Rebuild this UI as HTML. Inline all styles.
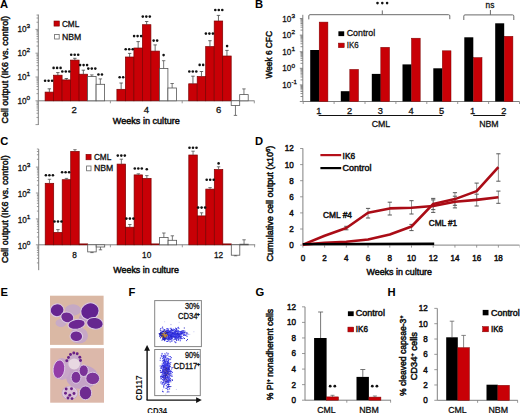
<!DOCTYPE html>
<html><head><meta charset="utf-8"><style>
html,body{margin:0;padding:0;background:#fff;width:520px;height:413px;overflow:hidden}
svg{display:block;font-family:"Liberation Sans", sans-serif}
</style></head><body>
<svg width="520" height="413" viewBox="0 0 520 413" font-family='"Liberation Sans", sans-serif'>
<rect width="520" height="413" fill="#fff"/>
<line x1="38.3" y1="14.5" x2="38.3" y2="125" stroke="#808080" stroke-width="1"/>
<line x1="35.5" y1="124.6" x2="38.3" y2="124.6" stroke="#808080" stroke-width="0.8"/>
<line x1="36.5" y1="117.44" x2="38.3" y2="117.44" stroke="#808080" stroke-width="0.8"/>
<line x1="36.5" y1="113.24" x2="38.3" y2="113.24" stroke="#808080" stroke-width="0.8"/>
<line x1="36.5" y1="110.27" x2="38.3" y2="110.27" stroke="#808080" stroke-width="0.8"/>
<line x1="36.5" y1="107.96" x2="38.3" y2="107.96" stroke="#808080" stroke-width="0.8"/>
<line x1="36.5" y1="106.08" x2="38.3" y2="106.08" stroke="#808080" stroke-width="0.8"/>
<line x1="36.5" y1="104.49" x2="38.3" y2="104.49" stroke="#808080" stroke-width="0.8"/>
<line x1="36.5" y1="103.11" x2="38.3" y2="103.11" stroke="#808080" stroke-width="0.8"/>
<line x1="36.5" y1="101.89" x2="38.3" y2="101.89" stroke="#808080" stroke-width="0.8"/>
<line x1="35.5" y1="100.8" x2="38.3" y2="100.8" stroke="#808080" stroke-width="0.8"/>
<line x1="36.5" y1="93.64" x2="38.3" y2="93.64" stroke="#808080" stroke-width="0.8"/>
<line x1="36.5" y1="89.44" x2="38.3" y2="89.44" stroke="#808080" stroke-width="0.8"/>
<line x1="36.5" y1="86.47" x2="38.3" y2="86.47" stroke="#808080" stroke-width="0.8"/>
<line x1="36.5" y1="84.16" x2="38.3" y2="84.16" stroke="#808080" stroke-width="0.8"/>
<line x1="36.5" y1="82.28" x2="38.3" y2="82.28" stroke="#808080" stroke-width="0.8"/>
<line x1="36.5" y1="80.69" x2="38.3" y2="80.69" stroke="#808080" stroke-width="0.8"/>
<line x1="36.5" y1="79.31" x2="38.3" y2="79.31" stroke="#808080" stroke-width="0.8"/>
<line x1="36.5" y1="78.09" x2="38.3" y2="78.09" stroke="#808080" stroke-width="0.8"/>
<line x1="35.5" y1="77.0" x2="38.3" y2="77.0" stroke="#808080" stroke-width="0.8"/>
<line x1="36.5" y1="69.84" x2="38.3" y2="69.84" stroke="#808080" stroke-width="0.8"/>
<line x1="36.5" y1="65.64" x2="38.3" y2="65.64" stroke="#808080" stroke-width="0.8"/>
<line x1="36.5" y1="62.67" x2="38.3" y2="62.67" stroke="#808080" stroke-width="0.8"/>
<line x1="36.5" y1="60.36" x2="38.3" y2="60.36" stroke="#808080" stroke-width="0.8"/>
<line x1="36.5" y1="58.48" x2="38.3" y2="58.48" stroke="#808080" stroke-width="0.8"/>
<line x1="36.5" y1="56.89" x2="38.3" y2="56.89" stroke="#808080" stroke-width="0.8"/>
<line x1="36.5" y1="55.51" x2="38.3" y2="55.51" stroke="#808080" stroke-width="0.8"/>
<line x1="36.5" y1="54.29" x2="38.3" y2="54.29" stroke="#808080" stroke-width="0.8"/>
<line x1="35.5" y1="53.2" x2="38.3" y2="53.2" stroke="#808080" stroke-width="0.8"/>
<line x1="36.5" y1="46.04" x2="38.3" y2="46.04" stroke="#808080" stroke-width="0.8"/>
<line x1="36.5" y1="41.84" x2="38.3" y2="41.84" stroke="#808080" stroke-width="0.8"/>
<line x1="36.5" y1="38.87" x2="38.3" y2="38.87" stroke="#808080" stroke-width="0.8"/>
<line x1="36.5" y1="36.56" x2="38.3" y2="36.56" stroke="#808080" stroke-width="0.8"/>
<line x1="36.5" y1="34.68" x2="38.3" y2="34.68" stroke="#808080" stroke-width="0.8"/>
<line x1="36.5" y1="33.09" x2="38.3" y2="33.09" stroke="#808080" stroke-width="0.8"/>
<line x1="36.5" y1="31.71" x2="38.3" y2="31.71" stroke="#808080" stroke-width="0.8"/>
<line x1="36.5" y1="30.49" x2="38.3" y2="30.49" stroke="#808080" stroke-width="0.8"/>
<line x1="35.5" y1="29.4" x2="38.3" y2="29.4" stroke="#808080" stroke-width="0.8"/>
<line x1="36.5" y1="22.24" x2="38.3" y2="22.24" stroke="#808080" stroke-width="0.8"/>
<line x1="36.5" y1="18.04" x2="38.3" y2="18.04" stroke="#808080" stroke-width="0.8"/>
<line x1="36.5" y1="15.07" x2="38.3" y2="15.07" stroke="#808080" stroke-width="0.8"/>
<line x1="38.3" y1="100.8" x2="254.5" y2="100.8" stroke="#808080" stroke-width="1"/>
<line x1="110.4" y1="100.8" x2="110.4" y2="103.3" stroke="#808080" stroke-width="0.8"/>
<line x1="182.2" y1="100.8" x2="182.2" y2="103.3" stroke="#808080" stroke-width="0.8"/>
<line x1="254.3" y1="100.8" x2="254.3" y2="103.3" stroke="#808080" stroke-width="0.8"/>
<text x="17.50" y="31.90" font-size="9.2" text-anchor="start" font-weight="normal" fill="#111" stroke="#111" stroke-width="0.3" textLength="9.1" lengthAdjust="spacingAndGlyphs">10</text>
<text x="26.60" y="28.00" font-size="6.0" text-anchor="start" font-weight="normal" fill="#111" stroke="#111" stroke-width="0.3" textLength="3.6" lengthAdjust="spacingAndGlyphs">3</text>
<text x="17.50" y="55.70" font-size="9.2" text-anchor="start" font-weight="normal" fill="#111" stroke="#111" stroke-width="0.3" textLength="9.1" lengthAdjust="spacingAndGlyphs">10</text>
<text x="26.60" y="51.80" font-size="6.0" text-anchor="start" font-weight="normal" fill="#111" stroke="#111" stroke-width="0.3" textLength="3.6" lengthAdjust="spacingAndGlyphs">2</text>
<text x="17.50" y="79.90" font-size="9.2" text-anchor="start" font-weight="normal" fill="#111" stroke="#111" stroke-width="0.3" textLength="9.1" lengthAdjust="spacingAndGlyphs">10</text>
<text x="26.60" y="76.00" font-size="6.0" text-anchor="start" font-weight="normal" fill="#111" stroke="#111" stroke-width="0.3" textLength="3.6" lengthAdjust="spacingAndGlyphs">1</text>
<text x="17.50" y="103.90" font-size="9.2" text-anchor="start" font-weight="normal" fill="#111" stroke="#111" stroke-width="0.3" textLength="9.1" lengthAdjust="spacingAndGlyphs">10</text>
<text x="26.60" y="100.00" font-size="6.0" text-anchor="start" font-weight="normal" fill="#111" stroke="#111" stroke-width="0.3" textLength="3.6" lengthAdjust="spacingAndGlyphs">0</text>
<rect x="45.1" y="92.1" width="8.5" height="8.7" fill="#c80006" stroke="#7c0000" stroke-width="0.7"/>
<line x1="49.35" y1="92.1" x2="49.35" y2="88.8" stroke="#444" stroke-width="0.8"/>
<line x1="47.65" y1="88.8" x2="51.050000000000004" y2="88.8" stroke="#444" stroke-width="0.8"/>
<rect x="53.6" y="75.2" width="8.5" height="25.6" fill="#c80006" stroke="#7c0000" stroke-width="0.7"/>
<line x1="57.85" y1="75.2" x2="57.85" y2="72.6" stroke="#444" stroke-width="0.8"/>
<line x1="56.15" y1="72.6" x2="59.550000000000004" y2="72.6" stroke="#444" stroke-width="0.8"/>
<rect x="62.1" y="79.9" width="8.5" height="20.9" fill="#c80006" stroke="#7c0000" stroke-width="0.7"/>
<line x1="66.35" y1="79.9" x2="66.35" y2="78.5" stroke="#444" stroke-width="0.8"/>
<line x1="64.64999999999999" y1="78.5" x2="68.05" y2="78.5" stroke="#444" stroke-width="0.8"/>
<rect x="70.6" y="60.1" width="8.5" height="40.7" fill="#c80006" stroke="#7c0000" stroke-width="0.7"/>
<line x1="74.85" y1="60.1" x2="74.85" y2="58.3" stroke="#444" stroke-width="0.8"/>
<line x1="73.14999999999999" y1="58.3" x2="76.55" y2="58.3" stroke="#444" stroke-width="0.8"/>
<rect x="79.1" y="74.2" width="8.5" height="26.6" fill="#c80006" stroke="#7c0000" stroke-width="0.7"/>
<line x1="83.35" y1="74.2" x2="83.35" y2="70.2" stroke="#444" stroke-width="0.8"/>
<line x1="81.64999999999999" y1="70.2" x2="85.05" y2="70.2" stroke="#444" stroke-width="0.8"/>
<rect x="87.6" y="76.5" width="8.5" height="24.3" fill="#fff" stroke="#555" stroke-width="0.8"/>
<line x1="91.85" y1="76.5" x2="91.85" y2="74.9" stroke="#555" stroke-width="0.8"/>
<line x1="90.14999999999999" y1="74.9" x2="93.55" y2="74.9" stroke="#555" stroke-width="0.8"/>
<rect x="96.1" y="84.3" width="8.5" height="16.5" fill="#fff" stroke="#555" stroke-width="0.8"/>
<line x1="100.35" y1="84.3" x2="100.35" y2="78.9" stroke="#555" stroke-width="0.8"/>
<line x1="98.64999999999999" y1="78.9" x2="102.05" y2="78.9" stroke="#555" stroke-width="0.8"/>
<circle cx="45.10" cy="80.7" r="1.3" fill="#111"/>
<circle cx="48.60" cy="80.7" r="1.3" fill="#111"/>
<circle cx="52.10" cy="80.7" r="1.3" fill="#111"/>
<circle cx="53.60" cy="67.9" r="1.3" fill="#111"/>
<circle cx="57.10" cy="67.9" r="1.3" fill="#111"/>
<circle cx="60.60" cy="67.9" r="1.3" fill="#111"/>
<circle cx="62.30" cy="71.5" r="1.3" fill="#111"/>
<circle cx="65.80" cy="71.5" r="1.3" fill="#111"/>
<circle cx="69.30" cy="71.5" r="1.3" fill="#111"/>
<circle cx="71.20" cy="54.7" r="1.3" fill="#111"/>
<circle cx="74.70" cy="54.7" r="1.3" fill="#111"/>
<circle cx="78.20" cy="54.7" r="1.3" fill="#111"/>
<circle cx="80.10" cy="65.1" r="1.3" fill="#111"/>
<circle cx="83.60" cy="65.1" r="1.3" fill="#111"/>
<circle cx="87.10" cy="65.1" r="1.3" fill="#111"/>
<circle cx="88.30" cy="68.6" r="1.3" fill="#111"/>
<circle cx="91.80" cy="68.6" r="1.3" fill="#111"/>
<circle cx="95.30" cy="68.6" r="1.3" fill="#111"/>
<circle cx="98.45" cy="74.5" r="1.3" fill="#111"/>
<circle cx="101.95" cy="74.5" r="1.3" fill="#111"/>
<rect x="116.9" y="89.3" width="8.5" height="11.5" fill="#c80006" stroke="#7c0000" stroke-width="0.7"/>
<line x1="121.15" y1="89.3" x2="121.15" y2="83" stroke="#444" stroke-width="0.8"/>
<line x1="119.45" y1="83" x2="122.85000000000001" y2="83" stroke="#444" stroke-width="0.8"/>
<rect x="125.4" y="57" width="8.5" height="43.8" fill="#c80006" stroke="#7c0000" stroke-width="0.7"/>
<line x1="129.65" y1="57" x2="129.65" y2="53.4" stroke="#444" stroke-width="0.8"/>
<line x1="127.95" y1="53.4" x2="131.35" y2="53.4" stroke="#444" stroke-width="0.8"/>
<rect x="133.9" y="48" width="8.5" height="52.8" fill="#c80006" stroke="#7c0000" stroke-width="0.7"/>
<line x1="138.15" y1="48" x2="138.15" y2="41.6" stroke="#444" stroke-width="0.8"/>
<line x1="136.45000000000002" y1="41.6" x2="139.85" y2="41.6" stroke="#444" stroke-width="0.8"/>
<rect x="142.4" y="24.7" width="8.5" height="76.1" fill="#c80006" stroke="#7c0000" stroke-width="0.7"/>
<line x1="146.65" y1="24.7" x2="146.65" y2="21.5" stroke="#444" stroke-width="0.8"/>
<line x1="144.95000000000002" y1="21.5" x2="148.35" y2="21.5" stroke="#444" stroke-width="0.8"/>
<rect x="150.9" y="51.1" width="8.5" height="49.7" fill="#c80006" stroke="#7c0000" stroke-width="0.7"/>
<line x1="155.15" y1="51.1" x2="155.15" y2="44.9" stroke="#444" stroke-width="0.8"/>
<line x1="153.45000000000002" y1="44.9" x2="156.85" y2="44.9" stroke="#444" stroke-width="0.8"/>
<rect x="159.4" y="68.5" width="8.5" height="32.3" fill="#fff" stroke="#555" stroke-width="0.8"/>
<line x1="163.65" y1="68.5" x2="163.65" y2="60.7" stroke="#555" stroke-width="0.8"/>
<line x1="161.95000000000002" y1="60.7" x2="165.35" y2="60.7" stroke="#555" stroke-width="0.8"/>
<rect x="167.9" y="88" width="8.5" height="12.8" fill="#fff" stroke="#555" stroke-width="0.8"/>
<line x1="172.15" y1="88" x2="172.15" y2="83.5" stroke="#555" stroke-width="0.8"/>
<line x1="170.45000000000002" y1="83.5" x2="173.85" y2="83.5" stroke="#555" stroke-width="0.8"/>
<circle cx="119.65" cy="77.2" r="1.3" fill="#111"/>
<circle cx="123.15" cy="77.2" r="1.3" fill="#111"/>
<circle cx="125.70" cy="49.3" r="1.3" fill="#111"/>
<circle cx="129.20" cy="49.3" r="1.3" fill="#111"/>
<circle cx="132.70" cy="49.3" r="1.3" fill="#111"/>
<circle cx="134.10" cy="36.1" r="1.3" fill="#111"/>
<circle cx="137.60" cy="36.1" r="1.3" fill="#111"/>
<circle cx="141.10" cy="36.1" r="1.3" fill="#111"/>
<circle cx="142.80" cy="16.6" r="1.3" fill="#111"/>
<circle cx="146.30" cy="16.6" r="1.3" fill="#111"/>
<circle cx="149.80" cy="16.6" r="1.3" fill="#111"/>
<circle cx="153.65" cy="40.6" r="1.3" fill="#111"/>
<circle cx="157.15" cy="40.6" r="1.3" fill="#111"/>
<circle cx="163.60" cy="55.1" r="1.3" fill="#111"/>
<rect x="188.7" y="83.8" width="8.5" height="17.0" fill="#c80006" stroke="#7c0000" stroke-width="0.7"/>
<line x1="192.95" y1="83.8" x2="192.95" y2="76.2" stroke="#444" stroke-width="0.8"/>
<line x1="191.25" y1="76.2" x2="194.64999999999998" y2="76.2" stroke="#444" stroke-width="0.8"/>
<rect x="197.2" y="76.6" width="8.5" height="24.2" fill="#c80006" stroke="#7c0000" stroke-width="0.7"/>
<line x1="201.45" y1="76.6" x2="201.45" y2="71.5" stroke="#444" stroke-width="0.8"/>
<line x1="199.75" y1="71.5" x2="203.14999999999998" y2="71.5" stroke="#444" stroke-width="0.8"/>
<rect x="205.7" y="46.6" width="8.5" height="54.2" fill="#c80006" stroke="#7c0000" stroke-width="0.7"/>
<line x1="209.95" y1="46.6" x2="209.95" y2="40.7" stroke="#444" stroke-width="0.8"/>
<line x1="208.25" y1="40.7" x2="211.64999999999998" y2="40.7" stroke="#444" stroke-width="0.8"/>
<rect x="214.2" y="21" width="8.5" height="79.8" fill="#c80006" stroke="#7c0000" stroke-width="0.7"/>
<line x1="218.45" y1="21" x2="218.45" y2="15.4" stroke="#444" stroke-width="0.8"/>
<line x1="216.75" y1="15.4" x2="220.14999999999998" y2="15.4" stroke="#444" stroke-width="0.8"/>
<rect x="222.7" y="56" width="8.5" height="44.8" fill="#c80006" stroke="#7c0000" stroke-width="0.7"/>
<line x1="226.95" y1="56" x2="226.95" y2="50.4" stroke="#444" stroke-width="0.8"/>
<line x1="225.25" y1="50.4" x2="228.64999999999998" y2="50.4" stroke="#444" stroke-width="0.8"/>
<rect x="231.2" y="100.8" width="8.5" height="4.6" fill="#fff" stroke="#555" stroke-width="0.8"/>
<line x1="235.45" y1="105.4" x2="235.45" y2="115.4" stroke="#555" stroke-width="0.8"/>
<line x1="233.75" y1="115.4" x2="237.14999999999998" y2="115.4" stroke="#555" stroke-width="0.8"/>
<rect x="239.7" y="94.6" width="8.5" height="6.2" fill="#fff" stroke="#555" stroke-width="0.8"/>
<line x1="243.95" y1="94.6" x2="243.95" y2="88.9" stroke="#555" stroke-width="0.8"/>
<line x1="242.25" y1="88.9" x2="245.64999999999998" y2="88.9" stroke="#555" stroke-width="0.8"/>
<circle cx="189.30" cy="71.5" r="1.3" fill="#111"/>
<circle cx="192.80" cy="71.5" r="1.3" fill="#111"/>
<circle cx="196.30" cy="71.5" r="1.3" fill="#111"/>
<circle cx="199.65" cy="64.9" r="1.3" fill="#111"/>
<circle cx="203.15" cy="64.9" r="1.3" fill="#111"/>
<circle cx="205.90" cy="33.6" r="1.3" fill="#111"/>
<circle cx="209.40" cy="33.6" r="1.3" fill="#111"/>
<circle cx="212.90" cy="33.6" r="1.3" fill="#111"/>
<circle cx="215.30" cy="10.0" r="1.3" fill="#111"/>
<circle cx="218.80" cy="10.0" r="1.3" fill="#111"/>
<circle cx="222.30" cy="10.0" r="1.3" fill="#111"/>
<circle cx="227.10" cy="46.1" r="1.3" fill="#111"/>
<rect x="54" y="21" width="5.3" height="5.1" fill="#c80006" stroke="#7c0000" stroke-width="0.6"/>
<text x="61.9" y="26.6" font-size="8.6" text-anchor="start" font-weight="normal" fill="#111" stroke="#111" stroke-width="0.3" textLength="17.4" lengthAdjust="spacingAndGlyphs">CML</text>
<rect x="54.6" y="34.5" width="4.6" height="4.5" fill="#fff" stroke="#666" stroke-width="0.8"/>
<text x="61.9" y="39.5" font-size="8.6" text-anchor="start" font-weight="normal" fill="#111" stroke="#111" stroke-width="0.3" textLength="19.3" lengthAdjust="spacingAndGlyphs">NBM</text>
<text x="74.2" y="113.1" font-size="9.5" text-anchor="middle" font-weight="normal" fill="#111" stroke="#111" stroke-width="0.3">2</text>
<text x="146.3" y="113.1" font-size="9.5" text-anchor="middle" font-weight="normal" fill="#111" stroke="#111" stroke-width="0.3">4</text>
<text x="218.6" y="113.1" font-size="9.5" text-anchor="middle" font-weight="normal" fill="#111" stroke="#111" stroke-width="0.3">6</text>
<text x="146.3" y="124.4" font-size="9.5" text-anchor="middle" font-weight="normal" fill="#111" stroke="#111" stroke-width="0.5" textLength="67" lengthAdjust="spacingAndGlyphs">Weeks in culture</text>
<text x="8.3" y="69.7" font-size="9.3" text-anchor="middle" font-weight="normal" fill="#111" stroke="#111" stroke-width="0.5" textLength="107.6" lengthAdjust="spacingAndGlyphs" transform="rotate(-90 8.3 69.7)">Cell output (IK6 vs. control)</text>
<text x="0.0" y="8.3" font-size="11.2" text-anchor="start" font-weight="bold" fill="#000">A</text>
<line x1="302.8" y1="14.8" x2="302.8" y2="101.5" stroke="#808080" stroke-width="1"/>
<line x1="299.8" y1="101.5" x2="302.8" y2="101.5" stroke="#707070" stroke-width="0.8"/>
<line x1="300.5" y1="96.5" x2="302.8" y2="96.5" stroke="#707070" stroke-width="0.8"/>
<line x1="300.5" y1="93.58" x2="302.8" y2="93.58" stroke="#707070" stroke-width="0.8"/>
<line x1="300.5" y1="91.51" x2="302.8" y2="91.51" stroke="#707070" stroke-width="0.8"/>
<line x1="300.5" y1="89.9" x2="302.8" y2="89.9" stroke="#707070" stroke-width="0.8"/>
<line x1="300.5" y1="88.58" x2="302.8" y2="88.58" stroke="#707070" stroke-width="0.8"/>
<line x1="300.5" y1="87.47" x2="302.8" y2="87.47" stroke="#707070" stroke-width="0.8"/>
<line x1="300.5" y1="86.51" x2="302.8" y2="86.51" stroke="#707070" stroke-width="0.8"/>
<line x1="300.5" y1="85.66" x2="302.8" y2="85.66" stroke="#707070" stroke-width="0.8"/>
<line x1="299.8" y1="84.9" x2="302.8" y2="84.9" stroke="#707070" stroke-width="0.8"/>
<line x1="300.5" y1="79.9" x2="302.8" y2="79.9" stroke="#707070" stroke-width="0.8"/>
<line x1="300.5" y1="76.98" x2="302.8" y2="76.98" stroke="#707070" stroke-width="0.8"/>
<line x1="300.5" y1="74.91" x2="302.8" y2="74.91" stroke="#707070" stroke-width="0.8"/>
<line x1="300.5" y1="73.3" x2="302.8" y2="73.3" stroke="#707070" stroke-width="0.8"/>
<line x1="300.5" y1="71.98" x2="302.8" y2="71.98" stroke="#707070" stroke-width="0.8"/>
<line x1="300.5" y1="70.87" x2="302.8" y2="70.87" stroke="#707070" stroke-width="0.8"/>
<line x1="300.5" y1="69.91" x2="302.8" y2="69.91" stroke="#707070" stroke-width="0.8"/>
<line x1="300.5" y1="69.06" x2="302.8" y2="69.06" stroke="#707070" stroke-width="0.8"/>
<line x1="299.8" y1="68.3" x2="302.8" y2="68.3" stroke="#707070" stroke-width="0.8"/>
<line x1="300.5" y1="63.3" x2="302.8" y2="63.3" stroke="#707070" stroke-width="0.8"/>
<line x1="300.5" y1="60.38" x2="302.8" y2="60.38" stroke="#707070" stroke-width="0.8"/>
<line x1="300.5" y1="58.31" x2="302.8" y2="58.31" stroke="#707070" stroke-width="0.8"/>
<line x1="300.5" y1="56.7" x2="302.8" y2="56.7" stroke="#707070" stroke-width="0.8"/>
<line x1="300.5" y1="55.38" x2="302.8" y2="55.38" stroke="#707070" stroke-width="0.8"/>
<line x1="300.5" y1="54.27" x2="302.8" y2="54.27" stroke="#707070" stroke-width="0.8"/>
<line x1="300.5" y1="53.31" x2="302.8" y2="53.31" stroke="#707070" stroke-width="0.8"/>
<line x1="300.5" y1="52.46" x2="302.8" y2="52.46" stroke="#707070" stroke-width="0.8"/>
<line x1="299.8" y1="51.7" x2="302.8" y2="51.7" stroke="#707070" stroke-width="0.8"/>
<line x1="300.5" y1="46.7" x2="302.8" y2="46.7" stroke="#707070" stroke-width="0.8"/>
<line x1="300.5" y1="43.78" x2="302.8" y2="43.78" stroke="#707070" stroke-width="0.8"/>
<line x1="300.5" y1="41.71" x2="302.8" y2="41.71" stroke="#707070" stroke-width="0.8"/>
<line x1="300.5" y1="40.1" x2="302.8" y2="40.1" stroke="#707070" stroke-width="0.8"/>
<line x1="300.5" y1="38.78" x2="302.8" y2="38.78" stroke="#707070" stroke-width="0.8"/>
<line x1="300.5" y1="37.67" x2="302.8" y2="37.67" stroke="#707070" stroke-width="0.8"/>
<line x1="300.5" y1="36.71" x2="302.8" y2="36.71" stroke="#707070" stroke-width="0.8"/>
<line x1="300.5" y1="35.86" x2="302.8" y2="35.86" stroke="#707070" stroke-width="0.8"/>
<line x1="299.8" y1="35.1" x2="302.8" y2="35.1" stroke="#707070" stroke-width="0.8"/>
<line x1="300.5" y1="30.1" x2="302.8" y2="30.1" stroke="#707070" stroke-width="0.8"/>
<line x1="300.5" y1="27.18" x2="302.8" y2="27.18" stroke="#707070" stroke-width="0.8"/>
<line x1="300.5" y1="25.11" x2="302.8" y2="25.11" stroke="#707070" stroke-width="0.8"/>
<line x1="300.5" y1="23.5" x2="302.8" y2="23.5" stroke="#707070" stroke-width="0.8"/>
<line x1="300.5" y1="22.18" x2="302.8" y2="22.18" stroke="#707070" stroke-width="0.8"/>
<line x1="300.5" y1="21.07" x2="302.8" y2="21.07" stroke="#707070" stroke-width="0.8"/>
<line x1="300.5" y1="20.11" x2="302.8" y2="20.11" stroke="#707070" stroke-width="0.8"/>
<line x1="300.5" y1="19.26" x2="302.8" y2="19.26" stroke="#707070" stroke-width="0.8"/>
<line x1="299.8" y1="18.5" x2="302.8" y2="18.5" stroke="#707070" stroke-width="0.8"/>
<line x1="302.8" y1="101.5" x2="519.5" y2="101.5" stroke="#808080" stroke-width="1"/>
<line x1="303.2" y1="101.5" x2="303.2" y2="104.0" stroke="#808080" stroke-width="0.8"/>
<line x1="334.09999999999997" y1="101.5" x2="334.09999999999997" y2="104.0" stroke="#808080" stroke-width="0.8"/>
<line x1="365.0" y1="101.5" x2="365.0" y2="104.0" stroke="#808080" stroke-width="0.8"/>
<line x1="395.9" y1="101.5" x2="395.9" y2="104.0" stroke="#808080" stroke-width="0.8"/>
<line x1="426.79999999999995" y1="101.5" x2="426.79999999999995" y2="104.0" stroke="#808080" stroke-width="0.8"/>
<line x1="457.7" y1="101.5" x2="457.7" y2="104.0" stroke="#808080" stroke-width="0.8"/>
<line x1="488.59999999999997" y1="101.5" x2="488.59999999999997" y2="104.0" stroke="#808080" stroke-width="0.8"/>
<line x1="519.5" y1="101.5" x2="519.5" y2="104.0" stroke="#808080" stroke-width="0.8"/>
<text x="282.30" y="21.60" font-size="9.2" text-anchor="start" font-weight="normal" fill="#111" stroke="#111" stroke-width="0.3" textLength="9.1" lengthAdjust="spacingAndGlyphs">10</text>
<text x="291.40" y="17.70" font-size="6.0" text-anchor="start" font-weight="normal" fill="#111" stroke="#111" stroke-width="0.3" textLength="3.6" lengthAdjust="spacingAndGlyphs">3</text>
<text x="282.30" y="38.30" font-size="9.2" text-anchor="start" font-weight="normal" fill="#111" stroke="#111" stroke-width="0.3" textLength="9.1" lengthAdjust="spacingAndGlyphs">10</text>
<text x="291.40" y="34.40" font-size="6.0" text-anchor="start" font-weight="normal" fill="#111" stroke="#111" stroke-width="0.3" textLength="3.6" lengthAdjust="spacingAndGlyphs">2</text>
<text x="282.30" y="55.00" font-size="9.2" text-anchor="start" font-weight="normal" fill="#111" stroke="#111" stroke-width="0.3" textLength="9.1" lengthAdjust="spacingAndGlyphs">10</text>
<text x="291.40" y="51.10" font-size="6.0" text-anchor="start" font-weight="normal" fill="#111" stroke="#111" stroke-width="0.3" textLength="3.6" lengthAdjust="spacingAndGlyphs">1</text>
<text x="282.30" y="71.40" font-size="9.2" text-anchor="start" font-weight="normal" fill="#111" stroke="#111" stroke-width="0.3" textLength="9.1" lengthAdjust="spacingAndGlyphs">10</text>
<text x="291.40" y="67.50" font-size="6.0" text-anchor="start" font-weight="normal" fill="#111" stroke="#111" stroke-width="0.3" textLength="3.6" lengthAdjust="spacingAndGlyphs">0</text>
<text x="282.30" y="88.10" font-size="9.2" text-anchor="start" font-weight="normal" fill="#111" stroke="#111" stroke-width="0.3" textLength="9.1" lengthAdjust="spacingAndGlyphs">10</text>
<text x="291.40" y="84.20" font-size="6.0" text-anchor="start" font-weight="normal" fill="#111" stroke="#111" stroke-width="0.3" textLength="5.4" lengthAdjust="spacingAndGlyphs">-1</text>
<rect x="310.2" y="50.0" width="9.0" height="51.5" fill="#000" stroke="none" stroke-width="0.8"/>
<rect x="319.2" y="22.1" width="8.7" height="79.4" fill="#c80006" stroke="#7c0000" stroke-width="0.5"/>
<rect x="340.8" y="91.2" width="9.0" height="10.3" fill="#000" stroke="none" stroke-width="0.8"/>
<rect x="349.8" y="69.4" width="8.7" height="32.1" fill="#c80006" stroke="#7c0000" stroke-width="0.5"/>
<rect x="371.8" y="73.9" width="9.0" height="27.6" fill="#000" stroke="none" stroke-width="0.8"/>
<rect x="380.8" y="47.3" width="8.7" height="54.2" fill="#c80006" stroke="#7c0000" stroke-width="0.5"/>
<rect x="402.5" y="64.4" width="9.0" height="37.1" fill="#000" stroke="none" stroke-width="0.8"/>
<rect x="411.5" y="38.2" width="8.7" height="63.3" fill="#c80006" stroke="#7c0000" stroke-width="0.5"/>
<rect x="433.3" y="68.3" width="9.0" height="33.2" fill="#000" stroke="none" stroke-width="0.8"/>
<rect x="442.3" y="50.8" width="8.7" height="50.7" fill="#c80006" stroke="#7c0000" stroke-width="0.5"/>
<rect x="464.3" y="37.3" width="9.0" height="64.2" fill="#000" stroke="none" stroke-width="0.8"/>
<rect x="473.3" y="57.6" width="8.7" height="43.9" fill="#c80006" stroke="#7c0000" stroke-width="0.5"/>
<rect x="495.2" y="23.3" width="9.0" height="78.2" fill="#000" stroke="none" stroke-width="0.8"/>
<rect x="504.2" y="36.3" width="8.7" height="65.2" fill="#c80006" stroke="#7c0000" stroke-width="0.5"/>
<text x="318.8" y="114.2" font-size="9.3" text-anchor="middle" font-weight="normal" fill="#111" stroke="#111" stroke-width="0.3">1</text>
<text x="349.7" y="114.2" font-size="9.3" text-anchor="middle" font-weight="normal" fill="#111" stroke="#111" stroke-width="0.3">2</text>
<text x="380.3" y="114.2" font-size="9.3" text-anchor="middle" font-weight="normal" fill="#111" stroke="#111" stroke-width="0.3">3</text>
<text x="411.0" y="114.2" font-size="9.3" text-anchor="middle" font-weight="normal" fill="#111" stroke="#111" stroke-width="0.3">4</text>
<text x="441.6" y="114.2" font-size="9.3" text-anchor="middle" font-weight="normal" fill="#111" stroke="#111" stroke-width="0.3">5</text>
<text x="472.7" y="114.2" font-size="9.3" text-anchor="middle" font-weight="normal" fill="#111" stroke="#111" stroke-width="0.3">1</text>
<text x="503.9" y="114.2" font-size="9.3" text-anchor="middle" font-weight="normal" fill="#111" stroke="#111" stroke-width="0.3">2</text>
<line x1="318.6" y1="115.5" x2="442.4" y2="115.5" stroke="#111" stroke-width="1"/>
<line x1="473.2" y1="115.5" x2="505.2" y2="115.5" stroke="#111" stroke-width="1"/>
<text x="381" y="126.6" font-size="9.3" text-anchor="middle" font-weight="normal" fill="#111" stroke="#111" stroke-width="0.3" textLength="18.5" lengthAdjust="spacingAndGlyphs">CML</text>
<text x="488.9" y="126.5" font-size="9.3" text-anchor="middle" font-weight="normal" fill="#111" stroke="#111" stroke-width="0.3" textLength="19.5" lengthAdjust="spacingAndGlyphs">NBM</text>
<path d="M308.8 19.4 V15.9 Q308.8 14.7 310 14.7 H448.6 Q449.8 14.7 449.8 15.9 V19.2 M382.3 14.7 V10.4" fill="none" stroke="#6a6a6a" stroke-width="1"/>
<circle cx="377.50" cy="3.1" r="1.3" fill="#111"/>
<circle cx="382.30" cy="3.1" r="1.3" fill="#111"/>
<circle cx="387.10" cy="3.1" r="1.3" fill="#111"/>
<path d="M463.8 20 V16.1 Q463.8 14.9 465 14.9 H512.6 Q513.8 14.9 513.8 16.1 V20 M490.4 14.9 V10" fill="none" stroke="#6a6a6a" stroke-width="1"/>
<text x="490.0" y="8.1" font-size="9.3" text-anchor="middle" font-weight="normal" fill="#111" stroke="#111" stroke-width="0.3" textLength="8.8" lengthAdjust="spacingAndGlyphs">ns</text>
<rect x="338.4" y="31.3" width="5.8" height="4.8" fill="#000" stroke="none" stroke-width="0.8"/>
<text x="346.7" y="36.4" font-size="9.3" text-anchor="start" font-weight="normal" fill="#111" stroke="#111" stroke-width="0.3" textLength="28.5" lengthAdjust="spacingAndGlyphs">Control</text>
<rect x="338.4" y="43.1" width="5.8" height="4.6" fill="#c80006" stroke="#7c0000" stroke-width="0.5"/>
<text x="346.7" y="48.1" font-size="9.3" text-anchor="start" font-weight="normal" fill="#111" stroke="#111" stroke-width="0.3" textLength="11.9" lengthAdjust="spacingAndGlyphs">IK6</text>
<text x="272.0" y="54.8" font-size="9.5" text-anchor="middle" font-weight="normal" fill="#111" stroke="#111" stroke-width="0.5" textLength="47.5" lengthAdjust="spacingAndGlyphs" transform="rotate(-90 272.0 54.8)">Week 6 CFC</text>
<text x="255.0" y="8.3" font-size="11.2" text-anchor="start" font-weight="bold" fill="#000">B</text>
<line x1="38.7" y1="149.1" x2="38.7" y2="270.2" stroke="#808080" stroke-width="1"/>
<line x1="36.900000000000006" y1="262.9" x2="38.7" y2="262.9" stroke="#808080" stroke-width="0.8"/>
<line x1="36.900000000000006" y1="258.34" x2="38.7" y2="258.34" stroke="#808080" stroke-width="0.8"/>
<line x1="36.900000000000006" y1="255.11" x2="38.7" y2="255.11" stroke="#808080" stroke-width="0.8"/>
<line x1="36.900000000000006" y1="252.6" x2="38.7" y2="252.6" stroke="#808080" stroke-width="0.8"/>
<line x1="36.900000000000006" y1="250.55" x2="38.7" y2="250.55" stroke="#808080" stroke-width="0.8"/>
<line x1="36.900000000000006" y1="248.81" x2="38.7" y2="248.81" stroke="#808080" stroke-width="0.8"/>
<line x1="36.900000000000006" y1="247.31" x2="38.7" y2="247.31" stroke="#808080" stroke-width="0.8"/>
<line x1="36.900000000000006" y1="245.99" x2="38.7" y2="245.99" stroke="#808080" stroke-width="0.8"/>
<line x1="35.900000000000006" y1="244.8" x2="38.7" y2="244.8" stroke="#808080" stroke-width="0.8"/>
<line x1="36.900000000000006" y1="237.0" x2="38.7" y2="237.0" stroke="#808080" stroke-width="0.8"/>
<line x1="36.900000000000006" y1="232.44" x2="38.7" y2="232.44" stroke="#808080" stroke-width="0.8"/>
<line x1="36.900000000000006" y1="229.21" x2="38.7" y2="229.21" stroke="#808080" stroke-width="0.8"/>
<line x1="36.900000000000006" y1="226.7" x2="38.7" y2="226.7" stroke="#808080" stroke-width="0.8"/>
<line x1="36.900000000000006" y1="224.65" x2="38.7" y2="224.65" stroke="#808080" stroke-width="0.8"/>
<line x1="36.900000000000006" y1="222.91" x2="38.7" y2="222.91" stroke="#808080" stroke-width="0.8"/>
<line x1="36.900000000000006" y1="221.41" x2="38.7" y2="221.41" stroke="#808080" stroke-width="0.8"/>
<line x1="36.900000000000006" y1="220.09" x2="38.7" y2="220.09" stroke="#808080" stroke-width="0.8"/>
<line x1="35.900000000000006" y1="218.9" x2="38.7" y2="218.9" stroke="#808080" stroke-width="0.8"/>
<line x1="36.900000000000006" y1="211.1" x2="38.7" y2="211.1" stroke="#808080" stroke-width="0.8"/>
<line x1="36.900000000000006" y1="206.54" x2="38.7" y2="206.54" stroke="#808080" stroke-width="0.8"/>
<line x1="36.900000000000006" y1="203.31" x2="38.7" y2="203.31" stroke="#808080" stroke-width="0.8"/>
<line x1="36.900000000000006" y1="200.8" x2="38.7" y2="200.8" stroke="#808080" stroke-width="0.8"/>
<line x1="36.900000000000006" y1="198.75" x2="38.7" y2="198.75" stroke="#808080" stroke-width="0.8"/>
<line x1="36.900000000000006" y1="197.01" x2="38.7" y2="197.01" stroke="#808080" stroke-width="0.8"/>
<line x1="36.900000000000006" y1="195.51" x2="38.7" y2="195.51" stroke="#808080" stroke-width="0.8"/>
<line x1="36.900000000000006" y1="194.19" x2="38.7" y2="194.19" stroke="#808080" stroke-width="0.8"/>
<line x1="35.900000000000006" y1="193.0" x2="38.7" y2="193.0" stroke="#808080" stroke-width="0.8"/>
<line x1="36.900000000000006" y1="185.2" x2="38.7" y2="185.2" stroke="#808080" stroke-width="0.8"/>
<line x1="36.900000000000006" y1="180.64" x2="38.7" y2="180.64" stroke="#808080" stroke-width="0.8"/>
<line x1="36.900000000000006" y1="177.41" x2="38.7" y2="177.41" stroke="#808080" stroke-width="0.8"/>
<line x1="36.900000000000006" y1="174.9" x2="38.7" y2="174.9" stroke="#808080" stroke-width="0.8"/>
<line x1="36.900000000000006" y1="172.85" x2="38.7" y2="172.85" stroke="#808080" stroke-width="0.8"/>
<line x1="36.900000000000006" y1="171.11" x2="38.7" y2="171.11" stroke="#808080" stroke-width="0.8"/>
<line x1="36.900000000000006" y1="169.61" x2="38.7" y2="169.61" stroke="#808080" stroke-width="0.8"/>
<line x1="36.900000000000006" y1="168.29" x2="38.7" y2="168.29" stroke="#808080" stroke-width="0.8"/>
<line x1="35.900000000000006" y1="167.1" x2="38.7" y2="167.1" stroke="#808080" stroke-width="0.8"/>
<line x1="36.900000000000006" y1="159.3" x2="38.7" y2="159.3" stroke="#808080" stroke-width="0.8"/>
<line x1="36.900000000000006" y1="154.74" x2="38.7" y2="154.74" stroke="#808080" stroke-width="0.8"/>
<line x1="36.900000000000006" y1="151.51" x2="38.7" y2="151.51" stroke="#808080" stroke-width="0.8"/>
<line x1="36.900000000000006" y1="149.0" x2="38.7" y2="149.0" stroke="#808080" stroke-width="0.8"/>
<line x1="38.7" y1="244.8" x2="255.2" y2="244.8" stroke="#808080" stroke-width="1"/>
<line x1="110.4" y1="244.8" x2="110.4" y2="247.3" stroke="#808080" stroke-width="0.8"/>
<line x1="182.3" y1="244.8" x2="182.3" y2="247.3" stroke="#808080" stroke-width="0.8"/>
<line x1="254.6" y1="244.8" x2="254.6" y2="247.3" stroke="#808080" stroke-width="0.8"/>
<text x="17.70" y="170.90" font-size="9.2" text-anchor="start" font-weight="normal" fill="#111" stroke="#111" stroke-width="0.3" textLength="9.1" lengthAdjust="spacingAndGlyphs">10</text>
<text x="26.80" y="167.00" font-size="6.0" text-anchor="start" font-weight="normal" fill="#111" stroke="#111" stroke-width="0.3" textLength="3.6" lengthAdjust="spacingAndGlyphs">3</text>
<text x="17.70" y="197.00" font-size="9.2" text-anchor="start" font-weight="normal" fill="#111" stroke="#111" stroke-width="0.3" textLength="9.1" lengthAdjust="spacingAndGlyphs">10</text>
<text x="26.80" y="193.10" font-size="6.0" text-anchor="start" font-weight="normal" fill="#111" stroke="#111" stroke-width="0.3" textLength="3.6" lengthAdjust="spacingAndGlyphs">2</text>
<text x="17.70" y="223.10" font-size="9.2" text-anchor="start" font-weight="normal" fill="#111" stroke="#111" stroke-width="0.3" textLength="9.1" lengthAdjust="spacingAndGlyphs">10</text>
<text x="26.80" y="219.20" font-size="6.0" text-anchor="start" font-weight="normal" fill="#111" stroke="#111" stroke-width="0.3" textLength="3.6" lengthAdjust="spacingAndGlyphs">1</text>
<text x="17.70" y="248.70" font-size="9.2" text-anchor="start" font-weight="normal" fill="#111" stroke="#111" stroke-width="0.3" textLength="9.1" lengthAdjust="spacingAndGlyphs">10</text>
<text x="26.80" y="244.80" font-size="6.0" text-anchor="start" font-weight="normal" fill="#111" stroke="#111" stroke-width="0.3" textLength="3.6" lengthAdjust="spacingAndGlyphs">0</text>
<rect x="45.2" y="183.3" width="8.5" height="61.5" fill="#c80006" stroke="#7c0000" stroke-width="0.7"/>
<line x1="49.45" y1="183.3" x2="49.45" y2="179.3" stroke="#555" stroke-width="0.8"/>
<line x1="47.75" y1="179.3" x2="51.150000000000006" y2="179.3" stroke="#555" stroke-width="0.8"/>
<rect x="53.7" y="232.4" width="8.5" height="12.4" fill="#c80006" stroke="#7c0000" stroke-width="0.7"/>
<line x1="57.95" y1="232.4" x2="57.95" y2="229.6" stroke="#555" stroke-width="0.8"/>
<line x1="56.25" y1="229.6" x2="59.650000000000006" y2="229.6" stroke="#555" stroke-width="0.8"/>
<rect x="62.2" y="179.7" width="8.5" height="65.1" fill="#c80006" stroke="#7c0000" stroke-width="0.7"/>
<line x1="66.45" y1="179.7" x2="66.45" y2="178.4" stroke="#555" stroke-width="0.8"/>
<line x1="64.75" y1="178.4" x2="68.15" y2="178.4" stroke="#555" stroke-width="0.8"/>
<rect x="70.7" y="151.4" width="8.5" height="93.4" fill="#c80006" stroke="#7c0000" stroke-width="0.7"/>
<line x1="74.95" y1="151.4" x2="74.95" y2="149.7" stroke="#555" stroke-width="0.8"/>
<line x1="73.25" y1="149.7" x2="76.65" y2="149.7" stroke="#555" stroke-width="0.8"/>
<rect x="79.2" y="243.9" width="8.5" height="0.9" fill="#c80006" stroke="#7c0000" stroke-width="0.7"/>
<rect x="87.7" y="244.8" width="8.5" height="7.1" fill="#fff" stroke="#555" stroke-width="0.8"/>
<line x1="91.95" y1="251.9" x2="91.95" y2="252.6" stroke="#555" stroke-width="0.8"/>
<line x1="90.25" y1="252.6" x2="93.65" y2="252.6" stroke="#555" stroke-width="0.8"/>
<rect x="96.2" y="244.8" width="8.5" height="2.2" fill="#fff" stroke="#555" stroke-width="0.8"/>
<line x1="100.45" y1="247.0" x2="100.45" y2="249.8" stroke="#555" stroke-width="0.8"/>
<line x1="98.75" y1="249.8" x2="102.15" y2="249.8" stroke="#555" stroke-width="0.8"/>
<circle cx="45.90" cy="175.3" r="1.3" fill="#111"/>
<circle cx="49.40" cy="175.3" r="1.3" fill="#111"/>
<circle cx="52.90" cy="175.3" r="1.3" fill="#111"/>
<circle cx="54.50" cy="221.5" r="1.3" fill="#111"/>
<circle cx="58.00" cy="221.5" r="1.3" fill="#111"/>
<circle cx="61.50" cy="221.5" r="1.3" fill="#111"/>
<circle cx="62.10" cy="172.3" r="1.3" fill="#111"/>
<circle cx="65.60" cy="172.3" r="1.3" fill="#111"/>
<circle cx="69.10" cy="172.3" r="1.3" fill="#111"/>
<rect x="117.1" y="164.1" width="8.5" height="80.7" fill="#c80006" stroke="#7c0000" stroke-width="0.7"/>
<line x1="121.35" y1="164.1" x2="121.35" y2="159.2" stroke="#555" stroke-width="0.8"/>
<line x1="119.64999999999999" y1="159.2" x2="123.05" y2="159.2" stroke="#555" stroke-width="0.8"/>
<rect x="125.6" y="227.2" width="8.5" height="17.6" fill="#c80006" stroke="#7c0000" stroke-width="0.7"/>
<line x1="129.85" y1="227.2" x2="129.85" y2="224.5" stroke="#555" stroke-width="0.8"/>
<line x1="128.15" y1="224.5" x2="131.54999999999998" y2="224.5" stroke="#555" stroke-width="0.8"/>
<rect x="134.1" y="174.9" width="8.5" height="69.9" fill="#c80006" stroke="#7c0000" stroke-width="0.7"/>
<line x1="138.35" y1="174.9" x2="138.35" y2="173.8" stroke="#555" stroke-width="0.8"/>
<line x1="136.65" y1="173.8" x2="140.04999999999998" y2="173.8" stroke="#555" stroke-width="0.8"/>
<rect x="142.6" y="178.4" width="8.5" height="66.4" fill="#c80006" stroke="#7c0000" stroke-width="0.7"/>
<line x1="146.85" y1="178.4" x2="146.85" y2="175.6" stroke="#555" stroke-width="0.8"/>
<line x1="145.15" y1="175.6" x2="148.54999999999998" y2="175.6" stroke="#555" stroke-width="0.8"/>
<rect x="151.1" y="243.9" width="8.5" height="0.9" fill="#c80006" stroke="#7c0000" stroke-width="0.7"/>
<rect x="159.6" y="237.4" width="8.5" height="7.4" fill="#fff" stroke="#555" stroke-width="0.8"/>
<line x1="163.85" y1="237.4" x2="163.85" y2="233.0" stroke="#555" stroke-width="0.8"/>
<line x1="162.15" y1="233.0" x2="165.54999999999998" y2="233.0" stroke="#555" stroke-width="0.8"/>
<rect x="168.1" y="240.3" width="8.5" height="4.5" fill="#fff" stroke="#555" stroke-width="0.8"/>
<line x1="172.35" y1="240.3" x2="172.35" y2="235.8" stroke="#555" stroke-width="0.8"/>
<line x1="170.65" y1="235.8" x2="174.04999999999998" y2="235.8" stroke="#555" stroke-width="0.8"/>
<circle cx="117.80" cy="155.6" r="1.3" fill="#111"/>
<circle cx="121.30" cy="155.6" r="1.3" fill="#111"/>
<circle cx="124.80" cy="155.6" r="1.3" fill="#111"/>
<circle cx="126.40" cy="218.6" r="1.3" fill="#111"/>
<circle cx="129.90" cy="218.6" r="1.3" fill="#111"/>
<circle cx="133.40" cy="218.6" r="1.3" fill="#111"/>
<circle cx="134.80" cy="168.5" r="1.3" fill="#111"/>
<circle cx="138.30" cy="168.5" r="1.3" fill="#111"/>
<circle cx="141.80" cy="168.5" r="1.3" fill="#111"/>
<circle cx="146.80" cy="169.2" r="1.3" fill="#111"/>
<rect x="188.8" y="155.0" width="8.5" height="89.8" fill="#c80006" stroke="#7c0000" stroke-width="0.7"/>
<line x1="193.05" y1="155.0" x2="193.05" y2="151.2" stroke="#555" stroke-width="0.8"/>
<line x1="191.35000000000002" y1="151.2" x2="194.75" y2="151.2" stroke="#555" stroke-width="0.8"/>
<rect x="197.3" y="215.9" width="8.5" height="28.9" fill="#c80006" stroke="#7c0000" stroke-width="0.7"/>
<line x1="201.55" y1="215.9" x2="201.55" y2="212.8" stroke="#555" stroke-width="0.8"/>
<line x1="199.85000000000002" y1="212.8" x2="203.25" y2="212.8" stroke="#555" stroke-width="0.8"/>
<rect x="205.8" y="189.1" width="8.5" height="55.7" fill="#c80006" stroke="#7c0000" stroke-width="0.7"/>
<line x1="210.05" y1="189.1" x2="210.05" y2="187.6" stroke="#555" stroke-width="0.8"/>
<line x1="208.35000000000002" y1="187.6" x2="211.75" y2="187.6" stroke="#555" stroke-width="0.8"/>
<rect x="214.3" y="169.5" width="8.5" height="75.3" fill="#c80006" stroke="#7c0000" stroke-width="0.7"/>
<line x1="218.55" y1="169.5" x2="218.55" y2="166.8" stroke="#555" stroke-width="0.8"/>
<line x1="216.85000000000002" y1="166.8" x2="220.25" y2="166.8" stroke="#555" stroke-width="0.8"/>
<rect x="222.8" y="243.9" width="8.5" height="0.9" fill="#c80006" stroke="#7c0000" stroke-width="0.7"/>
<rect x="231.3" y="244.8" width="8.5" height="10.4" fill="#fff" stroke="#555" stroke-width="0.8"/>
<line x1="235.55" y1="255.2" x2="235.55" y2="255.8" stroke="#555" stroke-width="0.8"/>
<line x1="233.85000000000002" y1="255.8" x2="237.25" y2="255.8" stroke="#555" stroke-width="0.8"/>
<rect x="239.8" y="244.2" width="8.5" height="0.6" fill="#fff" stroke="#555" stroke-width="0.8"/>
<line x1="244.05" y1="244.2" x2="244.05" y2="239.8" stroke="#555" stroke-width="0.8"/>
<line x1="242.35000000000002" y1="239.8" x2="245.75" y2="239.8" stroke="#555" stroke-width="0.8"/>
<circle cx="189.50" cy="147.7" r="1.3" fill="#111"/>
<circle cx="193.00" cy="147.7" r="1.3" fill="#111"/>
<circle cx="196.50" cy="147.7" r="1.3" fill="#111"/>
<circle cx="198.10" cy="207.6" r="1.3" fill="#111"/>
<circle cx="201.60" cy="207.6" r="1.3" fill="#111"/>
<circle cx="205.10" cy="207.6" r="1.3" fill="#111"/>
<circle cx="206.70" cy="179.8" r="1.3" fill="#111"/>
<circle cx="210.20" cy="179.8" r="1.3" fill="#111"/>
<circle cx="213.70" cy="179.8" r="1.3" fill="#111"/>
<circle cx="218.60" cy="163.4" r="1.3" fill="#111"/>
<rect x="86" y="154.3" width="5.1" height="5.5" fill="#c80006" stroke="#7c0000" stroke-width="0.6"/>
<text x="93.9" y="160.2" font-size="8.6" text-anchor="start" font-weight="normal" fill="#111" stroke="#111" stroke-width="0.3" textLength="17.4" lengthAdjust="spacingAndGlyphs">CML</text>
<rect x="86.6" y="166.0" width="4.4" height="4.8" fill="#fff" stroke="#666" stroke-width="0.8"/>
<text x="93.9" y="171.2" font-size="8.6" text-anchor="start" font-weight="normal" fill="#111" stroke="#111" stroke-width="0.3" textLength="19.3" lengthAdjust="spacingAndGlyphs">NBM</text>
<text x="74.6" y="258.3" font-size="9.5" text-anchor="middle" font-weight="normal" fill="#111" stroke="#111" stroke-width="0.3" textLength="4.6" lengthAdjust="spacingAndGlyphs">8</text>
<text x="146.7" y="258.3" font-size="9.5" text-anchor="middle" font-weight="normal" fill="#111" stroke="#111" stroke-width="0.3" textLength="9.2" lengthAdjust="spacingAndGlyphs">10</text>
<text x="218.5" y="258.3" font-size="9.5" text-anchor="middle" font-weight="normal" fill="#111" stroke="#111" stroke-width="0.3" textLength="9.2" lengthAdjust="spacingAndGlyphs">12</text>
<text x="146.1" y="273.1" font-size="9.5" text-anchor="middle" font-weight="normal" fill="#111" stroke="#111" stroke-width="0.5" textLength="65.6" lengthAdjust="spacingAndGlyphs">Weeks in culture</text>
<text x="8.3" y="209.2" font-size="9.3" text-anchor="middle" font-weight="normal" fill="#111" stroke="#111" stroke-width="0.5" textLength="107.8" lengthAdjust="spacingAndGlyphs" transform="rotate(-90 8.3 209.2)">Cell output (IK6 vs. control)</text>
<text x="0.3" y="144.6" font-size="11.2" text-anchor="start" font-weight="bold" fill="#000">C</text>
<line x1="302.9" y1="148.4" x2="302.9" y2="245.1" stroke="#808080" stroke-width="1"/>
<line x1="300.09999999999997" y1="245.1" x2="302.9" y2="245.1" stroke="#808080" stroke-width="0.8"/>
<text x="293.8" y="248.0" font-size="9.3" text-anchor="end" font-weight="normal" fill="#111" stroke="#111" stroke-width="0.5" textLength="4.5" lengthAdjust="spacingAndGlyphs">0</text>
<line x1="300.09999999999997" y1="229.0" x2="302.9" y2="229.0" stroke="#808080" stroke-width="0.8"/>
<text x="293.8" y="231.9" font-size="9.3" text-anchor="end" font-weight="normal" fill="#111" stroke="#111" stroke-width="0.5" textLength="4.5" lengthAdjust="spacingAndGlyphs">2</text>
<line x1="300.09999999999997" y1="212.89999999999998" x2="302.9" y2="212.89999999999998" stroke="#808080" stroke-width="0.8"/>
<text x="293.8" y="215.79999999999998" font-size="9.3" text-anchor="end" font-weight="normal" fill="#111" stroke="#111" stroke-width="0.5" textLength="4.5" lengthAdjust="spacingAndGlyphs">4</text>
<line x1="300.09999999999997" y1="196.79999999999998" x2="302.9" y2="196.79999999999998" stroke="#808080" stroke-width="0.8"/>
<text x="293.8" y="199.7" font-size="9.3" text-anchor="end" font-weight="normal" fill="#111" stroke="#111" stroke-width="0.5" textLength="4.5" lengthAdjust="spacingAndGlyphs">6</text>
<line x1="300.09999999999997" y1="180.7" x2="302.9" y2="180.7" stroke="#808080" stroke-width="0.8"/>
<text x="293.8" y="183.6" font-size="9.3" text-anchor="end" font-weight="normal" fill="#111" stroke="#111" stroke-width="0.5" textLength="4.5" lengthAdjust="spacingAndGlyphs">8</text>
<line x1="300.09999999999997" y1="164.6" x2="302.9" y2="164.6" stroke="#808080" stroke-width="0.8"/>
<text x="293.8" y="167.5" font-size="9.3" text-anchor="end" font-weight="normal" fill="#111" stroke="#111" stroke-width="0.5" textLength="9.0" lengthAdjust="spacingAndGlyphs">10</text>
<line x1="300.09999999999997" y1="148.5" x2="302.9" y2="148.5" stroke="#808080" stroke-width="0.8"/>
<text x="293.8" y="151.4" font-size="9.3" text-anchor="end" font-weight="normal" fill="#111" stroke="#111" stroke-width="0.5" textLength="9.0" lengthAdjust="spacingAndGlyphs">12</text>
<line x1="302.9" y1="245.1" x2="519.5" y2="245.1" stroke="#808080" stroke-width="1"/>
<line x1="302.9" y1="245.1" x2="302.9" y2="247.6" stroke="#808080" stroke-width="0.8"/>
<line x1="324.62" y1="245.1" x2="324.62" y2="247.6" stroke="#808080" stroke-width="0.8"/>
<line x1="346.34" y1="245.1" x2="346.34" y2="247.6" stroke="#808080" stroke-width="0.8"/>
<line x1="368.05999999999995" y1="245.1" x2="368.05999999999995" y2="247.6" stroke="#808080" stroke-width="0.8"/>
<line x1="389.78" y1="245.1" x2="389.78" y2="247.6" stroke="#808080" stroke-width="0.8"/>
<line x1="411.5" y1="245.1" x2="411.5" y2="247.6" stroke="#808080" stroke-width="0.8"/>
<line x1="433.21999999999997" y1="245.1" x2="433.21999999999997" y2="247.6" stroke="#808080" stroke-width="0.8"/>
<line x1="454.93999999999994" y1="245.1" x2="454.93999999999994" y2="247.6" stroke="#808080" stroke-width="0.8"/>
<line x1="476.65999999999997" y1="245.1" x2="476.65999999999997" y2="247.6" stroke="#808080" stroke-width="0.8"/>
<line x1="498.38" y1="245.1" x2="498.38" y2="247.6" stroke="#808080" stroke-width="0.8"/>
<line x1="520.0999999999999" y1="245.1" x2="520.0999999999999" y2="247.6" stroke="#808080" stroke-width="0.8"/>
<text x="302.9" y="260.6" font-size="9.3" text-anchor="middle" font-weight="normal" fill="#111" stroke="#111" stroke-width="0.5" textLength="4.5" lengthAdjust="spacingAndGlyphs">0</text>
<text x="324.62" y="260.6" font-size="9.3" text-anchor="middle" font-weight="normal" fill="#111" stroke="#111" stroke-width="0.5" textLength="4.5" lengthAdjust="spacingAndGlyphs">2</text>
<text x="346.34" y="260.6" font-size="9.3" text-anchor="middle" font-weight="normal" fill="#111" stroke="#111" stroke-width="0.5" textLength="4.5" lengthAdjust="spacingAndGlyphs">4</text>
<text x="368.06" y="260.6" font-size="9.3" text-anchor="middle" font-weight="normal" fill="#111" stroke="#111" stroke-width="0.5" textLength="4.5" lengthAdjust="spacingAndGlyphs">6</text>
<text x="389.78" y="260.6" font-size="9.3" text-anchor="middle" font-weight="normal" fill="#111" stroke="#111" stroke-width="0.5" textLength="4.5" lengthAdjust="spacingAndGlyphs">8</text>
<text x="411.5" y="260.6" font-size="9.3" text-anchor="middle" font-weight="normal" fill="#111" stroke="#111" stroke-width="0.5" textLength="9.0" lengthAdjust="spacingAndGlyphs">10</text>
<text x="433.22" y="260.6" font-size="9.3" text-anchor="middle" font-weight="normal" fill="#111" stroke="#111" stroke-width="0.5" textLength="9.0" lengthAdjust="spacingAndGlyphs">12</text>
<text x="454.94" y="260.6" font-size="9.3" text-anchor="middle" font-weight="normal" fill="#111" stroke="#111" stroke-width="0.5" textLength="9.0" lengthAdjust="spacingAndGlyphs">14</text>
<text x="476.66" y="260.6" font-size="9.3" text-anchor="middle" font-weight="normal" fill="#111" stroke="#111" stroke-width="0.5" textLength="9.0" lengthAdjust="spacingAndGlyphs">16</text>
<text x="498.38" y="260.6" font-size="9.3" text-anchor="middle" font-weight="normal" fill="#111" stroke="#111" stroke-width="0.5" textLength="9.0" lengthAdjust="spacingAndGlyphs">18</text>
<text x="399.25" y="274.6" font-size="9.3" text-anchor="middle" font-weight="normal" fill="#111" stroke="#111" stroke-width="0.5" textLength="65.5" lengthAdjust="spacingAndGlyphs">Weeks in culture</text>
<line x1="346.34" y1="226.3" x2="346.34" y2="229.8" stroke="#777" stroke-width="0.8"/>
<line x1="344.23999999999995" y1="226.3" x2="348.44" y2="226.3" stroke="#444" stroke-width="0.9"/>
<line x1="344.23999999999995" y1="229.8" x2="348.44" y2="229.8" stroke="#444" stroke-width="0.9"/>
<line x1="368.05999999999995" y1="208.4" x2="368.05999999999995" y2="218.0" stroke="#777" stroke-width="0.8"/>
<line x1="365.9599999999999" y1="208.4" x2="370.15999999999997" y2="208.4" stroke="#444" stroke-width="0.9"/>
<line x1="365.9599999999999" y1="218.0" x2="370.15999999999997" y2="218.0" stroke="#444" stroke-width="0.9"/>
<line x1="389.78" y1="202.2" x2="389.78" y2="215.0" stroke="#777" stroke-width="0.8"/>
<line x1="387.67999999999995" y1="202.2" x2="391.88" y2="202.2" stroke="#444" stroke-width="0.9"/>
<line x1="387.67999999999995" y1="215.0" x2="391.88" y2="215.0" stroke="#444" stroke-width="0.9"/>
<line x1="411.5" y1="200.7" x2="411.5" y2="214.0" stroke="#777" stroke-width="0.8"/>
<line x1="409.4" y1="200.7" x2="413.6" y2="200.7" stroke="#444" stroke-width="0.9"/>
<line x1="409.4" y1="214.0" x2="413.6" y2="214.0" stroke="#444" stroke-width="0.9"/>
<line x1="433.21999999999997" y1="199.9" x2="433.21999999999997" y2="212.4" stroke="#777" stroke-width="0.8"/>
<line x1="431.11999999999995" y1="199.9" x2="435.32" y2="199.9" stroke="#444" stroke-width="0.9"/>
<line x1="431.11999999999995" y1="212.4" x2="435.32" y2="212.4" stroke="#444" stroke-width="0.9"/>
<line x1="454.93999999999994" y1="196.2" x2="454.93999999999994" y2="207.9" stroke="#777" stroke-width="0.8"/>
<line x1="452.8399999999999" y1="196.2" x2="457.03999999999996" y2="196.2" stroke="#444" stroke-width="0.9"/>
<line x1="452.8399999999999" y1="207.9" x2="457.03999999999996" y2="207.9" stroke="#444" stroke-width="0.9"/>
<line x1="476.65999999999997" y1="194.2" x2="476.65999999999997" y2="206.0" stroke="#777" stroke-width="0.8"/>
<line x1="474.55999999999995" y1="194.2" x2="478.76" y2="194.2" stroke="#444" stroke-width="0.9"/>
<line x1="474.55999999999995" y1="206.0" x2="478.76" y2="206.0" stroke="#444" stroke-width="0.9"/>
<line x1="498.38" y1="191.1" x2="498.38" y2="203.3" stroke="#777" stroke-width="0.8"/>
<line x1="496.28" y1="191.1" x2="500.48" y2="191.1" stroke="#444" stroke-width="0.9"/>
<line x1="496.28" y1="203.3" x2="500.48" y2="203.3" stroke="#444" stroke-width="0.9"/>
<line x1="411.5" y1="224.4" x2="411.5" y2="230.6" stroke="#777" stroke-width="0.8"/>
<line x1="409.4" y1="224.4" x2="413.6" y2="224.4" stroke="#444" stroke-width="0.9"/>
<line x1="409.4" y1="230.6" x2="413.6" y2="230.6" stroke="#444" stroke-width="0.9"/>
<line x1="433.21999999999997" y1="198.4" x2="433.21999999999997" y2="209.6" stroke="#777" stroke-width="0.8"/>
<line x1="431.11999999999995" y1="198.4" x2="435.32" y2="198.4" stroke="#444" stroke-width="0.9"/>
<line x1="431.11999999999995" y1="209.6" x2="435.32" y2="209.6" stroke="#444" stroke-width="0.9"/>
<line x1="454.93999999999994" y1="192.7" x2="454.93999999999994" y2="205.3" stroke="#777" stroke-width="0.8"/>
<line x1="452.8399999999999" y1="192.7" x2="457.03999999999996" y2="192.7" stroke="#444" stroke-width="0.9"/>
<line x1="452.8399999999999" y1="205.3" x2="457.03999999999996" y2="205.3" stroke="#444" stroke-width="0.9"/>
<line x1="476.65999999999997" y1="183.1" x2="476.65999999999997" y2="199.3" stroke="#777" stroke-width="0.8"/>
<line x1="474.55999999999995" y1="183.1" x2="478.76" y2="183.1" stroke="#444" stroke-width="0.9"/>
<line x1="474.55999999999995" y1="199.3" x2="478.76" y2="199.3" stroke="#444" stroke-width="0.9"/>
<line x1="498.38" y1="153.8" x2="498.38" y2="181.2" stroke="#777" stroke-width="0.8"/>
<line x1="496.28" y1="153.8" x2="500.48" y2="153.8" stroke="#444" stroke-width="0.9"/>
<line x1="496.28" y1="181.2" x2="500.48" y2="181.2" stroke="#444" stroke-width="0.9"/>
<polyline points="302.90,244.6 324.62,235.8 346.34,228.0 368.06,212.8 389.78,208.4 411.50,207.8 433.22,206.0 454.94,201.7 476.66,199.9 498.38,197.2" fill="none" stroke="#aa0c16" stroke-width="2.6" stroke-linejoin="round"/>
<polyline points="302.90,244.6 324.62,242.8 346.34,241.8 368.06,239.5 389.78,234.5 411.50,226.5 433.22,203.9 454.94,199.1 476.66,191.1 498.38,167.1" fill="none" stroke="#aa0c16" stroke-width="2.6" stroke-linejoin="round"/>
<line x1="302.9" y1="244.1" x2="434.2" y2="243.8" stroke="#000" stroke-width="2.4"/>
<text x="323.0" y="218.4" font-size="9.3" text-anchor="start" font-weight="normal" fill="#111" stroke="#111" stroke-width="0.5" textLength="29" lengthAdjust="spacingAndGlyphs">CML #4</text>
<text x="428.7" y="226.0" font-size="9.3" text-anchor="start" font-weight="normal" fill="#111" stroke="#111" stroke-width="0.5" textLength="28.5" lengthAdjust="spacingAndGlyphs">CML #1</text>
<line x1="320.4" y1="155.1" x2="341.2" y2="155.1" stroke="#b5101a" stroke-width="2.2"/>
<line x1="320.4" y1="168.1" x2="341.2" y2="168.1" stroke="#000" stroke-width="2.2"/>
<text x="342.6" y="158.5" font-size="9.3" text-anchor="start" font-weight="normal" fill="#111" stroke="#111" stroke-width="0.5" textLength="12.5" lengthAdjust="spacingAndGlyphs">IK6</text>
<text x="342.6" y="171.2" font-size="9.3" text-anchor="start" font-weight="normal" fill="#111" stroke="#111" stroke-width="0.5" textLength="28.9" lengthAdjust="spacingAndGlyphs">Control</text>
<text x="272.9" y="203.6" font-size="9.2" text-anchor="middle" font-weight="normal" fill="#111" stroke="#111" stroke-width="0.5" textLength="116.0" lengthAdjust="spacingAndGlyphs" transform="rotate(-90 272.9 203.6)">Cumulative cell output (x10<tspan font-size="6" dy="-3">6</tspan><tspan dy="3">)</tspan></text>
<text x="255.0" y="144.6" font-size="11.2" text-anchor="start" font-weight="bold" fill="#000">D</text>
<text x="0.5" y="295.5" font-size="11.2" text-anchor="start" font-weight="bold" fill="#000">E</text>
<defs><filter id="bl" x="-5%" y="-5%" width="110%" height="110%"><feGaussianBlur stdDeviation="0.5"/></filter><clipPath id="c1"><rect x="50" y="295.7" width="53.6" height="49.2"/></clipPath><clipPath id="c2"><rect x="50.2" y="348.2" width="53.8" height="54.5"/></clipPath></defs>
<rect x="50" y="295.7" width="53.6" height="49.2" fill="#dab8a4"/>
<rect x="50.2" y="348.2" width="53.8" height="54.5" fill="#dcb8aa"/>
<g clip-path="url(#c1)"><g filter="url(#bl)">
<ellipse cx="73.0" cy="310.0" rx="8.0" ry="5.8" fill="#c5a9c4"/>
<ellipse cx="61.0" cy="323.0" rx="5.5" ry="4.0" fill="#c8abc6"/>
<ellipse cx="79.0" cy="335.5" rx="9.0" ry="8.0" fill="#c7a8c6"/>
<ellipse cx="84.0" cy="318.0" rx="5.0" ry="4.0" fill="#c0a0c4"/>
<ellipse cx="57.1" cy="310.2" rx="6.9" ry="6.4" fill="#662690" stroke="#dccbe4" stroke-width="1.0" transform="rotate(-10 57.1 310.2)"/>
<ellipse cx="67.3" cy="317.4" rx="6.6" ry="5.3" fill="#6e2a92" stroke="#dccbe4" stroke-width="1.0" transform="rotate(18 67.3 317.4)"/>
<ellipse cx="89.9" cy="311.3" rx="9.3" ry="8.3" fill="#632490" stroke="#dccbe4" stroke-width="1.0" transform="rotate(-20 89.9 311.3)"/>
<ellipse cx="94.9" cy="323.3" rx="8.3" ry="5.8" fill="#65258f" stroke="#dccbe4" stroke-width="1.0" transform="rotate(8 94.9 323.3)"/>
<ellipse cx="76.6" cy="324.3" rx="8.6" ry="4.9" fill="#6c2892" stroke="#dccbe4" stroke-width="1.0" transform="rotate(-10 76.6 324.3)"/>
<ellipse cx="76.3" cy="336.3" rx="6.3" ry="5.3" fill="#6e2a93" stroke="#dccbe4" stroke-width="1.0" transform="rotate(5 76.3 336.3)"/>
</g></g>
<g clip-path="url(#c2)"><g filter="url(#bl)">
<ellipse cx="82.0" cy="377.0" rx="16" ry="12" fill="#c4a3c6"/>
<ellipse cx="62.0" cy="369.0" rx="8.0" ry="11.0" fill="#c8a7c8"/>
<ellipse cx="74.2" cy="362.0" rx="8.0" ry="8.0" fill="#c9acca"/>
<ellipse cx="69.8" cy="392.9" rx="8.2" ry="7.2" fill="#c8a8c8"/>
<ellipse cx="74.2" cy="363.9" rx="5.8" ry="5.5" fill="#e8d8e2"/>
<ellipse cx="69.8" cy="392.9" rx="7.0" ry="6.0" fill="#d9bfd6" stroke="#e6d6e8" stroke-width="0.8"/>
<ellipse cx="58.9" cy="369.2" rx="5.8" ry="9.3" fill="#933ea8" stroke="#dfcfe8" stroke-width="0.9" transform="rotate(8 58.9 369.2)"/>
<ellipse cx="76.0" cy="377.3" rx="4.9" ry="6.0" fill="#7a3298" stroke="#dfcfe8" stroke-width="0.9" transform="rotate(0 76.0 377.3)"/>
<ellipse cx="83.7" cy="370.7" rx="4.6" ry="5.8" fill="#7a3298" stroke="#dfcfe8" stroke-width="0.9" transform="rotate(0 83.7 370.7)"/>
<ellipse cx="92.7" cy="378.4" rx="6.9" ry="6.2" fill="#7c3499" stroke="#dfcfe8" stroke-width="0.9" transform="rotate(0 92.7 378.4)"/>
<ellipse cx="85.5" cy="392.9" rx="6.2" ry="6.9" fill="#6e2a90" stroke="#dfcfe8" stroke-width="0.9" transform="rotate(0 85.5 392.9)"/>
<circle cx="70.5" cy="354.5" r="1.45" fill="#6a2087"/>
<circle cx="73.8" cy="353.0" r="1.45" fill="#6a2087"/>
<circle cx="77.2" cy="353.8" r="1.45" fill="#6a2087"/>
<circle cx="68.5" cy="357.5" r="1.45" fill="#6a2087"/>
<circle cx="79.8" cy="357.2" r="1.45" fill="#6a2087"/>
<circle cx="66.8" cy="360.8" r="1.45" fill="#6a2087"/>
<circle cx="80.5" cy="360.5" r="1.45" fill="#6a2087"/>
<circle cx="66.2" cy="389.0" r="1.45" fill="#6a2087"/>
<circle cx="71.5" cy="388.8" r="1.45" fill="#6a2087"/>
<circle cx="65.5" cy="393.2" r="1.45" fill="#6a2087"/>
<circle cx="69.8" cy="395.2" r="1.45" fill="#6a2087"/>
<circle cx="74.0" cy="393.5" r="1.45" fill="#6a2087"/>
<circle cx="68.0" cy="398.0" r="1.45" fill="#6a2087"/>
<circle cx="72.0" cy="398.6" r="1.45" fill="#6a2087"/>
</g></g>
<text x="128.6" y="295.5" font-size="11.2" text-anchor="start" font-weight="bold" fill="#000">F</text>
<rect x="154.7" y="300.6" width="46.7" height="46.0" fill="#fff" stroke="#858585" stroke-width="1.0"/>
<rect x="154.7" y="349.5" width="45.6" height="46.1" fill="#fff" stroke="#858585" stroke-width="1.0"/>
<rect x="164.3" y="335.9" width="1.0" height="1.0" fill="#5050f0"/>
<rect x="169.6" y="336.0" width="1.0" height="1.0" fill="#2a2ad8"/>
<rect x="164.4" y="335.3" width="1.0" height="1.0" fill="#3a30d0"/>
<rect x="165.2" y="335.7" width="1.0" height="1.0" fill="#4444ee"/>
<rect x="166.0" y="335.1" width="1.0" height="1.0" fill="#4444ee"/>
<rect x="168.1" y="335.8" width="1.0" height="1.0" fill="#3636e6"/>
<rect x="162.7" y="332.1" width="1.0" height="1.0" fill="#2a2ad8"/>
<rect x="162.7" y="333.4" width="1.0" height="1.0" fill="#3636e6"/>
<rect x="169.9" y="336.1" width="1.0" height="1.0" fill="#2020c0"/>
<rect x="162.2" y="336.2" width="1.0" height="1.0" fill="#3a30d0"/>
<rect x="163.3" y="339.1" width="1.0" height="1.0" fill="#3636e6"/>
<rect x="167.7" y="336.6" width="1.0" height="1.0" fill="#3636e6"/>
<rect x="162.7" y="337.0" width="1.0" height="1.0" fill="#2a2ad8"/>
<rect x="161.7" y="333.2" width="1.0" height="1.0" fill="#4444ee"/>
<rect x="163.8" y="332.1" width="1.0" height="1.0" fill="#2020c0"/>
<rect x="159.2" y="335.9" width="1.0" height="1.0" fill="#2020c0"/>
<rect x="163.6" y="339.0" width="1.0" height="1.0" fill="#5050f0"/>
<rect x="165.2" y="333.5" width="1.0" height="1.0" fill="#2020c0"/>
<rect x="159.8" y="333.8" width="1.0" height="1.0" fill="#5050f0"/>
<rect x="161.6" y="335.7" width="1.0" height="1.0" fill="#2a2ad8"/>
<rect x="167.0" y="336.4" width="1.0" height="1.0" fill="#2020c0"/>
<rect x="166.7" y="337.1" width="1.0" height="1.0" fill="#2a2ad8"/>
<rect x="166.0" y="334.4" width="1.0" height="1.0" fill="#3a30d0"/>
<rect x="160.2" y="332.2" width="1.0" height="1.0" fill="#2020c0"/>
<rect x="163.7" y="336.6" width="1.0" height="1.0" fill="#4444ee"/>
<rect x="162.5" y="333.2" width="1.0" height="1.0" fill="#2a2ad8"/>
<rect x="167.8" y="333.6" width="1.0" height="1.0" fill="#5050f0"/>
<rect x="168.9" y="336.3" width="1.0" height="1.0" fill="#2020c0"/>
<rect x="160.1" y="328.1" width="1.0" height="1.0" fill="#4444ee"/>
<rect x="164.4" y="337.1" width="1.0" height="1.0" fill="#5050f0"/>
<rect x="161.5" y="339.7" width="1.0" height="1.0" fill="#2020c0"/>
<rect x="165.6" y="335.7" width="1.0" height="1.0" fill="#2a2ad8"/>
<rect x="165.4" y="336.7" width="1.0" height="1.0" fill="#5050f0"/>
<rect x="165.0" y="337.2" width="1.0" height="1.0" fill="#4444ee"/>
<rect x="167.5" y="336.0" width="1.0" height="1.0" fill="#3a30d0"/>
<rect x="164.8" y="336.0" width="1.0" height="1.0" fill="#4444ee"/>
<rect x="166.4" y="333.0" width="1.0" height="1.0" fill="#4444ee"/>
<rect x="168.9" y="334.3" width="1.0" height="1.0" fill="#4444ee"/>
<rect x="166.4" y="334.2" width="1.0" height="1.0" fill="#3636e6"/>
<rect x="167.2" y="337.7" width="1.0" height="1.0" fill="#2a2ad8"/>
<rect x="161.5" y="334.9" width="1.0" height="1.0" fill="#2020c0"/>
<rect x="164.7" y="336.0" width="1.0" height="1.0" fill="#3a30d0"/>
<rect x="162.7" y="337.1" width="1.0" height="1.0" fill="#3636e6"/>
<rect x="163.9" y="331.7" width="1.0" height="1.0" fill="#3a30d0"/>
<rect x="162.6" y="331.1" width="1.0" height="1.0" fill="#4444ee"/>
<rect x="168.7" y="331.9" width="1.0" height="1.0" fill="#5050f0"/>
<rect x="165.8" y="332.1" width="1.0" height="1.0" fill="#4444ee"/>
<rect x="162.7" y="336.4" width="1.0" height="1.0" fill="#4444ee"/>
<rect x="165.9" y="335.0" width="1.0" height="1.0" fill="#3636e6"/>
<rect x="163.8" y="335.1" width="1.0" height="1.0" fill="#3a30d0"/>
<rect x="165.1" y="334.6" width="1.0" height="1.0" fill="#3636e6"/>
<rect x="158.8" y="333.2" width="1.0" height="1.0" fill="#3a30d0"/>
<rect x="170.2" y="335.4" width="1.0" height="1.0" fill="#3a30d0"/>
<rect x="162.4" y="337.2" width="1.0" height="1.0" fill="#2020c0"/>
<rect x="162.6" y="332.8" width="1.0" height="1.0" fill="#2a2ad8"/>
<rect x="169.8" y="327.9" width="1.0" height="1.0" fill="#4444ee"/>
<rect x="162.8" y="334.9" width="1.0" height="1.0" fill="#3636e6"/>
<rect x="166.9" y="336.0" width="1.0" height="1.0" fill="#2020c0"/>
<rect x="161.0" y="335.1" width="1.0" height="1.0" fill="#3a30d0"/>
<rect x="171.3" y="335.5" width="1.0" height="1.0" fill="#3a30d0"/>
<rect x="162.4" y="337.6" width="1.0" height="1.0" fill="#2a2ad8"/>
<rect x="165.1" y="332.4" width="1.0" height="1.0" fill="#5050f0"/>
<rect x="167.6" y="331.6" width="1.0" height="1.0" fill="#2020c0"/>
<rect x="159.4" y="333.9" width="1.0" height="1.0" fill="#2020c0"/>
<rect x="165.4" y="331.4" width="1.0" height="1.0" fill="#3a30d0"/>
<rect x="164.1" y="336.2" width="1.0" height="1.0" fill="#3636e6"/>
<rect x="166.7" y="330.1" width="1.0" height="1.0" fill="#5050f0"/>
<rect x="165.6" y="333.0" width="1.0" height="1.0" fill="#4444ee"/>
<rect x="164.6" y="335.1" width="1.0" height="1.0" fill="#2a2ad8"/>
<rect x="165.7" y="331.8" width="1.0" height="1.0" fill="#3636e6"/>
<rect x="162.7" y="328.5" width="1.0" height="1.0" fill="#4444ee"/>
<rect x="166.5" y="330.7" width="1.0" height="1.0" fill="#2020c0"/>
<rect x="167.4" y="333.9" width="1.0" height="1.0" fill="#3636e6"/>
<rect x="167.3" y="336.4" width="1.0" height="1.0" fill="#2020c0"/>
<rect x="166.0" y="338.1" width="1.0" height="1.0" fill="#3a30d0"/>
<rect x="166.6" y="332.1" width="1.0" height="1.0" fill="#5050f0"/>
<rect x="162.9" y="337.7" width="1.0" height="1.0" fill="#5050f0"/>
<rect x="166.9" y="336.4" width="1.0" height="1.0" fill="#5050f0"/>
<rect x="165.0" y="331.6" width="1.0" height="1.0" fill="#3636e6"/>
<rect x="161.6" y="336.1" width="1.0" height="1.0" fill="#2a2ad8"/>
<rect x="167.2" y="328.0" width="1.0" height="1.0" fill="#4444ee"/>
<rect x="160.8" y="335.6" width="1.0" height="1.0" fill="#2a2ad8"/>
<rect x="164.7" y="333.0" width="1.0" height="1.0" fill="#3636e6"/>
<rect x="168.4" y="335.2" width="1.0" height="1.0" fill="#4444ee"/>
<rect x="165.5" y="333.2" width="1.0" height="1.0" fill="#3a30d0"/>
<rect x="168.8" y="334.1" width="1.0" height="1.0" fill="#2020c0"/>
<rect x="166.8" y="337.3" width="1.0" height="1.0" fill="#2a2ad8"/>
<rect x="171.9" y="335.2" width="1.0" height="1.0" fill="#5050f0"/>
<rect x="168.5" y="337.2" width="1.0" height="1.0" fill="#3636e6"/>
<rect x="160.2" y="336.7" width="1.0" height="1.0" fill="#3636e6"/>
<rect x="166.8" y="334.9" width="1.0" height="1.0" fill="#3a30d0"/>
<rect x="165.2" y="338.0" width="1.0" height="1.0" fill="#2020c0"/>
<rect x="160.3" y="333.2" width="1.0" height="1.0" fill="#2a2ad8"/>
<rect x="167.1" y="333.3" width="1.0" height="1.0" fill="#4444ee"/>
<rect x="162.5" y="330.5" width="1.0" height="1.0" fill="#3a30d0"/>
<rect x="159.9" y="337.4" width="1.0" height="1.0" fill="#3a30d0"/>
<rect x="166.0" y="335.7" width="1.0" height="1.0" fill="#3a30d0"/>
<rect x="167.8" y="334.9" width="1.0" height="1.0" fill="#3636e6"/>
<rect x="161.5" y="331.8" width="1.0" height="1.0" fill="#3636e6"/>
<rect x="166.4" y="337.2" width="1.0" height="1.0" fill="#5050f0"/>
<rect x="165.7" y="335.2" width="1.0" height="1.0" fill="#5050f0"/>
<rect x="161.7" y="334.2" width="1.0" height="1.0" fill="#2a2ad8"/>
<rect x="165.7" y="334.0" width="1.0" height="1.0" fill="#3636e6"/>
<rect x="164.2" y="339.0" width="1.0" height="1.0" fill="#3a30d0"/>
<rect x="164.4" y="334.8" width="1.0" height="1.0" fill="#2a2ad8"/>
<rect x="161.6" y="335.8" width="1.0" height="1.0" fill="#3a30d0"/>
<rect x="163.6" y="333.5" width="1.0" height="1.0" fill="#2020c0"/>
<rect x="161.9" y="335.5" width="1.0" height="1.0" fill="#4444ee"/>
<rect x="163.0" y="334.5" width="1.0" height="1.0" fill="#3a30d0"/>
<rect x="169.4" y="330.3" width="1.0" height="1.0" fill="#2020c0"/>
<rect x="169.9" y="332.0" width="1.0" height="1.0" fill="#3636e6"/>
<rect x="165.8" y="333.4" width="1.0" height="1.0" fill="#2a2ad8"/>
<rect x="163.2" y="336.0" width="1.0" height="1.0" fill="#5050f0"/>
<rect x="165.1" y="335.6" width="1.0" height="1.0" fill="#5050f0"/>
<rect x="164.6" y="335.9" width="1.0" height="1.0" fill="#3636e6"/>
<rect x="168.5" y="333.2" width="1.0" height="1.0" fill="#2020c0"/>
<rect x="168.4" y="338.8" width="1.0" height="1.0" fill="#4444ee"/>
<rect x="166.2" y="340.9" width="1.0" height="1.0" fill="#4444ee"/>
<rect x="166.2" y="333.6" width="1.0" height="1.0" fill="#5050f0"/>
<rect x="165.8" y="333.3" width="1.0" height="1.0" fill="#4444ee"/>
<rect x="167.6" y="334.5" width="1.0" height="1.0" fill="#4444ee"/>
<rect x="165.8" y="336.7" width="1.0" height="1.0" fill="#5050f0"/>
<rect x="163.4" y="336.4" width="1.0" height="1.0" fill="#4444ee"/>
<rect x="164.5" y="334.8" width="1.0" height="1.0" fill="#2020c0"/>
<rect x="162.8" y="334.4" width="1.0" height="1.0" fill="#2a2ad8"/>
<rect x="169.4" y="338.4" width="1.0" height="1.0" fill="#3636e6"/>
<rect x="166.2" y="334.4" width="1.0" height="1.0" fill="#2020c0"/>
<rect x="164.2" y="340.2" width="1.0" height="1.0" fill="#3636e6"/>
<rect x="164.8" y="336.0" width="1.0" height="1.0" fill="#4444ee"/>
<rect x="167.3" y="331.4" width="1.0" height="1.0" fill="#2020c0"/>
<rect x="162.3" y="336.4" width="1.0" height="1.0" fill="#3a30d0"/>
<rect x="161.4" y="332.9" width="1.0" height="1.0" fill="#2a2ad8"/>
<rect x="164.2" y="339.2" width="1.0" height="1.0" fill="#3636e6"/>
<rect x="164.1" y="335.1" width="1.0" height="1.0" fill="#2a2ad8"/>
<rect x="161.9" y="331.1" width="1.0" height="1.0" fill="#2a2ad8"/>
<rect x="163.6" y="333.4" width="1.0" height="1.0" fill="#2020c0"/>
<rect x="166.9" y="332.4" width="1.0" height="1.0" fill="#2020c0"/>
<rect x="167.7" y="334.5" width="1.0" height="1.0" fill="#2020c0"/>
<rect x="164.4" y="334.1" width="1.0" height="1.0" fill="#5050f0"/>
<rect x="165.1" y="335.8" width="1.0" height="1.0" fill="#3636e6"/>
<rect x="164.9" y="336.2" width="1.0" height="1.0" fill="#2020c0"/>
<rect x="162.8" y="332.3" width="1.0" height="1.0" fill="#3636e6"/>
<rect x="164.2" y="337.6" width="1.0" height="1.0" fill="#3636e6"/>
<rect x="164.4" y="339.3" width="1.0" height="1.0" fill="#2020c0"/>
<rect x="165.5" y="334.7" width="1.0" height="1.0" fill="#3a30d0"/>
<rect x="163.4" y="334.1" width="1.0" height="1.0" fill="#4444ee"/>
<rect x="165.1" y="337.4" width="1.0" height="1.0" fill="#5050f0"/>
<rect x="166.2" y="332.1" width="1.0" height="1.0" fill="#4444ee"/>
<rect x="159.8" y="333.1" width="1.0" height="1.0" fill="#3a30d0"/>
<rect x="164.4" y="336.3" width="1.0" height="1.0" fill="#3636e6"/>
<rect x="162.3" y="338.7" width="1.0" height="1.0" fill="#5050f0"/>
<rect x="164.8" y="333.2" width="1.0" height="1.0" fill="#2020c0"/>
<rect x="169.9" y="334.0" width="1.0" height="1.0" fill="#2a2ad8"/>
<rect x="168.9" y="336.4" width="1.0" height="1.0" fill="#2020c0"/>
<rect x="164.2" y="335.0" width="1.0" height="1.0" fill="#5050f0"/>
<rect x="167.9" y="330.2" width="1.0" height="1.0" fill="#5050f0"/>
<rect x="168.5" y="334.0" width="1.0" height="1.0" fill="#5050f0"/>
<rect x="164.2" y="337.4" width="1.0" height="1.0" fill="#3636e6"/>
<rect x="165.0" y="334.8" width="1.0" height="1.0" fill="#2020c0"/>
<rect x="171.8" y="332.9" width="1.0" height="1.0" fill="#3a30d0"/>
<rect x="164.7" y="335.2" width="1.0" height="1.0" fill="#2020c0"/>
<rect x="165.3" y="336.2" width="1.0" height="1.0" fill="#2020c0"/>
<rect x="162.8" y="336.6" width="1.0" height="1.0" fill="#3a30d0"/>
<rect x="163.9" y="333.0" width="1.0" height="1.0" fill="#2a2ad8"/>
<rect x="169.0" y="337.2" width="1.0" height="1.0" fill="#3636e6"/>
<rect x="164.4" y="335.0" width="1.0" height="1.0" fill="#2a2ad8"/>
<rect x="163.9" y="338.1" width="1.0" height="1.0" fill="#2a2ad8"/>
<rect x="162.3" y="333.0" width="1.0" height="1.0" fill="#3636e6"/>
<rect x="162.7" y="331.2" width="1.0" height="1.0" fill="#3a30d0"/>
<rect x="163.2" y="336.1" width="1.0" height="1.0" fill="#4444ee"/>
<rect x="175.0" y="338.1" width="1.0" height="1.0" fill="#5050f0"/>
<rect x="176.0" y="338.6" width="1.0" height="1.0" fill="#5050f0"/>
<rect x="175.7" y="331.6" width="1.0" height="1.0" fill="#5050f0"/>
<rect x="168.8" y="330.8" width="1.0" height="1.0" fill="#3a30d0"/>
<rect x="170.6" y="330.3" width="1.0" height="1.0" fill="#2a2ad8"/>
<rect x="173.4" y="330.7" width="1.0" height="1.0" fill="#5050f0"/>
<rect x="167.5" y="330.0" width="1.0" height="1.0" fill="#3636e6"/>
<rect x="171.7" y="334.6" width="1.0" height="1.0" fill="#5050f0"/>
<rect x="169.1" y="335.3" width="1.0" height="1.0" fill="#4444ee"/>
<rect x="164.2" y="332.7" width="1.0" height="1.0" fill="#5050f0"/>
<rect x="167.0" y="333.8" width="1.0" height="1.0" fill="#2020c0"/>
<rect x="179.1" y="334.3" width="1.0" height="1.0" fill="#5050f0"/>
<rect x="179.8" y="331.6" width="1.0" height="1.0" fill="#2a2ad8"/>
<rect x="169.5" y="333.3" width="1.0" height="1.0" fill="#5050f0"/>
<rect x="161.9" y="335.1" width="1.0" height="1.0" fill="#2020c0"/>
<rect x="171.3" y="339.2" width="1.0" height="1.0" fill="#3636e6"/>
<rect x="165.8" y="334.3" width="1.0" height="1.0" fill="#4444ee"/>
<rect x="173.8" y="332.9" width="1.0" height="1.0" fill="#2a2ad8"/>
<rect x="165.4" y="331.3" width="1.0" height="1.0" fill="#2a2ad8"/>
<rect x="167.0" y="332.6" width="1.0" height="1.0" fill="#5050f0"/>
<rect x="170.3" y="331.6" width="1.0" height="1.0" fill="#3a30d0"/>
<rect x="174.2" y="336.8" width="1.0" height="1.0" fill="#4444ee"/>
<rect x="169.7" y="338.6" width="1.0" height="1.0" fill="#5050f0"/>
<rect x="171.6" y="337.6" width="1.0" height="1.0" fill="#5050f0"/>
<rect x="165.2" y="333.9" width="1.0" height="1.0" fill="#4444ee"/>
<rect x="166.5" y="333.4" width="1.0" height="1.0" fill="#2a2ad8"/>
<rect x="171.3" y="334.0" width="1.0" height="1.0" fill="#4444ee"/>
<rect x="175.6" y="335.8" width="1.0" height="1.0" fill="#4444ee"/>
<rect x="175.2" y="334.1" width="1.0" height="1.0" fill="#3636e6"/>
<rect x="172.4" y="334.8" width="1.0" height="1.0" fill="#5050f0"/>
<rect x="158.8" y="333.1" width="1.0" height="1.0" fill="#3636e6"/>
<rect x="165.1" y="331.6" width="1.0" height="1.0" fill="#2020c0"/>
<rect x="176.2" y="331.1" width="1.0" height="1.0" fill="#3636e6"/>
<rect x="160.7" y="334.3" width="1.0" height="1.0" fill="#4444ee"/>
<rect x="170.9" y="334.2" width="1.0" height="1.0" fill="#4444ee"/>
<rect x="168.5" y="331.4" width="1.0" height="1.0" fill="#5050f0"/>
<rect x="173.3" y="336.3" width="1.0" height="1.0" fill="#2020c0"/>
<rect x="173.6" y="336.1" width="1.0" height="1.0" fill="#2020c0"/>
<rect x="170.5" y="328.5" width="1.0" height="1.0" fill="#2a2ad8"/>
<rect x="173.4" y="333.5" width="1.0" height="1.0" fill="#2a2ad8"/>
<rect x="173.7" y="332.8" width="1.0" height="1.0" fill="#2020c0"/>
<rect x="174.9" y="335.4" width="1.0" height="1.0" fill="#3a30d0"/>
<rect x="180.2" y="337.4" width="1.0" height="1.0" fill="#2020c0"/>
<rect x="172.9" y="332.3" width="1.0" height="1.0" fill="#2a2ad8"/>
<rect x="172.5" y="332.1" width="1.0" height="1.0" fill="#3636e6"/>
<rect x="170.5" y="336.6" width="1.0" height="1.0" fill="#3a30d0"/>
<rect x="167.2" y="338.9" width="1.0" height="1.0" fill="#4444ee"/>
<rect x="177.1" y="330.6" width="1.0" height="1.0" fill="#5050f0"/>
<rect x="162.6" y="337.8" width="1.0" height="1.0" fill="#3a30d0"/>
<rect x="163.2" y="332.7" width="1.0" height="1.0" fill="#2a2ad8"/>
<rect x="175.0" y="332.9" width="1.0" height="1.0" fill="#3a30d0"/>
<rect x="170.6" y="329.9" width="1.0" height="1.0" fill="#2020c0"/>
<rect x="160.0" y="334.8" width="1.0" height="1.0" fill="#3a30d0"/>
<rect x="174.3" y="336.6" width="1.0" height="1.0" fill="#2020c0"/>
<rect x="169.8" y="336.5" width="1.0" height="1.0" fill="#5050f0"/>
<rect x="174.2" y="333.9" width="1.0" height="1.0" fill="#5050f0"/>
<rect x="170.9" y="337.6" width="1.0" height="1.0" fill="#5050f0"/>
<rect x="168.2" y="335.3" width="1.0" height="1.0" fill="#3636e6"/>
<rect x="175.5" y="335.8" width="1.0" height="1.0" fill="#4444ee"/>
<rect x="165.5" y="333.2" width="1.0" height="1.0" fill="#2020c0"/>
<rect x="175.7" y="334.1" width="1.0" height="1.0" fill="#3636e6"/>
<rect x="167.1" y="333.5" width="1.0" height="1.0" fill="#3636e6"/>
<rect x="169.4" y="335.3" width="1.0" height="1.0" fill="#3636e6"/>
<rect x="164.6" y="338.2" width="1.0" height="1.0" fill="#3636e6"/>
<rect x="176.6" y="331.0" width="1.0" height="1.0" fill="#4444ee"/>
<rect x="164.6" y="337.5" width="1.0" height="1.0" fill="#3636e6"/>
<rect x="167.4" y="336.1" width="1.0" height="1.0" fill="#2a2ad8"/>
<rect x="164.2" y="334.2" width="1.0" height="1.0" fill="#2020c0"/>
<rect x="174.5" y="336.7" width="1.0" height="1.0" fill="#5050f0"/>
<rect x="172.8" y="328.6" width="1.0" height="1.0" fill="#2a2ad8"/>
<rect x="170.0" y="336.4" width="1.0" height="1.0" fill="#4444ee"/>
<rect x="167.4" y="331.7" width="1.0" height="1.0" fill="#2020c0"/>
<rect x="176.2" y="329.2" width="1.0" height="1.0" fill="#2a2ad8"/>
<rect x="174.0" y="336.5" width="1.0" height="1.0" fill="#4444ee"/>
<rect x="176.0" y="333.5" width="1.0" height="1.0" fill="#2a2ad8"/>
<rect x="162.0" y="338.5" width="1.0" height="1.0" fill="#3a30d0"/>
<rect x="178.4" y="327.9" width="1.0" height="1.0" fill="#3636e6"/>
<rect x="171.2" y="332.1" width="1.0" height="1.0" fill="#3636e6"/>
<rect x="163.3" y="333.6" width="1.0" height="1.0" fill="#5050f0"/>
<rect x="167.7" y="328.7" width="1.0" height="1.0" fill="#4444ee"/>
<rect x="177.7" y="336.8" width="1.0" height="1.0" fill="#2a2ad8"/>
<rect x="171.2" y="332.1" width="1.0" height="1.0" fill="#2a2ad8"/>
<rect x="168.0" y="332.2" width="1.0" height="1.0" fill="#3636e6"/>
<rect x="166.4" y="331.6" width="1.0" height="1.0" fill="#4444ee"/>
<rect x="169.8" y="332.8" width="1.0" height="1.0" fill="#2a2ad8"/>
<rect x="166.9" y="341.0" width="1.0" height="1.0" fill="#3636e6"/>
<rect x="167.9" y="335.6" width="1.0" height="1.0" fill="#3a30d0"/>
<rect x="176.5" y="334.2" width="1.0" height="1.0" fill="#4444ee"/>
<rect x="169.8" y="336.8" width="1.0" height="1.0" fill="#3636e6"/>
<rect x="167.0" y="334.5" width="1.0" height="1.0" fill="#3636e6"/>
<rect x="175.4" y="334.8" width="1.0" height="1.0" fill="#5050f0"/>
<rect x="170.1" y="334.8" width="1.0" height="1.0" fill="#4444ee"/>
<rect x="175.7" y="331.3" width="1.0" height="1.0" fill="#2a2ad8"/>
<rect x="170.2" y="338.6" width="1.0" height="1.0" fill="#2020c0"/>
<rect x="170.7" y="335.0" width="1.0" height="1.0" fill="#2020c0"/>
<rect x="169.6" y="331.4" width="1.0" height="1.0" fill="#4444ee"/>
<rect x="173.2" y="339.3" width="1.0" height="1.0" fill="#5050f0"/>
<rect x="171.5" y="333.3" width="1.0" height="1.0" fill="#4444ee"/>
<rect x="174.6" y="333.7" width="1.0" height="1.0" fill="#3636e6"/>
<rect x="170.9" y="336.3" width="1.0" height="1.0" fill="#2020c0"/>
<rect x="175.7" y="336.9" width="1.0" height="1.0" fill="#3a30d0"/>
<rect x="171.8" y="336.2" width="1.0" height="1.0" fill="#4444ee"/>
<rect x="171.9" y="333.7" width="1.0" height="1.0" fill="#3a30d0"/>
<rect x="173.4" y="336.6" width="1.0" height="1.0" fill="#3636e6"/>
<rect x="176.9" y="334.8" width="1.0" height="1.0" fill="#4444ee"/>
<rect x="172.1" y="334.5" width="1.0" height="1.0" fill="#4444ee"/>
<rect x="163.3" y="335.7" width="1.0" height="1.0" fill="#2020c0"/>
<rect x="174.4" y="333.1" width="1.0" height="1.0" fill="#3636e6"/>
<rect x="167.1" y="331.2" width="1.0" height="1.0" fill="#4444ee"/>
<rect x="177.5" y="335.1" width="1.0" height="1.0" fill="#4444ee"/>
<rect x="177.9" y="326.8" width="1.0" height="1.0" fill="#4444ee"/>
<rect x="170.7" y="334.4" width="1.0" height="1.0" fill="#2020c0"/>
<rect x="174.9" y="335.7" width="1.0" height="1.0" fill="#2a2ad8"/>
<rect x="163.0" y="332.3" width="1.0" height="1.0" fill="#4444ee"/>
<rect x="165.0" y="338.6" width="1.0" height="1.0" fill="#4444ee"/>
<rect x="176.9" y="336.7" width="1.0" height="1.0" fill="#3636e6"/>
<rect x="163.0" y="339.0" width="1.0" height="1.0" fill="#3636e6"/>
<rect x="167.0" y="338.6" width="1.0" height="1.0" fill="#4444ee"/>
<rect x="175.3" y="334.8" width="1.0" height="1.0" fill="#5050f0"/>
<rect x="170.6" y="333.3" width="1.0" height="1.0" fill="#2a2ad8"/>
<rect x="162.1" y="335.4" width="1.0" height="1.0" fill="#2a2ad8"/>
<rect x="170.1" y="339.2" width="1.0" height="1.0" fill="#3a30d0"/>
<rect x="168.5" y="336.2" width="1.0" height="1.0" fill="#3a30d0"/>
<rect x="178.2" y="335.5" width="1.0" height="1.0" fill="#5050f0"/>
<rect x="168.9" y="336.4" width="1.0" height="1.0" fill="#2a2ad8"/>
<rect x="169.4" y="330.2" width="1.0" height="1.0" fill="#5050f0"/>
<rect x="172.2" y="333.8" width="1.0" height="1.0" fill="#3636e6"/>
<rect x="176.4" y="337.2" width="1.0" height="1.0" fill="#4444ee"/>
<rect x="175.0" y="333.4" width="1.0" height="1.0" fill="#2020c0"/>
<rect x="178.0" y="331.4" width="1.0" height="1.0" fill="#3636e6"/>
<rect x="173.2" y="333.4" width="1.0" height="1.0" fill="#5050f0"/>
<rect x="168.1" y="338.5" width="1.0" height="1.0" fill="#3636e6"/>
<rect x="167.2" y="332.5" width="1.0" height="1.0" fill="#2020c0"/>
<rect x="162.4" y="335.5" width="1.0" height="1.0" fill="#3a30d0"/>
<rect x="173.3" y="335.1" width="1.0" height="1.0" fill="#3636e6"/>
<rect x="170.5" y="335.3" width="1.0" height="1.0" fill="#2a2ad8"/>
<rect x="164.5" y="334.6" width="1.0" height="1.0" fill="#3636e6"/>
<rect x="180.4" y="333.4" width="1.0" height="1.0" fill="#2a2ad8"/>
<rect x="170.3" y="335.5" width="1.0" height="1.0" fill="#2a2ad8"/>
<rect x="173.4" y="333.9" width="1.0" height="1.0" fill="#3636e6"/>
<rect x="164.7" y="336.3" width="1.0" height="1.0" fill="#5050f0"/>
<rect x="171.1" y="337.9" width="1.0" height="1.0" fill="#5050f0"/>
<rect x="171.0" y="329.0" width="1.0" height="1.0" fill="#2020c0"/>
<rect x="168.8" y="337.9" width="1.0" height="1.0" fill="#2020c0"/>
<rect x="170.4" y="336.5" width="1.0" height="1.0" fill="#4444ee"/>
<rect x="170.6" y="336.5" width="1.0" height="1.0" fill="#3636e6"/>
<rect x="168.4" y="340.6" width="1.0" height="1.0" fill="#3636e6"/>
<rect x="168.3" y="336.9" width="1.0" height="1.0" fill="#3636e6"/>
<rect x="167.0" y="334.1" width="1.0" height="1.0" fill="#2a2ad8"/>
<rect x="162.1" y="326.6" width="1.0" height="1.0" fill="#2a2ad8"/>
<rect x="180.4" y="334.4" width="1.0" height="1.0" fill="#3636e6"/>
<rect x="176.2" y="328.6" width="1.0" height="1.0" fill="#2a2ad8"/>
<rect x="173.0" y="332.7" width="1.0" height="1.0" fill="#2a2ad8"/>
<rect x="175.3" y="341.7" width="1.0" height="1.0" fill="#3a30d0"/>
<rect x="171.2" y="335.3" width="1.0" height="1.0" fill="#3a30d0"/>
<rect x="174.0" y="331.8" width="1.0" height="1.0" fill="#2020c0"/>
<rect x="171.6" y="329.8" width="1.0" height="1.0" fill="#2a2ad8"/>
<rect x="175.6" y="336.7" width="1.0" height="1.0" fill="#3a30d0"/>
<rect x="169.7" y="334.9" width="1.0" height="1.0" fill="#2020c0"/>
<rect x="172.5" y="335.8" width="1.0" height="1.0" fill="#2020c0"/>
<rect x="178.1" y="335.4" width="1.0" height="1.0" fill="#3636e6"/>
<rect x="174.0" y="329.1" width="1.0" height="1.0" fill="#4444ee"/>
<rect x="169.2" y="332.5" width="1.0" height="1.0" fill="#2020c0"/>
<rect x="171.6" y="334.6" width="1.0" height="1.0" fill="#4444ee"/>
<rect x="168.8" y="333.9" width="1.0" height="1.0" fill="#2a2ad8"/>
<rect x="172.5" y="330.0" width="1.0" height="1.0" fill="#3636e6"/>
<rect x="169.2" y="333.2" width="1.0" height="1.0" fill="#3636e6"/>
<rect x="167.4" y="335.6" width="1.0" height="1.0" fill="#2020c0"/>
<rect x="168.0" y="331.5" width="1.0" height="1.0" fill="#2a2ad8"/>
<rect x="168.1" y="337.8" width="1.0" height="1.0" fill="#2020c0"/>
<rect x="169.7" y="334.5" width="1.0" height="1.0" fill="#2020c0"/>
<rect x="167.6" y="331.8" width="1.0" height="1.0" fill="#4444ee"/>
<rect x="170.6" y="334.5" width="1.0" height="1.0" fill="#3636e6"/>
<rect x="162.6" y="336.8" width="1.0" height="1.0" fill="#4444ee"/>
<rect x="166.5" y="332.9" width="1.0" height="1.0" fill="#3636e6"/>
<rect x="171.6" y="334.9" width="1.0" height="1.0" fill="#3636e6"/>
<rect x="163.8" y="329.1" width="1.0" height="1.0" fill="#2a2ad8"/>
<rect x="160.6" y="331.2" width="1.0" height="1.0" fill="#5050f0"/>
<rect x="167.8" y="334.2" width="1.0" height="1.0" fill="#2020c0"/>
<rect x="172.1" y="335.8" width="1.0" height="1.0" fill="#2a2ad8"/>
<rect x="174.8" y="336.4" width="1.0" height="1.0" fill="#3636e6"/>
<rect x="167.6" y="339.6" width="1.0" height="1.0" fill="#2a2ad8"/>
<rect x="175.9" y="333.7" width="1.0" height="1.0" fill="#2a2ad8"/>
<rect x="165.2" y="331.5" width="1.0" height="1.0" fill="#2a2ad8"/>
<rect x="176.0" y="331.8" width="1.0" height="1.0" fill="#3636e6"/>
<rect x="164.5" y="329.6" width="1.0" height="1.0" fill="#3a30d0"/>
<rect x="162.8" y="337.5" width="1.0" height="1.0" fill="#4444ee"/>
<rect x="171.9" y="336.1" width="1.0" height="1.0" fill="#4444ee"/>
<rect x="173.1" y="333.5" width="1.0" height="1.0" fill="#2020c0"/>
<rect x="173.1" y="335.8" width="1.0" height="1.0" fill="#5050f0"/>
<rect x="171.8" y="332.4" width="1.0" height="1.0" fill="#3a30d0"/>
<rect x="174.4" y="330.5" width="1.0" height="1.0" fill="#5050f0"/>
<rect x="171.8" y="332.9" width="1.0" height="1.0" fill="#3a30d0"/>
<rect x="161.5" y="335.8" width="1.0" height="1.0" fill="#2020c0"/>
<rect x="168.1" y="332.1" width="1.0" height="1.0" fill="#3636e6"/>
<rect x="164.2" y="336.2" width="1.0" height="1.0" fill="#4444ee"/>
<rect x="167.5" y="334.2" width="1.0" height="1.0" fill="#2a2ad8"/>
<rect x="166.4" y="331.8" width="1.0" height="1.0" fill="#3636e6"/>
<rect x="164.2" y="335.6" width="1.0" height="1.0" fill="#4444ee"/>
<rect x="175.0" y="329.5" width="1.0" height="1.0" fill="#4444ee"/>
<rect x="172.5" y="335.2" width="1.0" height="1.0" fill="#4444ee"/>
<rect x="164.8" y="338.2" width="1.0" height="1.0" fill="#3a30d0"/>
<rect x="169.1" y="334.1" width="1.0" height="1.0" fill="#5050f0"/>
<rect x="177.9" y="339.1" width="1.0" height="1.0" fill="#2020c0"/>
<rect x="171.5" y="330.7" width="1.0" height="1.0" fill="#2a2ad8"/>
<rect x="170.6" y="327.8" width="1.0" height="1.0" fill="#5050f0"/>
<rect x="173.0" y="333.7" width="1.0" height="1.0" fill="#2a2ad8"/>
<rect x="178.3" y="334.1" width="1.0" height="1.0" fill="#2a2ad8"/>
<rect x="175.2" y="342.2" width="1.0" height="1.0" fill="#4444ee"/>
<rect x="168.4" y="339.5" width="1.0" height="1.0" fill="#3636e6"/>
<rect x="167.5" y="329.8" width="1.0" height="1.0" fill="#3636e6"/>
<rect x="174.6" y="335.3" width="1.0" height="1.0" fill="#2020c0"/>
<rect x="176.0" y="339.6" width="1.0" height="1.0" fill="#2020c0"/>
<rect x="174.9" y="332.3" width="1.0" height="1.0" fill="#2020c0"/>
<rect x="159.7" y="334.1" width="1.0" height="1.0" fill="#3636e6"/>
<rect x="164.9" y="331.9" width="1.0" height="1.0" fill="#3636e6"/>
<rect x="169.9" y="334.9" width="1.0" height="1.0" fill="#3636e6"/>
<rect x="164.9" y="336.6" width="1.0" height="1.0" fill="#2020c0"/>
<rect x="166.1" y="328.4" width="1.0" height="1.0" fill="#3636e6"/>
<rect x="171.5" y="331.9" width="1.0" height="1.0" fill="#3a30d0"/>
<rect x="179.6" y="336.0" width="1.0" height="1.0" fill="#4444ee"/>
<rect x="164.6" y="332.9" width="1.0" height="1.0" fill="#2a2ad8"/>
<rect x="170.4" y="337.9" width="1.0" height="1.0" fill="#4444ee"/>
<rect x="170.1" y="331.3" width="1.0" height="1.0" fill="#4444ee"/>
<rect x="176.8" y="334.0" width="1.0" height="1.0" fill="#2020c0"/>
<rect x="169.5" y="335.3" width="1.0" height="1.0" fill="#3636e6"/>
<rect x="174.0" y="338.6" width="1.0" height="1.0" fill="#2a2ad8"/>
<rect x="168.8" y="337.7" width="1.0" height="1.0" fill="#2020c0"/>
<rect x="161.6" y="327.6" width="1.0" height="1.0" fill="#3a30d0"/>
<rect x="179.7" y="331.4" width="1.0" height="1.0" fill="#5050f0"/>
<rect x="171.8" y="334.2" width="1.0" height="1.0" fill="#3636e6"/>
<rect x="168.8" y="338.3" width="1.0" height="1.0" fill="#4444ee"/>
<rect x="160.3" y="333.7" width="1.0" height="1.0" fill="#3636e6"/>
<rect x="163.9" y="334.5" width="1.0" height="1.0" fill="#2a2ad8"/>
<rect x="170.8" y="334.2" width="1.0" height="1.0" fill="#2020c0"/>
<rect x="168.6" y="337.6" width="1.0" height="1.0" fill="#3a30d0"/>
<rect x="171.5" y="338.1" width="1.0" height="1.0" fill="#3a30d0"/>
<rect x="173.6" y="336.3" width="1.0" height="1.0" fill="#4444ee"/>
<rect x="170.9" y="334.6" width="1.0" height="1.0" fill="#3636e6"/>
<rect x="169.1" y="331.0" width="1.0" height="1.0" fill="#2a2ad8"/>
<rect x="164.2" y="329.6" width="1.0" height="1.0" fill="#2020c0"/>
<rect x="167.4" y="335.6" width="1.0" height="1.0" fill="#2a2ad8"/>
<rect x="178.9" y="336.1" width="1.0" height="1.0" fill="#2020c0"/>
<rect x="165.3" y="332.0" width="1.0" height="1.0" fill="#3a30d0"/>
<rect x="177.7" y="332.3" width="1.0" height="1.0" fill="#3636e6"/>
<rect x="170.6" y="334.3" width="1.0" height="1.0" fill="#2a2ad8"/>
<rect x="165.7" y="333.6" width="1.0" height="1.0" fill="#3636e6"/>
<rect x="176.2" y="339.8" width="1.0" height="1.0" fill="#2a2ad8"/>
<rect x="176.6" y="334.5" width="1.0" height="1.0" fill="#3636e6"/>
<rect x="172.5" y="335.8" width="1.0" height="1.0" fill="#3a30d0"/>
<rect x="166.2" y="330.8" width="1.0" height="1.0" fill="#4444ee"/>
<rect x="171.7" y="332.5" width="1.0" height="1.0" fill="#2020c0"/>
<rect x="176.7" y="335.8" width="1.0" height="1.0" fill="#5050f0"/>
<rect x="172.1" y="329.5" width="1.0" height="1.0" fill="#2a2ad8"/>
<rect x="166.9" y="336.5" width="1.0" height="1.0" fill="#4444ee"/>
<rect x="176.6" y="336.3" width="1.0" height="1.0" fill="#3636e6"/>
<rect x="170.8" y="335.6" width="1.0" height="1.0" fill="#3636e6"/>
<rect x="169.0" y="333.0" width="1.0" height="1.0" fill="#5050f0"/>
<rect x="180.7" y="330.9" width="1.0" height="1.0" fill="#2020c0"/>
<rect x="169.6" y="331.9" width="1.0" height="1.0" fill="#3a30d0"/>
<rect x="167.4" y="330.1" width="1.0" height="1.0" fill="#3a30d0"/>
<rect x="174.5" y="333.8" width="1.0" height="1.0" fill="#3636e6"/>
<rect x="175.4" y="336.0" width="1.0" height="1.0" fill="#3636e6"/>
<rect x="170.3" y="336.4" width="1.0" height="1.0" fill="#5050f0"/>
<rect x="171.3" y="335.9" width="1.0" height="1.0" fill="#2020c0"/>
<rect x="172.2" y="337.0" width="1.0" height="1.0" fill="#3a30d0"/>
<rect x="171.2" y="340.7" width="1.0" height="1.0" fill="#5050f0"/>
<rect x="182.5" y="330.2" width="1.0" height="1.0" fill="#3a30d0"/>
<rect x="161.5" y="335.3" width="1.0" height="1.0" fill="#5050f0"/>
<rect x="171.6" y="334.2" width="1.0" height="1.0" fill="#5050f0"/>
<rect x="171.5" y="340.4" width="1.0" height="1.0" fill="#3636e6"/>
<rect x="165.6" y="336.7" width="1.0" height="1.0" fill="#3a30d0"/>
<rect x="172.8" y="333.3" width="1.0" height="1.0" fill="#2a2ad8"/>
<rect x="175.6" y="336.9" width="1.0" height="1.0" fill="#3636e6"/>
<rect x="169.0" y="335.6" width="1.0" height="1.0" fill="#2a2ad8"/>
<rect x="173.1" y="334.5" width="1.0" height="1.0" fill="#5050f0"/>
<rect x="165.6" y="330.7" width="1.0" height="1.0" fill="#5050f0"/>
<rect x="179.6" y="335.9" width="1.0" height="1.0" fill="#2020c0"/>
<rect x="174.2" y="341.3" width="1.0" height="1.0" fill="#3a30d0"/>
<rect x="171.9" y="333.5" width="1.0" height="1.0" fill="#5050f0"/>
<rect x="172.6" y="333.7" width="1.0" height="1.0" fill="#3636e6"/>
<rect x="170.9" y="335.0" width="1.0" height="1.0" fill="#5050f0"/>
<rect x="177.3" y="336.8" width="1.0" height="1.0" fill="#5050f0"/>
<rect x="170.0" y="335.5" width="1.0" height="1.0" fill="#2a2ad8"/>
<rect x="172.3" y="330.0" width="1.0" height="1.0" fill="#2020c0"/>
<rect x="168.4" y="337.1" width="1.0" height="1.0" fill="#2a2ad8"/>
<rect x="163.9" y="339.8" width="1.0" height="1.0" fill="#2a2ad8"/>
<rect x="169.5" y="331.4" width="1.0" height="1.0" fill="#2020c0"/>
<rect x="171.3" y="330.2" width="1.0" height="1.0" fill="#4444ee"/>
<rect x="174.5" y="330.9" width="1.0" height="1.0" fill="#2a2ad8"/>
<rect x="170.8" y="333.5" width="1.0" height="1.0" fill="#3a30d0"/>
<rect x="171.1" y="331.5" width="1.0" height="1.0" fill="#5050f0"/>
<rect x="176.4" y="335.4" width="1.0" height="1.0" fill="#5050f0"/>
<rect x="171.9" y="333.2" width="1.0" height="1.0" fill="#2020c0"/>
<rect x="170.6" y="334.3" width="1.0" height="1.0" fill="#3636e6"/>
<rect x="168.6" y="339.1" width="1.0" height="1.0" fill="#2a2ad8"/>
<rect x="176.1" y="334.3" width="1.0" height="1.0" fill="#4444ee"/>
<rect x="167.5" y="328.9" width="1.0" height="1.0" fill="#4444ee"/>
<rect x="160.4" y="330.1" width="1.0" height="1.0" fill="#3a30d0"/>
<rect x="169.7" y="341.4" width="1.0" height="1.0" fill="#2020c0"/>
<rect x="175.0" y="327.7" width="1.0" height="1.0" fill="#3636e6"/>
<rect x="168.2" y="334.2" width="1.0" height="1.0" fill="#5050f0"/>
<rect x="171.1" y="330.7" width="1.0" height="1.0" fill="#5050f0"/>
<rect x="168.4" y="333.7" width="1.0" height="1.0" fill="#2020c0"/>
<rect x="167.5" y="336.6" width="1.0" height="1.0" fill="#4444ee"/>
<rect x="176.7" y="331.1" width="1.0" height="1.0" fill="#4444ee"/>
<rect x="171.3" y="333.8" width="1.0" height="1.0" fill="#3636e6"/>
<rect x="168.8" y="337.2" width="1.0" height="1.0" fill="#3a30d0"/>
<rect x="165.8" y="334.2" width="1.0" height="1.0" fill="#5050f0"/>
<rect x="171.0" y="337.5" width="1.0" height="1.0" fill="#3a30d0"/>
<rect x="164.4" y="331.6" width="1.0" height="1.0" fill="#3a30d0"/>
<rect x="167.8" y="332.0" width="1.0" height="1.0" fill="#2020c0"/>
<rect x="160.9" y="333.4" width="1.0" height="1.0" fill="#4444ee"/>
<rect x="166.4" y="330.0" width="1.0" height="1.0" fill="#3636e6"/>
<rect x="163.4" y="335.3" width="1.0" height="1.0" fill="#2020c0"/>
<rect x="168.3" y="333.5" width="1.0" height="1.0" fill="#4444ee"/>
<rect x="165.9" y="330.6" width="1.0" height="1.0" fill="#3a30d0"/>
<rect x="172.0" y="336.6" width="1.0" height="1.0" fill="#5050f0"/>
<rect x="173.6" y="330.5" width="1.0" height="1.0" fill="#5050f0"/>
<rect x="172.5" y="336.1" width="1.0" height="1.0" fill="#2020c0"/>
<rect x="167.0" y="332.5" width="1.0" height="1.0" fill="#3636e6"/>
<rect x="169.0" y="335.9" width="1.0" height="1.0" fill="#5050f0"/>
<rect x="173.4" y="334.1" width="1.0" height="1.0" fill="#5050f0"/>
<rect x="174.3" y="336.0" width="1.0" height="1.0" fill="#3636e6"/>
<rect x="172.7" y="329.5" width="1.0" height="1.0" fill="#4444ee"/>
<rect x="170.2" y="335.6" width="1.0" height="1.0" fill="#2a2ad8"/>
<rect x="177.9" y="339.7" width="1.0" height="1.0" fill="#4444ee"/>
<rect x="183.4" y="334.6" width="1.0" height="1.0" fill="#4444ee"/>
<rect x="177.9" y="330.9" width="1.0" height="1.0" fill="#5050f0"/>
<rect x="179.3" y="334.6" width="1.0" height="1.0" fill="#2020c0"/>
<rect x="176.3" y="332.3" width="1.0" height="1.0" fill="#5050f0"/>
<rect x="179.9" y="339.5" width="1.0" height="1.0" fill="#5050f0"/>
<rect x="173.6" y="331.9" width="1.0" height="1.0" fill="#4444ee"/>
<rect x="182.9" y="330.6" width="1.0" height="1.0" fill="#5050f0"/>
<rect x="184.5" y="330.7" width="1.0" height="1.0" fill="#5050f0"/>
<rect x="177.0" y="333.0" width="1.0" height="1.0" fill="#3636e6"/>
<rect x="176.7" y="331.6" width="1.0" height="1.0" fill="#2020c0"/>
<rect x="179.1" y="338.3" width="1.0" height="1.0" fill="#4444ee"/>
<rect x="179.7" y="336.8" width="1.0" height="1.0" fill="#5050f0"/>
<rect x="177.4" y="332.5" width="1.0" height="1.0" fill="#4444ee"/>
<rect x="178.7" y="334.1" width="1.0" height="1.0" fill="#4444ee"/>
<rect x="173.7" y="333.5" width="1.0" height="1.0" fill="#3636e6"/>
<rect x="182.3" y="332.5" width="1.0" height="1.0" fill="#2a2ad8"/>
<rect x="175.9" y="336.1" width="1.0" height="1.0" fill="#2a2ad8"/>
<rect x="184.4" y="334.8" width="1.0" height="1.0" fill="#3636e6"/>
<rect x="177.4" y="327.3" width="1.0" height="1.0" fill="#3636e6"/>
<rect x="177.7" y="333.8" width="1.0" height="1.0" fill="#3a30d0"/>
<rect x="176.9" y="334.5" width="1.0" height="1.0" fill="#4444ee"/>
<rect x="173.8" y="333.7" width="1.0" height="1.0" fill="#2020c0"/>
<rect x="175.4" y="333.6" width="1.0" height="1.0" fill="#4444ee"/>
<rect x="181.0" y="338.1" width="1.0" height="1.0" fill="#4444ee"/>
<rect x="170.2" y="333.4" width="1.0" height="1.0" fill="#5050f0"/>
<rect x="183.2" y="333.7" width="1.0" height="1.0" fill="#2a2ad8"/>
<rect x="179.4" y="336.7" width="1.0" height="1.0" fill="#2a2ad8"/>
<rect x="183.7" y="334.2" width="1.0" height="1.0" fill="#4444ee"/>
<rect x="175.4" y="331.0" width="1.0" height="1.0" fill="#3a30d0"/>
<rect x="179.2" y="336.0" width="1.0" height="1.0" fill="#5050f0"/>
<rect x="171.5" y="338.1" width="1.0" height="1.0" fill="#3636e6"/>
<rect x="177.2" y="334.4" width="1.0" height="1.0" fill="#2a2ad8"/>
<rect x="181.6" y="330.3" width="1.0" height="1.0" fill="#4444ee"/>
<rect x="175.5" y="330.5" width="1.0" height="1.0" fill="#3636e6"/>
<rect x="176.1" y="337.2" width="1.0" height="1.0" fill="#4444ee"/>
<rect x="176.2" y="334.5" width="1.0" height="1.0" fill="#3a30d0"/>
<rect x="175.4" y="330.1" width="1.0" height="1.0" fill="#4444ee"/>
<rect x="174.7" y="338.3" width="1.0" height="1.0" fill="#2020c0"/>
<rect x="177.8" y="329.9" width="1.0" height="1.0" fill="#4444ee"/>
<rect x="177.5" y="331.1" width="1.0" height="1.0" fill="#5050f0"/>
<rect x="180.6" y="331.5" width="1.0" height="1.0" fill="#5050f0"/>
<rect x="178.0" y="337.0" width="1.0" height="1.0" fill="#4444ee"/>
<rect x="178.3" y="333.2" width="1.0" height="1.0" fill="#2020c0"/>
<rect x="181.5" y="335.9" width="1.0" height="1.0" fill="#4444ee"/>
<rect x="186.5" y="335.8" width="1.0" height="1.0" fill="#2020c0"/>
<rect x="180.0" y="332.5" width="1.0" height="1.0" fill="#2020c0"/>
<rect x="179.0" y="333.6" width="1.0" height="1.0" fill="#2a2ad8"/>
<rect x="179.9" y="335.0" width="1.0" height="1.0" fill="#2020c0"/>
<rect x="179.5" y="335.3" width="1.0" height="1.0" fill="#3636e6"/>
<rect x="181.1" y="332.6" width="1.0" height="1.0" fill="#4444ee"/>
<rect x="178.2" y="335.3" width="1.0" height="1.0" fill="#4444ee"/>
<rect x="180.1" y="332.4" width="1.0" height="1.0" fill="#5050f0"/>
<rect x="174.1" y="330.9" width="1.0" height="1.0" fill="#5050f0"/>
<rect x="183.6" y="332.0" width="1.0" height="1.0" fill="#5050f0"/>
<rect x="180.9" y="332.4" width="1.0" height="1.0" fill="#5050f0"/>
<rect x="179.9" y="335.1" width="1.0" height="1.0" fill="#4444ee"/>
<rect x="178.6" y="332.8" width="1.0" height="1.0" fill="#2a2ad8"/>
<rect x="179.2" y="336.0" width="1.0" height="1.0" fill="#3636e6"/>
<rect x="174.5" y="334.6" width="1.0" height="1.0" fill="#4444ee"/>
<rect x="177.3" y="334.3" width="1.0" height="1.0" fill="#4444ee"/>
<rect x="179.6" y="335.7" width="1.0" height="1.0" fill="#3a30d0"/>
<rect x="179.8" y="333.8" width="1.0" height="1.0" fill="#2020c0"/>
<rect x="174.5" y="334.7" width="1.0" height="1.0" fill="#5050f0"/>
<rect x="178.2" y="337.0" width="1.0" height="1.0" fill="#4444ee"/>
<rect x="170.6" y="337.5" width="1.0" height="1.0" fill="#2a2ad8"/>
<rect x="181.1" y="336.4" width="1.0" height="1.0" fill="#5050f0"/>
<rect x="184.9" y="334.7" width="1.0" height="1.0" fill="#5050f0"/>
<rect x="180.1" y="332.8" width="1.0" height="1.0" fill="#4444ee"/>
<rect x="171.0" y="334.6" width="1.0" height="1.0" fill="#2a2ad8"/>
<rect x="180.4" y="336.8" width="1.0" height="1.0" fill="#3636e6"/>
<rect x="175.3" y="338.7" width="1.0" height="1.0" fill="#2020c0"/>
<rect x="175.7" y="338.1" width="1.0" height="1.0" fill="#3a30d0"/>
<rect x="179.9" y="332.1" width="1.0" height="1.0" fill="#4444ee"/>
<rect x="177.8" y="335.8" width="1.0" height="1.0" fill="#2a2ad8"/>
<rect x="181.0" y="331.9" width="1.0" height="1.0" fill="#4444ee"/>
<rect x="175.6" y="335.9" width="1.0" height="1.0" fill="#2020c0"/>
<rect x="182.1" y="332.2" width="1.0" height="1.0" fill="#3636e6"/>
<rect x="175.5" y="329.9" width="1.0" height="1.0" fill="#2020c0"/>
<rect x="181.7" y="338.1" width="1.0" height="1.0" fill="#3636e6"/>
<rect x="174.6" y="331.9" width="1.0" height="1.0" fill="#2a2ad8"/>
<rect x="175.4" y="336.1" width="1.0" height="1.0" fill="#4444ee"/>
<rect x="178.3" y="333.7" width="1.0" height="1.0" fill="#2020c0"/>
<rect x="180.5" y="334.5" width="1.0" height="1.0" fill="#4444ee"/>
<rect x="175.0" y="331.4" width="1.0" height="1.0" fill="#3a30d0"/>
<rect x="184.1" y="331.9" width="1.0" height="1.0" fill="#3a30d0"/>
<rect x="183.1" y="337.3" width="1.0" height="1.0" fill="#5050f0"/>
<rect x="174.5" y="331.6" width="1.0" height="1.0" fill="#3636e6"/>
<rect x="185.0" y="335.0" width="1.0" height="1.0" fill="#5050f0"/>
<rect x="179.6" y="332.7" width="1.0" height="1.0" fill="#3636e6"/>
<rect x="182.3" y="331.9" width="1.0" height="1.0" fill="#2a2ad8"/>
<rect x="184.5" y="331.9" width="1.0" height="1.0" fill="#2020c0"/>
<rect x="181.0" y="332.9" width="1.0" height="1.0" fill="#2020c0"/>
<rect x="176.6" y="333.2" width="1.0" height="1.0" fill="#2020c0"/>
<rect x="179.9" y="334.7" width="1.0" height="1.0" fill="#2a2ad8"/>
<rect x="174.3" y="335.7" width="1.0" height="1.0" fill="#2a2ad8"/>
<rect x="174.6" y="334.0" width="1.0" height="1.0" fill="#2a2ad8"/>
<rect x="180.1" y="331.1" width="1.0" height="1.0" fill="#5050f0"/>
<rect x="183.3" y="332.5" width="1.0" height="1.0" fill="#2a2ad8"/>
<rect x="177.2" y="330.6" width="1.0" height="1.0" fill="#5050f0"/>
<rect x="184.0" y="333.6" width="1.0" height="1.0" fill="#4444ee"/>
<rect x="177.9" y="333.6" width="1.0" height="1.0" fill="#4444ee"/>
<rect x="180.0" y="335.6" width="1.0" height="1.0" fill="#2a2ad8"/>
<rect x="179.0" y="334.2" width="1.0" height="1.0" fill="#5050f0"/>
<rect x="187.0" y="339.0" width="1.0" height="1.0" fill="#2a2ad8"/>
<rect x="179.9" y="335.4" width="1.0" height="1.0" fill="#4444ee"/>
<rect x="185.8" y="334.5" width="1.0" height="1.0" fill="#3636e6"/>
<rect x="173.2" y="335.4" width="1.0" height="1.0" fill="#2a2ad8"/>
<rect x="175.1" y="337.5" width="1.0" height="1.0" fill="#5050f0"/>
<rect x="183.5" y="330.4" width="1.0" height="1.0" fill="#2a2ad8"/>
<rect x="178.1" y="337.4" width="1.0" height="1.0" fill="#4444ee"/>
<rect x="170.5" y="335.6" width="1.0" height="1.0" fill="#2020c0"/>
<rect x="180.6" y="333.5" width="1.0" height="1.0" fill="#2a2ad8"/>
<rect x="180.2" y="334.0" width="1.0" height="1.0" fill="#5050f0"/>
<rect x="177.3" y="330.4" width="1.0" height="1.0" fill="#4444ee"/>
<rect x="177.1" y="338.2" width="1.0" height="1.0" fill="#3636e6"/>
<rect x="186.8" y="332.6" width="1.0" height="1.0" fill="#3a30d0"/>
<rect x="183.1" y="335.0" width="1.0" height="1.0" fill="#3a30d0"/>
<rect x="178.9" y="330.9" width="1.0" height="1.0" fill="#3636e6"/>
<rect x="183.9" y="338.0" width="1.0" height="1.0" fill="#2020c0"/>
<rect x="181.8" y="333.5" width="1.0" height="1.0" fill="#4444ee"/>
<rect x="172.6" y="334.7" width="1.0" height="1.0" fill="#4444ee"/>
<rect x="186.1" y="332.3" width="1.0" height="1.0" fill="#3a30d0"/>
<rect x="177.9" y="336.0" width="1.0" height="1.0" fill="#3a30d0"/>
<rect x="185.7" y="333.3" width="1.0" height="1.0" fill="#3a30d0"/>
<rect x="176.8" y="337.3" width="1.0" height="1.0" fill="#2a2ad8"/>
<rect x="182.2" y="330.7" width="1.0" height="1.0" fill="#2020c0"/>
<rect x="170.1" y="330.1" width="1.0" height="1.0" fill="#3636e6"/>
<rect x="175.2" y="337.0" width="1.0" height="1.0" fill="#3a30d0"/>
<rect x="179.9" y="332.0" width="1.0" height="1.0" fill="#4444ee"/>
<rect x="179.5" y="334.2" width="1.0" height="1.0" fill="#2020c0"/>
<rect x="179.2" y="335.6" width="1.0" height="1.0" fill="#2a2ad8"/>
<rect x="179.0" y="335.5" width="1.0" height="1.0" fill="#3a30d0"/>
<rect x="186.1" y="340.1" width="1.0" height="1.0" fill="#3a30d0"/>
<rect x="176.0" y="328.3" width="1.0" height="1.0" fill="#2020c0"/>
<rect x="174.6" y="333.2" width="1.0" height="1.0" fill="#4444ee"/>
<rect x="180.3" y="332.2" width="1.0" height="1.0" fill="#5050f0"/>
<rect x="182.2" y="333.1" width="1.0" height="1.0" fill="#3a30d0"/>
<rect x="183.3" y="335.0" width="1.0" height="1.0" fill="#5050f0"/>
<rect x="180.3" y="336.1" width="1.0" height="1.0" fill="#2a2ad8"/>
<rect x="180.6" y="331.0" width="1.0" height="1.0" fill="#2a2ad8"/>
<rect x="175.8" y="333.4" width="1.0" height="1.0" fill="#2a2ad8"/>
<rect x="180.1" y="337.7" width="1.0" height="1.0" fill="#2020c0"/>
<rect x="183.1" y="331.8" width="1.0" height="1.0" fill="#4444ee"/>
<rect x="176.8" y="333.9" width="1.0" height="1.0" fill="#3636e6"/>
<rect x="180.4" y="335.7" width="1.0" height="1.0" fill="#5050f0"/>
<rect x="178.2" y="337.6" width="1.0" height="1.0" fill="#2020c0"/>
<rect x="175.6" y="335.9" width="1.0" height="1.0" fill="#3636e6"/>
<rect x="179.7" y="340.3" width="1.0" height="1.0" fill="#4444ee"/>
<rect x="178.2" y="334.9" width="1.0" height="1.0" fill="#5050f0"/>
<rect x="177.9" y="334.3" width="1.0" height="1.0" fill="#2020c0"/>
<rect x="176.5" y="332.5" width="1.0" height="1.0" fill="#3a30d0"/>
<rect x="178.1" y="333.2" width="1.0" height="1.0" fill="#3636e6"/>
<rect x="187.5" y="333.7" width="1.0" height="1.0" fill="#4444ee"/>
<rect x="177.1" y="333.0" width="1.0" height="1.0" fill="#2020c0"/>
<rect x="170.8" y="337.0" width="1.0" height="1.0" fill="#3a30d0"/>
<rect x="183.8" y="327.5" width="1.0" height="1.0" fill="#2020c0"/>
<rect x="181.5" y="331.9" width="1.0" height="1.0" fill="#3636e6"/>
<rect x="162.5" y="335.0" width="1.0" height="1.0" fill="#1a1a9a"/>
<rect x="159.6" y="333.0" width="1.0" height="1.0" fill="#20208a"/>
<rect x="159.5" y="335.0" width="1.0" height="1.0" fill="#1a1a9a"/>
<rect x="164.4" y="332.2" width="1.0" height="1.0" fill="#1a1a9a"/>
<rect x="162.6" y="333.7" width="1.0" height="1.0" fill="#20208a"/>
<rect x="160.6" y="333.4" width="1.0" height="1.0" fill="#2a2ab0"/>
<rect x="161.7" y="334.5" width="1.0" height="1.0" fill="#1a1a9a"/>
<rect x="161.9" y="335.8" width="1.0" height="1.0" fill="#2a2ab0"/>
<rect x="162.9" y="335.2" width="1.0" height="1.0" fill="#20208a"/>
<rect x="163.4" y="334.3" width="1.0" height="1.0" fill="#2a2ab0"/>
<rect x="165.5" y="332.2" width="1.0" height="1.0" fill="#1a1a9a"/>
<rect x="162.7" y="337.2" width="1.0" height="1.0" fill="#2a2ab0"/>
<rect x="159.8" y="329.5" width="1.0" height="1.0" fill="#1a1a9a"/>
<rect x="164.0" y="335.7" width="1.0" height="1.0" fill="#1a1a9a"/>
<rect x="165.2" y="333.4" width="1.0" height="1.0" fill="#20208a"/>
<rect x="161.2" y="333.3" width="1.0" height="1.0" fill="#2a2ab0"/>
<rect x="164.0" y="335.8" width="1.0" height="1.0" fill="#20208a"/>
<rect x="161.5" y="336.0" width="1.0" height="1.0" fill="#20208a"/>
<rect x="163.4" y="336.0" width="1.0" height="1.0" fill="#1a1a9a"/>
<rect x="165.9" y="332.2" width="1.0" height="1.0" fill="#20208a"/>
<rect x="162.6" y="333.2" width="1.0" height="1.0" fill="#1a1a9a"/>
<rect x="164.6" y="338.1" width="1.0" height="1.0" fill="#1a1a9a"/>
<rect x="165.9" y="332.8" width="1.0" height="1.0" fill="#2a2ab0"/>
<rect x="164.0" y="336.4" width="1.0" height="1.0" fill="#1a1a9a"/>
<rect x="164.3" y="333.6" width="1.0" height="1.0" fill="#1a1a9a"/>
<rect x="161.5" y="332.9" width="1.0" height="1.0" fill="#20208a"/>
<rect x="162.3" y="336.0" width="1.0" height="1.0" fill="#1a1a9a"/>
<rect x="162.1" y="333.7" width="1.0" height="1.0" fill="#1a1a9a"/>
<rect x="162.7" y="333.2" width="1.0" height="1.0" fill="#20208a"/>
<rect x="161.9" y="334.2" width="1.0" height="1.0" fill="#1a1a9a"/>
<rect x="162.6" y="336.9" width="1.0" height="1.0" fill="#1a1a9a"/>
<rect x="165.0" y="335.1" width="1.0" height="1.0" fill="#20208a"/>
<rect x="162.3" y="335.7" width="1.0" height="1.0" fill="#20208a"/>
<rect x="164.3" y="336.1" width="1.0" height="1.0" fill="#20208a"/>
<rect x="166.4" y="338.6" width="1.0" height="1.0" fill="#1a1a9a"/>
<rect x="160.8" y="331.8" width="1.0" height="1.0" fill="#1a1a9a"/>
<rect x="159.8" y="333.1" width="1.0" height="1.0" fill="#1a1a9a"/>
<rect x="162.7" y="336.1" width="1.0" height="1.0" fill="#20208a"/>
<rect x="161.6" y="335.3" width="1.0" height="1.0" fill="#1a1a9a"/>
<rect x="163.5" y="334.1" width="1.0" height="1.0" fill="#20208a"/>
<rect x="161.9" y="335.3" width="1.0" height="1.0" fill="#2a2ab0"/>
<rect x="163.7" y="334.4" width="1.0" height="1.0" fill="#2a2ab0"/>
<rect x="165.9" y="335.0" width="1.0" height="1.0" fill="#20208a"/>
<rect x="161.0" y="334.4" width="1.0" height="1.0" fill="#2a2ab0"/>
<rect x="162.4" y="336.6" width="1.0" height="1.0" fill="#1a1a9a"/>
<rect x="163.8" y="333.8" width="1.0" height="1.0" fill="#2a2ab0"/>
<rect x="164.2" y="338.4" width="1.0" height="1.0" fill="#2a2ab0"/>
<rect x="163.1" y="331.2" width="1.0" height="1.0" fill="#1a1a9a"/>
<rect x="160.2" y="332.2" width="1.0" height="1.0" fill="#2a2ab0"/>
<rect x="162.5" y="330.9" width="1.0" height="1.0" fill="#1a1a9a"/>
<rect x="163.4" y="337.5" width="1.0" height="1.0" fill="#2a2ab0"/>
<rect x="162.0" y="333.6" width="1.0" height="1.0" fill="#20208a"/>
<rect x="163.0" y="335.4" width="1.0" height="1.0" fill="#2a2ab0"/>
<rect x="159.6" y="334.1" width="1.0" height="1.0" fill="#1a1a9a"/>
<rect x="161.2" y="334.4" width="1.0" height="1.0" fill="#20208a"/>
<rect x="164.7" y="330.9" width="1.0" height="1.0" fill="#20208a"/>
<rect x="164.3" y="335.8" width="1.0" height="1.0" fill="#20208a"/>
<rect x="164.5" y="337.0" width="1.0" height="1.0" fill="#1a1a9a"/>
<rect x="164.1" y="338.4" width="1.0" height="1.0" fill="#20208a"/>
<rect x="165.4" y="335.4" width="1.0" height="1.0" fill="#2a2ab0"/>
<rect x="162.7" y="334.5" width="1.0" height="1.0" fill="#2a2ab0"/>
<rect x="166.9" y="332.2" width="1.0" height="1.0" fill="#1a1a9a"/>
<rect x="164.8" y="337.0" width="1.0" height="1.0" fill="#20208a"/>
<rect x="163.4" y="330.2" width="1.0" height="1.0" fill="#2a2ab0"/>
<rect x="162.8" y="333.8" width="1.0" height="1.0" fill="#1a1a9a"/>
<rect x="164.7" y="333.9" width="1.0" height="1.0" fill="#2a2ab0"/>
<rect x="165.8" y="335.2" width="1.0" height="1.0" fill="#1a1a9a"/>
<rect x="167.2" y="335.3" width="1.0" height="1.0" fill="#1a1a9a"/>
<rect x="162.0" y="333.7" width="1.0" height="1.0" fill="#20208a"/>
<rect x="162.8" y="338.7" width="1.0" height="1.0" fill="#1a1a9a"/>
<rect x="166.9" y="335.2" width="1.0" height="1.0" fill="#d09a3a"/>
<rect x="164.3" y="335.0" width="1.0" height="1.0" fill="#d09a3a"/>
<rect x="163.3" y="333.6" width="1.0" height="1.0" fill="#c4882a"/>
<rect x="164.0" y="334.2" width="1.0" height="1.0" fill="#c4882a"/>
<rect x="164.1" y="334.4" width="1.0" height="1.0" fill="#c4882a"/>
<rect x="162.6" y="335.2" width="1.0" height="1.0" fill="#b87a28"/>
<rect x="164.7" y="335.3" width="1.0" height="1.0" fill="#c4882a"/>
<rect x="163.4" y="334.5" width="1.0" height="1.0" fill="#c4882a"/>
<rect x="165.1" y="336.3" width="1.0" height="1.0" fill="#d09a3a"/>
<rect x="161.9" y="336.9" width="1.0" height="1.0" fill="#c4882a"/>
<rect x="165.3" y="334.3" width="1.0" height="1.0" fill="#b87a28"/>
<rect x="162.9" y="333.7" width="1.0" height="1.0" fill="#c4882a"/>
<rect x="161.9" y="336.8" width="1.0" height="1.0" fill="#b87a28"/>
<rect x="163.7" y="335.7" width="1.0" height="1.0" fill="#b87a28"/>
<rect x="163.7" y="332.2" width="1.0" height="1.0" fill="#d09a3a"/>
<rect x="165.1" y="331.9" width="1.0" height="1.0" fill="#b87a28"/>
<rect x="164.4" y="334.4" width="1.0" height="1.0" fill="#d09a3a"/>
<rect x="165.3" y="336.5" width="1.0" height="1.0" fill="#b87a28"/>
<rect x="164.2" y="336.3" width="1.0" height="1.0" fill="#d09a3a"/>
<rect x="164.8" y="334.8" width="1.0" height="1.0" fill="#c4882a"/>
<rect x="165.4" y="335.4" width="1.0" height="1.0" fill="#d09a3a"/>
<rect x="163.8" y="333.9" width="1.0" height="1.0" fill="#b87a28"/>
<rect x="166.2" y="334.3" width="1.0" height="1.0" fill="#b87a28"/>
<rect x="162.7" y="332.9" width="1.0" height="1.0" fill="#c4882a"/>
<rect x="165.9" y="335.2" width="1.0" height="1.0" fill="#b87a28"/>
<rect x="165.7" y="333.8" width="1.0" height="1.0" fill="#d09a3a"/>
<rect x="161.6" y="334.0" width="1.0" height="1.0" fill="#d09a3a"/>
<rect x="164.7" y="335.2" width="1.0" height="1.0" fill="#c4882a"/>
<rect x="161.5" y="336.2" width="1.0" height="1.0" fill="#b87a28"/>
<rect x="165.0" y="335.6" width="1.0" height="1.0" fill="#c4882a"/>
<rect x="164.2" y="333.5" width="0.8" height="0.8" fill="#b0b0e8"/>
<rect x="193.5" y="331.4" width="0.8" height="0.8" fill="#b0b0e8"/>
<rect x="169.4" y="330.1" width="0.8" height="0.8" fill="#b0b0e8"/>
<rect x="178.7" y="321.9" width="0.8" height="0.8" fill="#b0b0e8"/>
<rect x="164.3" y="321.4" width="0.8" height="0.8" fill="#b0b0e8"/>
<rect x="170.3" y="328.6" width="0.8" height="0.8" fill="#b0b0e8"/>
<rect x="170.1" y="324.3" width="0.8" height="0.8" fill="#b0b0e8"/>
<rect x="163.1" y="332.2" width="0.8" height="0.8" fill="#b0b0e8"/>
<rect x="189.4" y="333.9" width="0.8" height="0.8" fill="#b0b0e8"/>
<rect x="180.0" y="334.9" width="0.8" height="0.8" fill="#b0b0e8"/>
<rect x="167.0" y="336.5" width="0.8" height="0.8" fill="#b0b0e8"/>
<rect x="176.1" y="332.2" width="0.8" height="0.8" fill="#b0b0e8"/>
<rect x="181.4" y="330.2" width="0.8" height="0.8" fill="#b0b0e8"/>
<rect x="170.9" y="324.3" width="0.8" height="0.8" fill="#b0b0e8"/>
<rect x="166.2" y="380.5" width="1.0" height="1.0" fill="#4444ee"/>
<rect x="168.3" y="368.9" width="1.0" height="1.0" fill="#2020c0"/>
<rect x="169.1" y="388.4" width="1.0" height="1.0" fill="#2020c0"/>
<rect x="162.7" y="367.1" width="1.0" height="1.0" fill="#2020c0"/>
<rect x="167.0" y="366.4" width="1.0" height="1.0" fill="#2a2ad8"/>
<rect x="165.8" y="365.6" width="1.0" height="1.0" fill="#2a2ad8"/>
<rect x="163.6" y="365.6" width="1.0" height="1.0" fill="#5050f0"/>
<rect x="168.1" y="373.7" width="1.0" height="1.0" fill="#4444ee"/>
<rect x="162.8" y="381.9" width="1.0" height="1.0" fill="#3a30d0"/>
<rect x="166.7" y="391.7" width="1.0" height="1.0" fill="#5050f0"/>
<rect x="168.2" y="366.9" width="1.0" height="1.0" fill="#5050f0"/>
<rect x="163.2" y="380.7" width="1.0" height="1.0" fill="#3a30d0"/>
<rect x="163.9" y="366.1" width="1.0" height="1.0" fill="#3a30d0"/>
<rect x="170.0" y="379.9" width="1.0" height="1.0" fill="#4444ee"/>
<rect x="165.2" y="382.4" width="1.0" height="1.0" fill="#5050f0"/>
<rect x="166.8" y="368.2" width="1.0" height="1.0" fill="#2a2ad8"/>
<rect x="170.2" y="370.9" width="1.0" height="1.0" fill="#3a30d0"/>
<rect x="167.6" y="376.3" width="1.0" height="1.0" fill="#3a30d0"/>
<rect x="168.7" y="383.9" width="1.0" height="1.0" fill="#2020c0"/>
<rect x="168.2" y="362.2" width="1.0" height="1.0" fill="#4444ee"/>
<rect x="168.1" y="360.0" width="1.0" height="1.0" fill="#2020c0"/>
<rect x="165.2" y="363.5" width="1.0" height="1.0" fill="#4444ee"/>
<rect x="162.0" y="368.6" width="1.0" height="1.0" fill="#5050f0"/>
<rect x="163.5" y="383.9" width="1.0" height="1.0" fill="#4444ee"/>
<rect x="163.9" y="375.4" width="1.0" height="1.0" fill="#3a30d0"/>
<rect x="165.1" y="375.0" width="1.0" height="1.0" fill="#3a30d0"/>
<rect x="164.2" y="374.8" width="1.0" height="1.0" fill="#2020c0"/>
<rect x="163.3" y="385.1" width="1.0" height="1.0" fill="#3636e6"/>
<rect x="167.4" y="369.0" width="1.0" height="1.0" fill="#4444ee"/>
<rect x="170.8" y="357.1" width="1.0" height="1.0" fill="#2a2ad8"/>
<rect x="168.9" y="373.7" width="1.0" height="1.0" fill="#4444ee"/>
<rect x="164.6" y="380.5" width="1.0" height="1.0" fill="#2020c0"/>
<rect x="162.4" y="369.4" width="1.0" height="1.0" fill="#5050f0"/>
<rect x="162.9" y="374.5" width="1.0" height="1.0" fill="#2a2ad8"/>
<rect x="163.5" y="366.1" width="1.0" height="1.0" fill="#2a2ad8"/>
<rect x="164.1" y="361.2" width="1.0" height="1.0" fill="#2a2ad8"/>
<rect x="162.9" y="375.9" width="1.0" height="1.0" fill="#5050f0"/>
<rect x="162.3" y="366.3" width="1.0" height="1.0" fill="#3636e6"/>
<rect x="168.6" y="368.3" width="1.0" height="1.0" fill="#4444ee"/>
<rect x="166.2" y="352.4" width="1.0" height="1.0" fill="#3a30d0"/>
<rect x="163.8" y="379.2" width="1.0" height="1.0" fill="#2a2ad8"/>
<rect x="166.7" y="377.0" width="1.0" height="1.0" fill="#2a2ad8"/>
<rect x="167.1" y="361.5" width="1.0" height="1.0" fill="#2a2ad8"/>
<rect x="164.3" y="364.6" width="1.0" height="1.0" fill="#2020c0"/>
<rect x="167.8" y="364.8" width="1.0" height="1.0" fill="#3636e6"/>
<rect x="160.7" y="368.1" width="1.0" height="1.0" fill="#3636e6"/>
<rect x="163.9" y="370.3" width="1.0" height="1.0" fill="#3636e6"/>
<rect x="168.8" y="374.5" width="1.0" height="1.0" fill="#2a2ad8"/>
<rect x="165.1" y="368.6" width="1.0" height="1.0" fill="#4444ee"/>
<rect x="165.8" y="370.5" width="1.0" height="1.0" fill="#5050f0"/>
<rect x="165.5" y="369.8" width="1.0" height="1.0" fill="#2020c0"/>
<rect x="164.6" y="372.8" width="1.0" height="1.0" fill="#2a2ad8"/>
<rect x="164.7" y="365.6" width="1.0" height="1.0" fill="#4444ee"/>
<rect x="166.0" y="359.6" width="1.0" height="1.0" fill="#5050f0"/>
<rect x="168.2" y="364.3" width="1.0" height="1.0" fill="#3636e6"/>
<rect x="163.1" y="366.6" width="1.0" height="1.0" fill="#2a2ad8"/>
<rect x="167.6" y="378.6" width="1.0" height="1.0" fill="#3a30d0"/>
<rect x="166.6" y="372.9" width="1.0" height="1.0" fill="#3636e6"/>
<rect x="168.6" y="367.3" width="1.0" height="1.0" fill="#4444ee"/>
<rect x="161.9" y="360.5" width="1.0" height="1.0" fill="#2a2ad8"/>
<rect x="163.2" y="360.0" width="1.0" height="1.0" fill="#3a30d0"/>
<rect x="163.7" y="382.6" width="1.0" height="1.0" fill="#2020c0"/>
<rect x="165.5" y="372.7" width="1.0" height="1.0" fill="#5050f0"/>
<rect x="170.3" y="381.3" width="1.0" height="1.0" fill="#3a30d0"/>
<rect x="167.2" y="372.6" width="1.0" height="1.0" fill="#3a30d0"/>
<rect x="164.9" y="372.4" width="1.0" height="1.0" fill="#4444ee"/>
<rect x="159.7" y="359.8" width="1.0" height="1.0" fill="#4444ee"/>
<rect x="167.5" y="372.6" width="1.0" height="1.0" fill="#3636e6"/>
<rect x="171.6" y="375.9" width="1.0" height="1.0" fill="#3636e6"/>
<rect x="163.3" y="387.2" width="1.0" height="1.0" fill="#4444ee"/>
<rect x="164.4" y="381.4" width="1.0" height="1.0" fill="#4444ee"/>
<rect x="166.6" y="370.1" width="1.0" height="1.0" fill="#5050f0"/>
<rect x="162.3" y="379.1" width="1.0" height="1.0" fill="#3636e6"/>
<rect x="163.3" y="374.9" width="1.0" height="1.0" fill="#5050f0"/>
<rect x="160.8" y="372.0" width="1.0" height="1.0" fill="#3636e6"/>
<rect x="167.0" y="373.2" width="1.0" height="1.0" fill="#4444ee"/>
<rect x="168.4" y="391.4" width="1.0" height="1.0" fill="#2020c0"/>
<rect x="163.6" y="375.4" width="1.0" height="1.0" fill="#2020c0"/>
<rect x="163.0" y="368.7" width="1.0" height="1.0" fill="#4444ee"/>
<rect x="161.6" y="352.9" width="1.0" height="1.0" fill="#4444ee"/>
<rect x="166.8" y="363.5" width="1.0" height="1.0" fill="#3636e6"/>
<rect x="163.3" y="376.7" width="1.0" height="1.0" fill="#2020c0"/>
<rect x="165.7" y="372.8" width="1.0" height="1.0" fill="#5050f0"/>
<rect x="170.4" y="372.9" width="1.0" height="1.0" fill="#3636e6"/>
<rect x="165.3" y="366.9" width="1.0" height="1.0" fill="#2020c0"/>
<rect x="161.0" y="366.3" width="1.0" height="1.0" fill="#3a30d0"/>
<rect x="160.8" y="376.1" width="1.0" height="1.0" fill="#3636e6"/>
<rect x="167.0" y="377.2" width="1.0" height="1.0" fill="#5050f0"/>
<rect x="162.5" y="377.2" width="1.0" height="1.0" fill="#3a30d0"/>
<rect x="167.3" y="390.7" width="1.0" height="1.0" fill="#3a30d0"/>
<rect x="167.1" y="386.6" width="1.0" height="1.0" fill="#5050f0"/>
<rect x="168.5" y="380.3" width="1.0" height="1.0" fill="#2020c0"/>
<rect x="163.2" y="365.3" width="1.0" height="1.0" fill="#2020c0"/>
<rect x="162.9" y="368.6" width="1.0" height="1.0" fill="#3a30d0"/>
<rect x="166.9" y="387.3" width="1.0" height="1.0" fill="#2a2ad8"/>
<rect x="165.1" y="367.2" width="1.0" height="1.0" fill="#2020c0"/>
<rect x="165.2" y="356.1" width="1.0" height="1.0" fill="#2a2ad8"/>
<rect x="163.7" y="361.3" width="1.0" height="1.0" fill="#2020c0"/>
<rect x="169.8" y="371.8" width="1.0" height="1.0" fill="#5050f0"/>
<rect x="167.9" y="385.4" width="1.0" height="1.0" fill="#2020c0"/>
<rect x="167.7" y="387.1" width="1.0" height="1.0" fill="#2a2ad8"/>
<rect x="163.2" y="367.4" width="1.0" height="1.0" fill="#3a30d0"/>
<rect x="165.7" y="364.9" width="1.0" height="1.0" fill="#5050f0"/>
<rect x="164.9" y="376.1" width="1.0" height="1.0" fill="#3636e6"/>
<rect x="166.7" y="362.7" width="1.0" height="1.0" fill="#2020c0"/>
<rect x="160.7" y="381.1" width="1.0" height="1.0" fill="#5050f0"/>
<rect x="169.6" y="359.1" width="1.0" height="1.0" fill="#3636e6"/>
<rect x="167.2" y="368.5" width="1.0" height="1.0" fill="#2020c0"/>
<rect x="163.9" y="359.2" width="1.0" height="1.0" fill="#2020c0"/>
<rect x="166.1" y="369.3" width="1.0" height="1.0" fill="#5050f0"/>
<rect x="165.0" y="364.4" width="1.0" height="1.0" fill="#4444ee"/>
<rect x="163.3" y="380.1" width="1.0" height="1.0" fill="#3636e6"/>
<rect x="165.0" y="377.0" width="1.0" height="1.0" fill="#3a30d0"/>
<rect x="165.2" y="357.1" width="1.0" height="1.0" fill="#2a2ad8"/>
<rect x="162.5" y="377.1" width="1.0" height="1.0" fill="#4444ee"/>
<rect x="166.3" y="377.3" width="1.0" height="1.0" fill="#4444ee"/>
<rect x="165.3" y="359.8" width="1.0" height="1.0" fill="#5050f0"/>
<rect x="164.5" y="366.4" width="1.0" height="1.0" fill="#3636e6"/>
<rect x="161.7" y="364.7" width="1.0" height="1.0" fill="#2020c0"/>
<rect x="169.2" y="364.8" width="1.0" height="1.0" fill="#3a30d0"/>
<rect x="165.5" y="370.8" width="1.0" height="1.0" fill="#5050f0"/>
<rect x="165.4" y="373.0" width="1.0" height="1.0" fill="#3a30d0"/>
<rect x="164.9" y="368.8" width="1.0" height="1.0" fill="#3636e6"/>
<rect x="165.3" y="368.4" width="1.0" height="1.0" fill="#2020c0"/>
<rect x="167.1" y="388.8" width="1.0" height="1.0" fill="#5050f0"/>
<rect x="168.0" y="365.9" width="1.0" height="1.0" fill="#5050f0"/>
<rect x="162.1" y="379.2" width="1.0" height="1.0" fill="#3636e6"/>
<rect x="165.4" y="374.1" width="1.0" height="1.0" fill="#4444ee"/>
<rect x="163.3" y="373.2" width="1.0" height="1.0" fill="#3a30d0"/>
<rect x="165.2" y="354.5" width="1.0" height="1.0" fill="#5050f0"/>
<rect x="163.3" y="363.3" width="1.0" height="1.0" fill="#5050f0"/>
<rect x="164.7" y="362.0" width="1.0" height="1.0" fill="#3a30d0"/>
<rect x="168.3" y="358.4" width="1.0" height="1.0" fill="#4444ee"/>
<rect x="165.7" y="368.0" width="1.0" height="1.0" fill="#5050f0"/>
<rect x="167.2" y="360.8" width="1.0" height="1.0" fill="#3636e6"/>
<rect x="163.4" y="362.4" width="1.0" height="1.0" fill="#3636e6"/>
<rect x="167.2" y="369.3" width="1.0" height="1.0" fill="#2020c0"/>
<rect x="164.1" y="373.5" width="1.0" height="1.0" fill="#2020c0"/>
<rect x="168.3" y="380.3" width="1.0" height="1.0" fill="#4444ee"/>
<rect x="164.6" y="365.0" width="1.0" height="1.0" fill="#3636e6"/>
<rect x="169.7" y="371.0" width="1.0" height="1.0" fill="#3636e6"/>
<rect x="167.9" y="367.4" width="1.0" height="1.0" fill="#2020c0"/>
<rect x="168.4" y="380.4" width="1.0" height="1.0" fill="#3a30d0"/>
<rect x="163.4" y="367.5" width="1.0" height="1.0" fill="#2a2ad8"/>
<rect x="161.2" y="366.2" width="1.0" height="1.0" fill="#3636e6"/>
<rect x="164.9" y="366.1" width="1.0" height="1.0" fill="#4444ee"/>
<rect x="167.1" y="363.2" width="1.0" height="1.0" fill="#3636e6"/>
<rect x="167.3" y="375.1" width="1.0" height="1.0" fill="#2020c0"/>
<rect x="164.8" y="370.7" width="1.0" height="1.0" fill="#2020c0"/>
<rect x="165.2" y="374.4" width="1.0" height="1.0" fill="#2020c0"/>
<rect x="164.3" y="371.8" width="1.0" height="1.0" fill="#2020c0"/>
<rect x="162.3" y="374.2" width="1.0" height="1.0" fill="#2020c0"/>
<rect x="166.1" y="373.4" width="1.0" height="1.0" fill="#2a2ad8"/>
<rect x="161.1" y="371.8" width="1.0" height="1.0" fill="#2020c0"/>
<rect x="169.1" y="369.1" width="1.0" height="1.0" fill="#2a2ad8"/>
<rect x="161.5" y="353.7" width="1.0" height="1.0" fill="#4444ee"/>
<rect x="166.8" y="380.4" width="1.0" height="1.0" fill="#2a2ad8"/>
<rect x="164.9" y="373.4" width="1.0" height="1.0" fill="#2020c0"/>
<rect x="161.2" y="356.2" width="1.0" height="1.0" fill="#5050f0"/>
<rect x="164.4" y="358.8" width="1.0" height="1.0" fill="#2a2ad8"/>
<rect x="166.0" y="372.0" width="1.0" height="1.0" fill="#4444ee"/>
<rect x="166.8" y="364.5" width="1.0" height="1.0" fill="#3636e6"/>
<rect x="168.8" y="368.0" width="1.0" height="1.0" fill="#5050f0"/>
<rect x="167.9" y="383.5" width="1.0" height="1.0" fill="#2020c0"/>
<rect x="165.5" y="362.9" width="1.0" height="1.0" fill="#3636e6"/>
<rect x="164.1" y="364.1" width="1.0" height="1.0" fill="#3636e6"/>
<rect x="163.3" y="378.4" width="1.0" height="1.0" fill="#2020c0"/>
<rect x="166.7" y="365.0" width="1.0" height="1.0" fill="#2a2ad8"/>
<rect x="169.0" y="373.3" width="1.0" height="1.0" fill="#5050f0"/>
<rect x="164.9" y="372.1" width="1.0" height="1.0" fill="#3636e6"/>
<rect x="162.4" y="370.9" width="1.0" height="1.0" fill="#3636e6"/>
<rect x="169.3" y="370.2" width="1.0" height="1.0" fill="#5050f0"/>
<rect x="169.2" y="376.8" width="1.0" height="1.0" fill="#3636e6"/>
<rect x="168.1" y="379.7" width="1.0" height="1.0" fill="#4444ee"/>
<rect x="166.3" y="371.8" width="1.0" height="1.0" fill="#4444ee"/>
<rect x="163.7" y="371.3" width="1.0" height="1.0" fill="#2020c0"/>
<rect x="170.8" y="370.8" width="1.0" height="1.0" fill="#3a30d0"/>
<rect x="163.6" y="373.6" width="1.0" height="1.0" fill="#5050f0"/>
<rect x="169.6" y="375.1" width="1.0" height="1.0" fill="#2020c0"/>
<rect x="165.9" y="370.9" width="1.0" height="1.0" fill="#3636e6"/>
<rect x="166.9" y="367.6" width="1.0" height="1.0" fill="#2020c0"/>
<rect x="170.5" y="370.9" width="1.0" height="1.0" fill="#5050f0"/>
<rect x="164.6" y="375.1" width="1.0" height="1.0" fill="#2a2ad8"/>
<rect x="162.5" y="367.8" width="1.0" height="1.0" fill="#4444ee"/>
<rect x="171.4" y="367.2" width="1.0" height="1.0" fill="#3636e6"/>
<rect x="172.4" y="367.0" width="1.0" height="1.0" fill="#3a30d0"/>
<rect x="169.9" y="378.1" width="1.0" height="1.0" fill="#5050f0"/>
<rect x="163.9" y="360.1" width="1.0" height="1.0" fill="#2020c0"/>
<rect x="163.0" y="367.0" width="1.0" height="1.0" fill="#2020c0"/>
<rect x="161.7" y="372.0" width="1.0" height="1.0" fill="#2020c0"/>
<rect x="167.8" y="362.7" width="1.0" height="1.0" fill="#5050f0"/>
<rect x="167.3" y="371.5" width="1.0" height="1.0" fill="#5050f0"/>
<rect x="165.3" y="357.5" width="1.0" height="1.0" fill="#3636e6"/>
<rect x="164.2" y="363.6" width="1.0" height="1.0" fill="#3a30d0"/>
<rect x="168.0" y="367.7" width="1.0" height="1.0" fill="#3636e6"/>
<rect x="163.1" y="367.1" width="1.0" height="1.0" fill="#2a2ad8"/>
<rect x="166.9" y="384.0" width="1.0" height="1.0" fill="#3636e6"/>
<rect x="166.9" y="365.5" width="1.0" height="1.0" fill="#2a2ad8"/>
<rect x="167.1" y="382.2" width="1.0" height="1.0" fill="#5050f0"/>
<rect x="162.2" y="371.2" width="1.0" height="1.0" fill="#3636e6"/>
<rect x="161.6" y="367.1" width="1.0" height="1.0" fill="#5050f0"/>
<rect x="162.0" y="369.6" width="1.0" height="1.0" fill="#2a2ad8"/>
<rect x="168.0" y="360.2" width="1.0" height="1.0" fill="#4444ee"/>
<rect x="167.7" y="378.0" width="1.0" height="1.0" fill="#3a30d0"/>
<rect x="164.6" y="356.6" width="1.0" height="1.0" fill="#2a2ad8"/>
<rect x="160.8" y="355.1" width="1.0" height="1.0" fill="#3a30d0"/>
<rect x="169.7" y="380.1" width="1.0" height="1.0" fill="#4444ee"/>
<rect x="166.7" y="379.5" width="1.0" height="1.0" fill="#2a2ad8"/>
<rect x="168.6" y="381.6" width="1.0" height="1.0" fill="#2a2ad8"/>
<rect x="164.9" y="372.0" width="1.0" height="1.0" fill="#2a2ad8"/>
<rect x="169.2" y="371.6" width="1.0" height="1.0" fill="#3636e6"/>
<rect x="164.3" y="371.6" width="1.0" height="1.0" fill="#3636e6"/>
<rect x="160.5" y="378.5" width="1.0" height="1.0" fill="#3a30d0"/>
<rect x="167.4" y="370.1" width="1.0" height="1.0" fill="#2a2ad8"/>
<rect x="170.3" y="362.0" width="1.0" height="1.0" fill="#3636e6"/>
<rect x="162.1" y="382.6" width="1.0" height="1.0" fill="#5050f0"/>
<rect x="163.5" y="356.1" width="1.0" height="1.0" fill="#2a2ad8"/>
<rect x="165.8" y="380.7" width="1.0" height="1.0" fill="#3a30d0"/>
<rect x="169.7" y="366.1" width="1.0" height="1.0" fill="#2a2ad8"/>
<rect x="166.6" y="363.2" width="1.0" height="1.0" fill="#2020c0"/>
<rect x="161.0" y="365.9" width="1.0" height="1.0" fill="#2a2ad8"/>
<rect x="171.4" y="374.5" width="1.0" height="1.0" fill="#3636e6"/>
<rect x="165.5" y="376.1" width="1.0" height="1.0" fill="#4444ee"/>
<rect x="161.2" y="376.0" width="1.0" height="1.0" fill="#4444ee"/>
<rect x="169.3" y="380.3" width="1.0" height="1.0" fill="#3636e6"/>
<rect x="169.3" y="386.4" width="1.0" height="1.0" fill="#5050f0"/>
<rect x="163.1" y="356.4" width="1.0" height="1.0" fill="#3a30d0"/>
<rect x="168.0" y="363.0" width="1.0" height="1.0" fill="#5050f0"/>
<rect x="165.8" y="363.8" width="1.0" height="1.0" fill="#4444ee"/>
<rect x="168.1" y="371.2" width="1.0" height="1.0" fill="#3636e6"/>
<rect x="162.5" y="371.3" width="1.0" height="1.0" fill="#2a2ad8"/>
<rect x="165.8" y="368.3" width="1.0" height="1.0" fill="#3636e6"/>
<rect x="162.8" y="362.1" width="1.0" height="1.0" fill="#3a30d0"/>
<rect x="163.2" y="376.5" width="1.0" height="1.0" fill="#3636e6"/>
<rect x="164.6" y="361.8" width="1.0" height="1.0" fill="#3636e6"/>
<rect x="168.2" y="362.1" width="1.0" height="1.0" fill="#2a2ad8"/>
<rect x="163.5" y="378.5" width="1.0" height="1.0" fill="#2020c0"/>
<rect x="168.4" y="363.5" width="1.0" height="1.0" fill="#2a2ad8"/>
<rect x="166.8" y="385.8" width="1.0" height="1.0" fill="#5050f0"/>
<rect x="162.1" y="372.7" width="1.0" height="1.0" fill="#4444ee"/>
<rect x="167.8" y="367.7" width="1.0" height="1.0" fill="#2020c0"/>
<rect x="163.5" y="366.8" width="1.0" height="1.0" fill="#2a2ad8"/>
<rect x="165.6" y="387.9" width="1.0" height="1.0" fill="#3a30d0"/>
<rect x="167.1" y="371.8" width="1.0" height="1.0" fill="#5050f0"/>
<rect x="167.2" y="377.1" width="1.0" height="1.0" fill="#2a2ad8"/>
<rect x="163.5" y="370.5" width="1.0" height="1.0" fill="#3a30d0"/>
<rect x="162.4" y="365.5" width="1.0" height="1.0" fill="#3636e6"/>
<rect x="166.3" y="370.4" width="1.0" height="1.0" fill="#3a30d0"/>
<rect x="166.6" y="368.3" width="1.0" height="1.0" fill="#3636e6"/>
<rect x="166.2" y="358.6" width="1.0" height="1.0" fill="#5050f0"/>
<rect x="169.5" y="379.3" width="1.0" height="1.0" fill="#3636e6"/>
<rect x="170.0" y="356.1" width="1.0" height="1.0" fill="#5050f0"/>
<rect x="171.8" y="380.0" width="1.0" height="1.0" fill="#2020c0"/>
<rect x="165.4" y="360.4" width="1.0" height="1.0" fill="#5050f0"/>
<rect x="165.8" y="387.8" width="1.0" height="1.0" fill="#5050f0"/>
<rect x="164.8" y="372.2" width="1.0" height="1.0" fill="#2020c0"/>
<rect x="163.0" y="355.0" width="1.0" height="1.0" fill="#4444ee"/>
<rect x="159.9" y="370.1" width="1.0" height="1.0" fill="#3636e6"/>
<rect x="167.1" y="370.4" width="1.0" height="1.0" fill="#3636e6"/>
<rect x="171.1" y="371.3" width="1.0" height="1.0" fill="#4444ee"/>
<rect x="163.4" y="375.3" width="1.0" height="1.0" fill="#2020c0"/>
<rect x="168.8" y="365.7" width="1.0" height="1.0" fill="#3636e6"/>
<rect x="164.9" y="377.4" width="1.0" height="1.0" fill="#5050f0"/>
<rect x="162.0" y="365.1" width="1.0" height="1.0" fill="#2020c0"/>
<rect x="167.2" y="373.0" width="1.0" height="1.0" fill="#2a2ad8"/>
<rect x="163.6" y="366.8" width="1.0" height="1.0" fill="#2020c0"/>
<rect x="168.1" y="369.9" width="1.0" height="1.0" fill="#5050f0"/>
<rect x="160.7" y="378.0" width="1.0" height="1.0" fill="#2a2ad8"/>
<rect x="166.9" y="364.2" width="1.0" height="1.0" fill="#3636e6"/>
<rect x="165.3" y="377.0" width="1.0" height="1.0" fill="#2a2ad8"/>
<rect x="165.8" y="358.6" width="1.0" height="1.0" fill="#3636e6"/>
<rect x="165.1" y="364.8" width="1.0" height="1.0" fill="#4444ee"/>
<rect x="160.2" y="376.3" width="1.0" height="1.0" fill="#2020c0"/>
<rect x="168.2" y="361.2" width="1.0" height="1.0" fill="#3636e6"/>
<rect x="165.6" y="373.4" width="1.0" height="1.0" fill="#3636e6"/>
<rect x="164.7" y="368.5" width="1.0" height="1.0" fill="#3a30d0"/>
<rect x="164.8" y="374.4" width="1.0" height="1.0" fill="#3636e6"/>
<rect x="165.1" y="382.6" width="1.0" height="1.0" fill="#2a2ad8"/>
<rect x="161.7" y="355.7" width="1.0" height="1.0" fill="#3636e6"/>
<rect x="163.2" y="385.9" width="1.0" height="1.0" fill="#2a2ad8"/>
<rect x="164.0" y="363.5" width="1.0" height="1.0" fill="#5050f0"/>
<rect x="166.1" y="365.5" width="1.0" height="1.0" fill="#4444ee"/>
<rect x="165.9" y="367.0" width="1.0" height="1.0" fill="#3a30d0"/>
<rect x="164.0" y="379.1" width="1.0" height="1.0" fill="#3a30d0"/>
<rect x="160.4" y="382.4" width="1.0" height="1.0" fill="#2a2ad8"/>
<rect x="167.9" y="371.7" width="1.0" height="1.0" fill="#5050f0"/>
<rect x="166.5" y="370.3" width="1.0" height="1.0" fill="#3a30d0"/>
<rect x="164.3" y="354.9" width="1.0" height="1.0" fill="#3636e6"/>
<rect x="166.9" y="373.2" width="1.0" height="1.0" fill="#3636e6"/>
<rect x="160.5" y="367.5" width="1.0" height="1.0" fill="#2020c0"/>
<rect x="166.7" y="362.3" width="1.0" height="1.0" fill="#3a30d0"/>
<rect x="163.3" y="355.1" width="1.0" height="1.0" fill="#3636e6"/>
<rect x="163.6" y="360.9" width="1.0" height="1.0" fill="#2020c0"/>
<rect x="166.1" y="382.2" width="1.0" height="1.0" fill="#5050f0"/>
<rect x="164.9" y="370.8" width="1.0" height="1.0" fill="#5050f0"/>
<rect x="163.9" y="384.1" width="1.0" height="1.0" fill="#5050f0"/>
<rect x="163.5" y="372.5" width="1.0" height="1.0" fill="#3a30d0"/>
<rect x="163.5" y="369.2" width="1.0" height="1.0" fill="#2020c0"/>
<rect x="168.7" y="371.0" width="1.0" height="1.0" fill="#5050f0"/>
<rect x="167.8" y="380.2" width="1.0" height="1.0" fill="#4444ee"/>
<rect x="165.6" y="366.8" width="1.0" height="1.0" fill="#2a2ad8"/>
<rect x="164.6" y="367.4" width="1.0" height="1.0" fill="#3a30d0"/>
<rect x="162.2" y="370.4" width="1.0" height="1.0" fill="#3636e6"/>
<rect x="165.4" y="382.1" width="1.0" height="1.0" fill="#5050f0"/>
<rect x="166.6" y="374.8" width="1.0" height="1.0" fill="#5050f0"/>
<rect x="168.5" y="358.9" width="1.0" height="1.0" fill="#3a30d0"/>
<rect x="170.2" y="373.2" width="1.0" height="1.0" fill="#3636e6"/>
<rect x="160.6" y="376.5" width="1.0" height="1.0" fill="#3636e6"/>
<rect x="164.0" y="364.6" width="1.0" height="1.0" fill="#4444ee"/>
<rect x="163.3" y="372.4" width="1.0" height="1.0" fill="#2a2ad8"/>
<rect x="169.0" y="379.2" width="1.0" height="1.0" fill="#2a2ad8"/>
<rect x="167.7" y="352.9" width="1.0" height="1.0" fill="#5050f0"/>
<rect x="166.2" y="368.2" width="1.0" height="1.0" fill="#3a30d0"/>
<rect x="161.4" y="383.5" width="1.0" height="1.0" fill="#4444ee"/>
<rect x="169.2" y="366.5" width="1.0" height="1.0" fill="#3636e6"/>
<rect x="166.1" y="370.8" width="1.0" height="1.0" fill="#5050f0"/>
<rect x="163.8" y="373.0" width="1.0" height="1.0" fill="#3636e6"/>
<rect x="164.3" y="378.4" width="1.0" height="1.0" fill="#2020c0"/>
<rect x="166.3" y="381.3" width="1.0" height="1.0" fill="#3636e6"/>
<rect x="167.1" y="375.9" width="1.0" height="1.0" fill="#2a2ad8"/>
<rect x="164.1" y="379.0" width="1.0" height="1.0" fill="#3636e6"/>
<rect x="167.8" y="381.4" width="1.0" height="1.0" fill="#3a30d0"/>
<rect x="167.4" y="368.9" width="1.0" height="1.0" fill="#2a2ad8"/>
<rect x="167.0" y="366.6" width="1.0" height="1.0" fill="#5050f0"/>
<rect x="162.6" y="381.9" width="1.0" height="1.0" fill="#4444ee"/>
<rect x="167.8" y="386.0" width="1.0" height="1.0" fill="#2020c0"/>
<rect x="163.7" y="356.4" width="1.0" height="1.0" fill="#3636e6"/>
<rect x="166.0" y="370.3" width="1.0" height="1.0" fill="#2020c0"/>
<rect x="168.2" y="381.8" width="1.0" height="1.0" fill="#2a2ad8"/>
<rect x="165.6" y="361.0" width="1.0" height="1.0" fill="#4444ee"/>
<rect x="167.7" y="374.7" width="1.0" height="1.0" fill="#5050f0"/>
<rect x="164.4" y="353.3" width="1.0" height="1.0" fill="#2a2ad8"/>
<rect x="164.0" y="367.6" width="1.0" height="1.0" fill="#5050f0"/>
<rect x="165.3" y="368.3" width="1.0" height="1.0" fill="#3a30d0"/>
<rect x="162.7" y="364.2" width="1.0" height="1.0" fill="#5050f0"/>
<rect x="166.0" y="371.5" width="1.0" height="1.0" fill="#2020c0"/>
<rect x="166.8" y="372.1" width="1.0" height="1.0" fill="#4444ee"/>
<rect x="168.8" y="368.6" width="1.0" height="1.0" fill="#2a2ad8"/>
<rect x="167.4" y="382.2" width="1.0" height="1.0" fill="#3636e6"/>
<rect x="163.3" y="362.6" width="1.0" height="1.0" fill="#2a2ad8"/>
<rect x="160.5" y="367.5" width="1.0" height="1.0" fill="#2a2ad8"/>
<rect x="164.5" y="375.3" width="1.0" height="1.0" fill="#3636e6"/>
<rect x="165.3" y="363.8" width="1.0" height="1.0" fill="#3636e6"/>
<rect x="167.7" y="371.1" width="1.0" height="1.0" fill="#2a2ad8"/>
<rect x="165.9" y="373.0" width="1.0" height="1.0" fill="#3a30d0"/>
<rect x="167.6" y="368.5" width="1.0" height="1.0" fill="#2020c0"/>
<rect x="164.1" y="359.1" width="1.0" height="1.0" fill="#3a30d0"/>
<rect x="165.1" y="378.0" width="1.0" height="1.0" fill="#4444ee"/>
<rect x="171.1" y="368.6" width="1.0" height="1.0" fill="#5050f0"/>
<rect x="165.3" y="379.3" width="1.0" height="1.0" fill="#3a30d0"/>
<rect x="163.6" y="376.0" width="1.0" height="1.0" fill="#4444ee"/>
<rect x="167.5" y="353.4" width="1.0" height="1.0" fill="#5050f0"/>
<rect x="169.3" y="370.9" width="1.0" height="1.0" fill="#2020c0"/>
<rect x="164.1" y="357.6" width="1.0" height="1.0" fill="#3636e6"/>
<rect x="167.4" y="359.3" width="1.0" height="1.0" fill="#2a2ad8"/>
<rect x="168.2" y="358.1" width="1.0" height="1.0" fill="#5050f0"/>
<rect x="169.6" y="374.5" width="1.0" height="1.0" fill="#2020c0"/>
<rect x="164.4" y="362.1" width="1.0" height="1.0" fill="#5050f0"/>
<rect x="162.7" y="391.3" width="1.0" height="1.0" fill="#2a2ad8"/>
<rect x="161.8" y="372.5" width="1.0" height="1.0" fill="#4444ee"/>
<rect x="162.0" y="369.8" width="1.0" height="1.0" fill="#4444ee"/>
<rect x="166.0" y="382.4" width="1.0" height="1.0" fill="#5050f0"/>
<rect x="167.3" y="364.7" width="1.0" height="1.0" fill="#2a2ad8"/>
<rect x="163.0" y="376.9" width="1.0" height="1.0" fill="#3a30d0"/>
<rect x="162.9" y="357.1" width="1.0" height="1.0" fill="#2a2ad8"/>
<rect x="163.3" y="362.8" width="1.0" height="1.0" fill="#3636e6"/>
<rect x="169.7" y="363.8" width="1.0" height="1.0" fill="#2020c0"/>
<rect x="168.2" y="365.3" width="1.0" height="1.0" fill="#5050f0"/>
<rect x="163.5" y="379.8" width="1.0" height="1.0" fill="#3a30d0"/>
<rect x="165.9" y="375.1" width="1.0" height="1.0" fill="#3a30d0"/>
<rect x="164.4" y="374.8" width="1.0" height="1.0" fill="#3636e6"/>
<rect x="166.4" y="364.7" width="1.0" height="1.0" fill="#3636e6"/>
<rect x="167.9" y="380.7" width="1.0" height="1.0" fill="#3636e6"/>
<rect x="162.4" y="358.2" width="1.0" height="1.0" fill="#5050f0"/>
<rect x="166.1" y="368.6" width="1.0" height="1.0" fill="#4444ee"/>
<rect x="162.1" y="383.5" width="1.0" height="1.0" fill="#4444ee"/>
<rect x="166.7" y="373.9" width="1.0" height="1.0" fill="#2020c0"/>
<rect x="163.8" y="376.2" width="1.0" height="1.0" fill="#5050f0"/>
<rect x="166.7" y="360.8" width="1.0" height="1.0" fill="#4444ee"/>
<rect x="164.5" y="364.7" width="1.0" height="1.0" fill="#2020c0"/>
<rect x="169.8" y="370.2" width="1.0" height="1.0" fill="#4444ee"/>
<rect x="162.7" y="360.2" width="1.0" height="1.0" fill="#3636e6"/>
<rect x="165.7" y="365.7" width="1.0" height="1.0" fill="#5050f0"/>
<rect x="167.7" y="377.7" width="1.0" height="1.0" fill="#5050f0"/>
<rect x="165.8" y="378.7" width="1.0" height="1.0" fill="#2020c0"/>
<rect x="166.3" y="364.3" width="1.0" height="1.0" fill="#3a30d0"/>
<rect x="166.7" y="381.0" width="1.0" height="1.0" fill="#2a2ad8"/>
<rect x="163.7" y="366.6" width="1.0" height="1.0" fill="#3a30d0"/>
<rect x="165.2" y="377.9" width="1.0" height="1.0" fill="#3636e6"/>
<rect x="165.3" y="379.6" width="1.0" height="1.0" fill="#3a30d0"/>
<rect x="162.1" y="357.8" width="1.0" height="1.0" fill="#3636e6"/>
<rect x="170.3" y="386.0" width="1.0" height="1.0" fill="#2020c0"/>
<rect x="163.7" y="365.0" width="1.0" height="1.0" fill="#2a2ad8"/>
<rect x="165.1" y="362.4" width="1.0" height="1.0" fill="#2a2ad8"/>
<rect x="165.1" y="363.6" width="1.0" height="1.0" fill="#4444ee"/>
<rect x="162.2" y="375.4" width="1.0" height="1.0" fill="#2020c0"/>
<rect x="164.0" y="377.2" width="1.0" height="1.0" fill="#3a30d0"/>
<rect x="168.2" y="379.1" width="1.0" height="1.0" fill="#5050f0"/>
<rect x="164.7" y="369.0" width="1.0" height="1.0" fill="#3636e6"/>
<rect x="165.1" y="373.4" width="1.0" height="1.0" fill="#4444ee"/>
<rect x="163.2" y="377.6" width="1.0" height="1.0" fill="#4444ee"/>
<rect x="169.2" y="365.7" width="1.0" height="1.0" fill="#2a2ad8"/>
<rect x="168.3" y="377.4" width="1.0" height="1.0" fill="#4444ee"/>
<rect x="164.7" y="361.8" width="1.0" height="1.0" fill="#4444ee"/>
<rect x="166.0" y="373.3" width="1.0" height="1.0" fill="#4444ee"/>
<rect x="162.4" y="371.1" width="1.0" height="1.0" fill="#2a2ad8"/>
<rect x="163.5" y="358.3" width="1.0" height="1.0" fill="#4444ee"/>
<rect x="159.7" y="365.5" width="1.0" height="1.0" fill="#2020c0"/>
<rect x="161.2" y="365.7" width="1.0" height="1.0" fill="#4444ee"/>
<rect x="167.0" y="374.6" width="1.0" height="1.0" fill="#2a2ad8"/>
<rect x="165.2" y="369.9" width="1.0" height="1.0" fill="#4444ee"/>
<rect x="169.4" y="378.0" width="1.0" height="1.0" fill="#3a30d0"/>
<rect x="160.8" y="375.0" width="1.0" height="1.0" fill="#3636e6"/>
<rect x="164.8" y="361.0" width="1.0" height="1.0" fill="#2a2ad8"/>
<rect x="161.3" y="366.1" width="1.0" height="1.0" fill="#3a30d0"/>
<rect x="167.4" y="377.2" width="1.0" height="1.0" fill="#2a2ad8"/>
<rect x="166.6" y="367.1" width="1.0" height="1.0" fill="#2020c0"/>
<rect x="166.9" y="380.2" width="1.0" height="1.0" fill="#3a30d0"/>
<rect x="165.4" y="377.8" width="1.0" height="1.0" fill="#2020c0"/>
<rect x="164.4" y="364.4" width="1.0" height="1.0" fill="#4444ee"/>
<rect x="162.8" y="369.9" width="1.0" height="1.0" fill="#2a2ad8"/>
<rect x="164.9" y="376.5" width="1.0" height="1.0" fill="#4444ee"/>
<rect x="167.3" y="354.6" width="1.0" height="1.0" fill="#2020c0"/>
<rect x="165.1" y="374.8" width="1.0" height="1.0" fill="#3636e6"/>
<rect x="163.1" y="368.6" width="1.0" height="1.0" fill="#4444ee"/>
<rect x="163.2" y="359.4" width="1.0" height="1.0" fill="#3636e6"/>
<rect x="162.4" y="381.9" width="1.0" height="1.0" fill="#3636e6"/>
<rect x="161.5" y="374.1" width="1.0" height="1.0" fill="#5050f0"/>
<rect x="167.8" y="372.8" width="1.0" height="1.0" fill="#3a30d0"/>
<rect x="171.6" y="379.1" width="1.0" height="1.0" fill="#2020c0"/>
<rect x="167.5" y="371.8" width="1.0" height="1.0" fill="#4444ee"/>
<rect x="164.5" y="383.4" width="1.0" height="1.0" fill="#3a30d0"/>
<rect x="163.5" y="364.9" width="1.0" height="1.0" fill="#5050f0"/>
<rect x="160.4" y="376.4" width="1.0" height="1.0" fill="#2a2ad8"/>
<rect x="167.9" y="385.7" width="1.0" height="1.0" fill="#2a2ad8"/>
<rect x="170.7" y="375.6" width="1.0" height="1.0" fill="#2a2ad8"/>
<rect x="166.8" y="361.3" width="1.0" height="1.0" fill="#2a2ad8"/>
<rect x="168.7" y="365.4" width="1.0" height="1.0" fill="#3636e6"/>
<rect x="161.6" y="370.6" width="1.0" height="1.0" fill="#5050f0"/>
<rect x="165.6" y="355.2" width="1.0" height="1.0" fill="#3a30d0"/>
<rect x="166.4" y="366.4" width="1.0" height="1.0" fill="#5050f0"/>
<rect x="165.9" y="374.3" width="1.0" height="1.0" fill="#2a2ad8"/>
<rect x="166.0" y="374.1" width="1.0" height="1.0" fill="#2a2ad8"/>
<rect x="162.2" y="376.9" width="1.0" height="1.0" fill="#2020c0"/>
<rect x="164.8" y="361.7" width="1.0" height="1.0" fill="#4444ee"/>
<rect x="166.1" y="372.9" width="1.0" height="1.0" fill="#5050f0"/>
<rect x="166.7" y="374.2" width="1.0" height="1.0" fill="#4444ee"/>
<rect x="165.1" y="376.5" width="1.0" height="1.0" fill="#3a30d0"/>
<rect x="166.8" y="357.8" width="1.0" height="1.0" fill="#5050f0"/>
<rect x="169.0" y="385.9" width="1.0" height="1.0" fill="#2020c0"/>
<rect x="163.8" y="368.7" width="1.0" height="1.0" fill="#5050f0"/>
<rect x="168.3" y="369.4" width="1.0" height="1.0" fill="#2a2ad8"/>
<rect x="164.9" y="374.9" width="1.0" height="1.0" fill="#2020c0"/>
<rect x="166.2" y="381.0" width="1.0" height="1.0" fill="#2a2ad8"/>
<rect x="166.1" y="375.1" width="1.0" height="1.0" fill="#3636e6"/>
<rect x="161.9" y="376.0" width="1.0" height="1.0" fill="#2a2ad8"/>
<rect x="168.0" y="372.4" width="1.0" height="1.0" fill="#5050f0"/>
<rect x="168.7" y="366.6" width="1.0" height="1.0" fill="#2020c0"/>
<rect x="165.1" y="370.6" width="1.0" height="1.0" fill="#4444ee"/>
<rect x="170.2" y="358.5" width="1.0" height="1.0" fill="#3636e6"/>
<rect x="160.2" y="372.1" width="1.0" height="1.0" fill="#3a30d0"/>
<rect x="161.7" y="363.3" width="1.0" height="1.0" fill="#3636e6"/>
<rect x="167.0" y="375.7" width="1.0" height="1.0" fill="#3636e6"/>
<rect x="163.6" y="367.1" width="1.0" height="1.0" fill="#3a30d0"/>
<rect x="159.9" y="357.6" width="1.0" height="1.0" fill="#2020c0"/>
<rect x="166.1" y="375.1" width="1.0" height="1.0" fill="#2020c0"/>
<rect x="167.9" y="372.9" width="1.0" height="1.0" fill="#4444ee"/>
<rect x="163.2" y="371.4" width="1.0" height="1.0" fill="#2020c0"/>
<rect x="167.7" y="384.0" width="1.0" height="1.0" fill="#2020c0"/>
<rect x="167.2" y="357.8" width="1.0" height="1.0" fill="#4444ee"/>
<rect x="168.4" y="376.6" width="1.0" height="1.0" fill="#3636e6"/>
<rect x="163.1" y="365.2" width="1.0" height="1.0" fill="#2a2ad8"/>
<rect x="169.0" y="373.3" width="1.0" height="1.0" fill="#4444ee"/>
<rect x="164.7" y="366.9" width="1.0" height="1.0" fill="#3a30d0"/>
<rect x="166.2" y="367.6" width="1.0" height="1.0" fill="#5050f0"/>
<rect x="164.8" y="366.2" width="1.0" height="1.0" fill="#3636e6"/>
<rect x="165.0" y="367.3" width="1.0" height="1.0" fill="#2a2ad8"/>
<rect x="168.6" y="356.0" width="1.0" height="1.0" fill="#4444ee"/>
<rect x="164.9" y="376.7" width="1.0" height="1.0" fill="#2a2ad8"/>
<rect x="166.6" y="367.6" width="1.0" height="1.0" fill="#4444ee"/>
<rect x="165.2" y="381.0" width="1.0" height="1.0" fill="#2020c0"/>
<rect x="164.0" y="371.5" width="1.0" height="1.0" fill="#3a30d0"/>
<rect x="167.6" y="372.2" width="1.0" height="1.0" fill="#3636e6"/>
<rect x="164.9" y="381.1" width="1.0" height="1.0" fill="#3636e6"/>
<rect x="169.2" y="363.0" width="1.0" height="1.0" fill="#3a30d0"/>
<rect x="159.9" y="370.3" width="1.0" height="1.0" fill="#2a2ad8"/>
<rect x="166.3" y="372.2" width="1.0" height="1.0" fill="#5050f0"/>
<rect x="161.9" y="364.9" width="1.0" height="1.0" fill="#3636e6"/>
<rect x="167.0" y="373.2" width="1.0" height="1.0" fill="#2020c0"/>
<rect x="168.4" y="370.4" width="1.0" height="1.0" fill="#3a30d0"/>
<rect x="163.4" y="369.7" width="1.0" height="1.0" fill="#2a2ad8"/>
<rect x="168.7" y="376.1" width="1.0" height="1.0" fill="#3636e6"/>
<rect x="165.8" y="385.2" width="1.0" height="1.0" fill="#3a30d0"/>
<rect x="165.4" y="367.5" width="1.0" height="1.0" fill="#3636e6"/>
<rect x="167.8" y="373.9" width="1.0" height="1.0" fill="#2a2ad8"/>
<rect x="169.2" y="373.5" width="1.0" height="1.0" fill="#5050f0"/>
<rect x="166.6" y="376.9" width="1.0" height="1.0" fill="#2a2ad8"/>
<rect x="166.7" y="361.7" width="1.0" height="1.0" fill="#3636e6"/>
<rect x="172.0" y="371.9" width="1.0" height="1.0" fill="#4444ee"/>
<rect x="165.8" y="368.4" width="1.0" height="1.0" fill="#3636e6"/>
<rect x="167.5" y="378.7" width="1.0" height="1.0" fill="#3636e6"/>
<rect x="167.0" y="376.9" width="1.0" height="1.0" fill="#3636e6"/>
<rect x="167.4" y="389.0" width="1.0" height="1.0" fill="#5050f0"/>
<rect x="162.0" y="390.8" width="1.0" height="1.0" fill="#2a2ad8"/>
<rect x="165.9" y="370.6" width="1.0" height="1.0" fill="#6a4a8a"/>
<rect x="164.4" y="374.4" width="1.0" height="1.0" fill="#5a3a9a"/>
<rect x="165.5" y="369.3" width="1.0" height="1.0" fill="#5a3a9a"/>
<rect x="165.8" y="374.0" width="1.0" height="1.0" fill="#6a4a8a"/>
<rect x="165.6" y="373.3" width="1.0" height="1.0" fill="#2a2aa0"/>
<rect x="167.2" y="374.1" width="1.0" height="1.0" fill="#6a4a8a"/>
<rect x="164.5" y="369.1" width="1.0" height="1.0" fill="#5a3a9a"/>
<rect x="165.4" y="381.1" width="1.0" height="1.0" fill="#6a4a8a"/>
<rect x="167.3" y="371.3" width="1.0" height="1.0" fill="#2a2aa0"/>
<rect x="164.3" y="372.7" width="1.0" height="1.0" fill="#2a2aa0"/>
<rect x="166.1" y="367.1" width="1.0" height="1.0" fill="#6a4a8a"/>
<rect x="165.5" y="369.6" width="1.0" height="1.0" fill="#2a2aa0"/>
<rect x="166.1" y="374.3" width="1.0" height="1.0" fill="#6a4a8a"/>
<rect x="165.5" y="367.2" width="1.0" height="1.0" fill="#5a3a9a"/>
<rect x="166.0" y="379.2" width="1.0" height="1.0" fill="#5a3a9a"/>
<rect x="166.7" y="371.4" width="1.0" height="1.0" fill="#2a2aa0"/>
<rect x="165.8" y="374.2" width="1.0" height="1.0" fill="#2a2aa0"/>
<rect x="166.0" y="368.1" width="1.0" height="1.0" fill="#2a2aa0"/>
<rect x="165.7" y="371.4" width="1.0" height="1.0" fill="#6a4a8a"/>
<rect x="165.0" y="375.9" width="1.0" height="1.0" fill="#2a2aa0"/>
<rect x="164.4" y="368.7" width="1.0" height="1.0" fill="#2a2aa0"/>
<rect x="163.5" y="370.7" width="1.0" height="1.0" fill="#6a4a8a"/>
<rect x="167.0" y="375.1" width="1.0" height="1.0" fill="#5a3a9a"/>
<rect x="168.0" y="372.5" width="1.0" height="1.0" fill="#6a4a8a"/>
<rect x="164.0" y="377.7" width="1.0" height="1.0" fill="#6a4a8a"/>
<rect x="161.2" y="374.9" width="0.8" height="0.8" fill="#b0b0e8"/>
<rect x="159.8" y="368.5" width="0.8" height="0.8" fill="#b0b0e8"/>
<rect x="168.3" y="353.4" width="0.8" height="0.8" fill="#b0b0e8"/>
<rect x="165.4" y="393.7" width="0.8" height="0.8" fill="#b0b0e8"/>
<rect x="162.1" y="389.4" width="0.8" height="0.8" fill="#b0b0e8"/>
<rect x="167.0" y="374.6" width="0.8" height="0.8" fill="#b0b0e8"/>
<rect x="163.3" y="361.1" width="0.8" height="0.8" fill="#b0b0e8"/>
<rect x="171.8" y="367.8" width="0.8" height="0.8" fill="#b0b0e8"/>
<rect x="177.7" y="368.4" width="0.8" height="0.8" fill="#b0b0e8"/>
<rect x="165.3" y="358.3" width="0.8" height="0.8" fill="#b0b0e8"/>
<rect x="161.7" y="366.8" width="0.8" height="0.8" fill="#b0b0e8"/>
<rect x="175.9" y="389.0" width="0.8" height="0.8" fill="#b0b0e8"/>
<text x="199.5" y="309.0" font-size="8.2" text-anchor="end" font-weight="normal" fill="#111" stroke="#111" stroke-width="0.3" textLength="14.6" lengthAdjust="spacingAndGlyphs">30%</text>
<text x="197.6" y="319.0" font-size="8.2" text-anchor="end" font-weight="normal" fill="#111" stroke="#111" stroke-width="0.3" textLength="19.6" lengthAdjust="spacingAndGlyphs">CD34</text>
<text x="199.6" y="315.8" font-size="5" text-anchor="end" font-weight="normal" fill="#111" stroke="#111" stroke-width="0.5">+</text>
<text x="199.3" y="358.2" font-size="8.2" text-anchor="end" font-weight="normal" fill="#111" stroke="#111" stroke-width="0.3" textLength="14.4" lengthAdjust="spacingAndGlyphs">90%</text>
<text x="197.4" y="369.4" font-size="8.2" text-anchor="end" font-weight="normal" fill="#111" stroke="#111" stroke-width="0.3" textLength="23.8" lengthAdjust="spacingAndGlyphs">CD117</text>
<text x="199.8" y="365.6" font-size="5" text-anchor="end" font-weight="normal" fill="#111" stroke="#111" stroke-width="0.5">+</text>
<line x1="147.1" y1="400.1" x2="147.1" y2="348.5" stroke="#111" stroke-width="1.4"/>
<line x1="146.5" y1="400.1" x2="198.5" y2="400.1" stroke="#111" stroke-width="1.4"/>
<path d="M147.1 345.1 L144.2 350.8 L150.0 350.8 Z" fill="#111"/>
<path d="M201.8 400.1 L196.1 397.2 L196.1 403.0 Z" fill="#111"/>
<text x="141.6" y="388.0" font-size="8.8" text-anchor="middle" font-weight="bold" fill="#111" textLength="25.0" lengthAdjust="spacingAndGlyphs" transform="rotate(-90 141.6 388.0)">CD117</text>
<text x="157.2" y="413.6" font-size="8.8" text-anchor="middle" font-weight="bold" fill="#111" textLength="19.8" lengthAdjust="spacingAndGlyphs">CD34</text>
<text x="255.4" y="295.5" font-size="11.2" text-anchor="start" font-weight="bold" fill="#000">G</text>
<line x1="305.0" y1="306.84" x2="305.0" y2="400.2" stroke="#808080" stroke-width="1"/>
<line x1="302.0" y1="400.2" x2="305.0" y2="400.2" stroke="#808080" stroke-width="0.8"/>
<text x="295.9" y="403.09999999999997" font-size="9.3" text-anchor="end" font-weight="normal" fill="#111" stroke="#111" stroke-width="0.5" textLength="4.5" lengthAdjust="spacingAndGlyphs">0</text>
<line x1="302.0" y1="384.64" x2="305.0" y2="384.64" stroke="#808080" stroke-width="0.8"/>
<text x="295.9" y="387.53999999999996" font-size="9.3" text-anchor="end" font-weight="normal" fill="#111" stroke="#111" stroke-width="0.5" textLength="4.5" lengthAdjust="spacingAndGlyphs">2</text>
<line x1="302.0" y1="369.08" x2="305.0" y2="369.08" stroke="#808080" stroke-width="0.8"/>
<text x="295.9" y="371.97999999999996" font-size="9.3" text-anchor="end" font-weight="normal" fill="#111" stroke="#111" stroke-width="0.5" textLength="4.5" lengthAdjust="spacingAndGlyphs">4</text>
<line x1="302.0" y1="353.52" x2="305.0" y2="353.52" stroke="#808080" stroke-width="0.8"/>
<text x="295.9" y="356.41999999999996" font-size="9.3" text-anchor="end" font-weight="normal" fill="#111" stroke="#111" stroke-width="0.5" textLength="4.5" lengthAdjust="spacingAndGlyphs">6</text>
<line x1="302.0" y1="337.96" x2="305.0" y2="337.96" stroke="#808080" stroke-width="0.8"/>
<text x="295.9" y="340.85999999999996" font-size="9.3" text-anchor="end" font-weight="normal" fill="#111" stroke="#111" stroke-width="0.5" textLength="4.5" lengthAdjust="spacingAndGlyphs">8</text>
<line x1="302.0" y1="322.4" x2="305.0" y2="322.4" stroke="#808080" stroke-width="0.8"/>
<text x="295.9" y="325.29999999999995" font-size="9.3" text-anchor="end" font-weight="normal" fill="#111" stroke="#111" stroke-width="0.5" textLength="9.0" lengthAdjust="spacingAndGlyphs">10</text>
<line x1="302.0" y1="306.84" x2="305.0" y2="306.84" stroke="#808080" stroke-width="0.8"/>
<text x="295.9" y="309.73999999999995" font-size="9.3" text-anchor="end" font-weight="normal" fill="#111" stroke="#111" stroke-width="0.5" textLength="9.0" lengthAdjust="spacingAndGlyphs">12</text>
<line x1="305.0" y1="400.2" x2="391" y2="400.2" stroke="#808080" stroke-width="1"/>
<line x1="346.8" y1="400.2" x2="346.8" y2="402.7" stroke="#808080" stroke-width="0.8"/>
<line x1="390.6" y1="400.2" x2="390.6" y2="402.7" stroke="#808080" stroke-width="0.8"/>
<line x1="320.6" y1="338.0" x2="320.6" y2="312.0" stroke="#555" stroke-width="0.8"/>
<line x1="318.1" y1="312.0" x2="323.1" y2="312.0" stroke="#555" stroke-width="0.8"/>
<rect x="314.1" y="338.0" width="12.5" height="62.19999999999999" fill="#000" stroke="none" stroke-width="0.8"/>
<rect x="326.5" y="396.9" width="12.0" height="3.3000000000000114" fill="#c80006" stroke="#7c0000" stroke-width="0.5"/>
<line x1="362.8" y1="376.9" x2="362.8" y2="369.5" stroke="#555" stroke-width="0.8"/>
<line x1="360.3" y1="369.5" x2="365.3" y2="369.5" stroke="#555" stroke-width="0.8"/>
<rect x="356.5" y="376.9" width="12.4" height="23.30000000000001" fill="#000" stroke="none" stroke-width="0.8"/>
<rect x="368.9" y="397.1" width="12.0" height="3.099999999999966" fill="#c80006" stroke="#7c0000" stroke-width="0.5"/>
<circle cx="330.20" cy="386.2" r="1.4" fill="#111"/>
<circle cx="334.80" cy="386.2" r="1.4" fill="#111"/>
<line x1="332.5" y1="396.9" x2="332.5" y2="395.3" stroke="#666" stroke-width="0.8"/>
<line x1="330.5" y1="395.3" x2="334.5" y2="395.3" stroke="#666" stroke-width="0.8"/>
<circle cx="372.30" cy="386.2" r="1.4" fill="#111"/>
<circle cx="376.90" cy="386.2" r="1.4" fill="#111"/>
<line x1="374.9" y1="397.1" x2="374.9" y2="396.0" stroke="#666" stroke-width="0.8"/>
<line x1="372.9" y1="396.0" x2="376.9" y2="396.0" stroke="#666" stroke-width="0.8"/>
<text x="326.4" y="413.2" font-size="9.3" text-anchor="middle" font-weight="normal" fill="#111" stroke="#111" stroke-width="0.3" textLength="18.4" lengthAdjust="spacingAndGlyphs">CML</text>
<text x="369.0" y="413.2" font-size="9.3" text-anchor="middle" font-weight="normal" fill="#111" stroke="#111" stroke-width="0.3" textLength="19.6" lengthAdjust="spacingAndGlyphs">NBM</text>
<rect x="347.9" y="311.3" width="5.8" height="4.8" fill="#000" stroke="none" stroke-width="0.8"/>
<text x="355.8" y="316.3" font-size="9.3" text-anchor="start" font-weight="normal" fill="#111" stroke="#111" stroke-width="0.5" textLength="29.1" lengthAdjust="spacingAndGlyphs">Control</text>
<rect x="347.9" y="327.1" width="5.8" height="4.8" fill="#c80006" stroke="#7c0000" stroke-width="0.5"/>
<text x="355.8" y="332.2" font-size="9.3" text-anchor="start" font-weight="normal" fill="#111" stroke="#111" stroke-width="0.5" textLength="12.1" lengthAdjust="spacingAndGlyphs">IK6</text>
<text x="273.3" y="354.6" font-size="9.0" text-anchor="middle" font-weight="normal" fill="#111" stroke="#111" stroke-width="0.5" textLength="91.5" lengthAdjust="spacingAndGlyphs" transform="rotate(-90 273.3 354.6)">% PI<tspan font-size="5.5" dy="-3">+</tspan><tspan dy="3"> nonadherent cells</tspan></text>
<text x="387.5" y="295.5" font-size="11.2" text-anchor="start" font-weight="bold" fill="#000">H</text>
<line x1="437.3" y1="308.38" x2="437.3" y2="400.3" stroke="#808080" stroke-width="1"/>
<line x1="434.3" y1="400.3" x2="437.3" y2="400.3" stroke="#808080" stroke-width="0.8"/>
<text x="427.8" y="403.2" font-size="9.3" text-anchor="end" font-weight="normal" fill="#111" stroke="#111" stroke-width="0.5" textLength="4.5" lengthAdjust="spacingAndGlyphs">0</text>
<line x1="434.3" y1="384.98" x2="437.3" y2="384.98" stroke="#808080" stroke-width="0.8"/>
<text x="427.8" y="387.88" font-size="9.3" text-anchor="end" font-weight="normal" fill="#111" stroke="#111" stroke-width="0.5" textLength="4.5" lengthAdjust="spacingAndGlyphs">2</text>
<line x1="434.3" y1="369.66" x2="437.3" y2="369.66" stroke="#808080" stroke-width="0.8"/>
<text x="427.8" y="372.56" font-size="9.3" text-anchor="end" font-weight="normal" fill="#111" stroke="#111" stroke-width="0.5" textLength="4.5" lengthAdjust="spacingAndGlyphs">4</text>
<line x1="434.3" y1="354.34000000000003" x2="437.3" y2="354.34000000000003" stroke="#808080" stroke-width="0.8"/>
<text x="427.8" y="357.24" font-size="9.3" text-anchor="end" font-weight="normal" fill="#111" stroke="#111" stroke-width="0.5" textLength="4.5" lengthAdjust="spacingAndGlyphs">6</text>
<line x1="434.3" y1="339.02" x2="437.3" y2="339.02" stroke="#808080" stroke-width="0.8"/>
<text x="427.8" y="341.91999999999996" font-size="9.3" text-anchor="end" font-weight="normal" fill="#111" stroke="#111" stroke-width="0.5" textLength="4.5" lengthAdjust="spacingAndGlyphs">8</text>
<line x1="434.3" y1="323.70000000000005" x2="437.3" y2="323.70000000000005" stroke="#808080" stroke-width="0.8"/>
<text x="427.8" y="326.6" font-size="9.3" text-anchor="end" font-weight="normal" fill="#111" stroke="#111" stroke-width="0.5" textLength="9.0" lengthAdjust="spacingAndGlyphs">10</text>
<line x1="434.3" y1="308.38" x2="437.3" y2="308.38" stroke="#808080" stroke-width="0.8"/>
<text x="427.8" y="311.28" font-size="9.3" text-anchor="end" font-weight="normal" fill="#111" stroke="#111" stroke-width="0.5" textLength="9.0" lengthAdjust="spacingAndGlyphs">12</text>
<line x1="437.3" y1="400.3" x2="517.8" y2="400.3" stroke="#808080" stroke-width="1"/>
<line x1="477.6" y1="400.3" x2="477.6" y2="402.8" stroke="#808080" stroke-width="0.8"/>
<line x1="517.6" y1="400.3" x2="517.6" y2="402.8" stroke="#808080" stroke-width="0.8"/>
<line x1="452.0" y1="337.3" x2="452.0" y2="321.2" stroke="#666" stroke-width="0.8"/>
<line x1="449.75" y1="321.2" x2="454.25" y2="321.2" stroke="#666" stroke-width="0.8"/>
<line x1="463.6" y1="347.7" x2="463.6" y2="335.4" stroke="#666" stroke-width="0.8"/>
<line x1="461.35" y1="335.4" x2="465.85" y2="335.4" stroke="#666" stroke-width="0.8"/>
<rect x="446.2" y="337.3" width="11.6" height="63.0" fill="#000" stroke="none" stroke-width="0.8"/>
<rect x="457.8" y="347.7" width="11.6" height="52.60000000000002" fill="#c80006" stroke="#7c0000" stroke-width="0.5"/>
<rect x="486.5" y="384.7" width="11.3" height="15.600000000000023" fill="#000" stroke="none" stroke-width="0.8"/>
<rect x="497.8" y="385.3" width="11.6" height="15.0" fill="#c80006" stroke="#7c0000" stroke-width="0.5"/>
<text x="457.5" y="413.2" font-size="9.3" text-anchor="middle" font-weight="normal" fill="#111" stroke="#111" stroke-width="0.3" textLength="18.4" lengthAdjust="spacingAndGlyphs">CML</text>
<text x="498.3" y="413.2" font-size="9.3" text-anchor="middle" font-weight="normal" fill="#111" stroke="#111" stroke-width="0.3" textLength="19.6" lengthAdjust="spacingAndGlyphs">NBM</text>
<rect x="482.7" y="309.9" width="5.8" height="5.4" fill="#000" stroke="none" stroke-width="0.8"/>
<text x="491.0" y="315.5" font-size="9.3" text-anchor="start" font-weight="normal" fill="#111" stroke="#111" stroke-width="0.5" textLength="28.8" lengthAdjust="spacingAndGlyphs">Control</text>
<rect x="482.7" y="326.6" width="5.8" height="5.2" fill="#c80006" stroke="#7c0000" stroke-width="0.5"/>
<text x="491.0" y="332.0" font-size="9.3" text-anchor="start" font-weight="normal" fill="#111" stroke="#111" stroke-width="0.5" textLength="12.1" lengthAdjust="spacingAndGlyphs">IK6</text>
<text x="405.9" y="355.8" font-size="9.0" text-anchor="middle" font-weight="normal" fill="#111" stroke="#111" stroke-width="0.5" textLength="80.6" lengthAdjust="spacingAndGlyphs" transform="rotate(-90 405.9 355.8)">% cleaved capsae-3<tspan font-size="5.5" dy="-3">+</tspan></text>
<text x="416.9" y="356.2" font-size="9.0" text-anchor="middle" font-weight="normal" fill="#111" stroke="#111" stroke-width="0.5" textLength="48.3" lengthAdjust="spacingAndGlyphs" transform="rotate(-90 416.9 356.2)">CD34<tspan font-size="5.5" dy="-3">+</tspan><tspan dy="3"> cells</tspan></text>
</svg>
</body></html>
